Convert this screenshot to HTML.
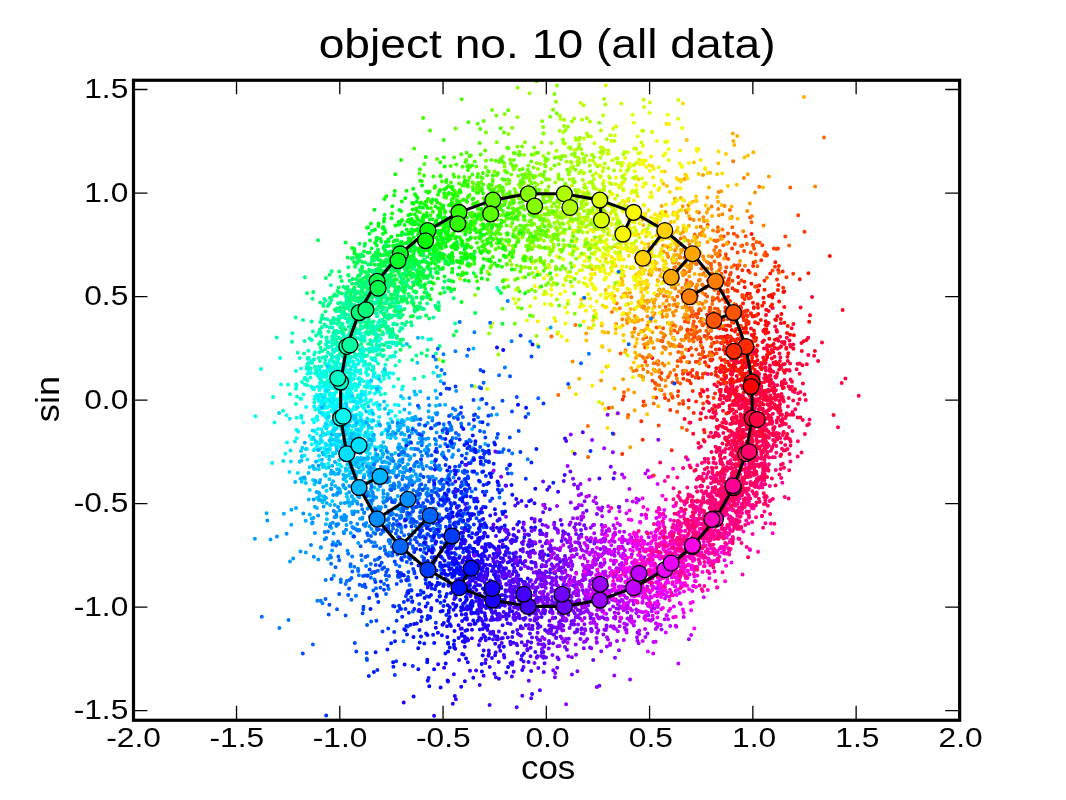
<!DOCTYPE html>
<html><head><meta charset="utf-8"><title>object no. 10 (all data)</title>
<style>html,body{margin:0;padding:0;background:#fff;width:1066px;height:800px;overflow:hidden}svg{display:block;will-change:transform}text{font-family:"Liberation Sans",sans-serif;fill:#000}</style></head>
<body>
<svg width="1066" height="800" viewBox="0 0 1066 800" style="position:absolute;left:0;top:0">
<rect width="1066" height="800" fill="#fff"/>
<defs><clipPath id="c"><rect x="133.25" y="80.00" width="826.15" height="640.00"/></clipPath></defs>
<g clip-path="url(#c)" fill="none" stroke-linecap="round" stroke-width="4.0">
<path stroke="#ff0037" d="M770.4 371.6h0M762.2 368h0M759 373.8h0M781.8 383.3h0M756.5 386.2h0M822 342.5h0M775.9 399.2h0M711 417.2h0M745.8 357.7h0M749.1 410.8h0M767.4 418.1h0M736 388.9h0M722.4 403.2h0M752.2 383.1h0M768.7 391.5h0M799.6 373.8h0M688 374.1h0M755.2 449h0M758 401.2h0M741 338.6h0M763 436.2h0M720.7 395.5h0M772.6 307.9h0M729 412.3h0M789.5 340.5h0M743 400.3h0M735.2 394.7h0M732.9 367.1h0M787.5 356.7h0M769.8 368.8h0M740.9 430.7h0M766.1 411.2h0M747.1 383.9h0M741.5 421.7h0M737.8 405.2h0M755 399.3h0M757.3 364.5h0M779.9 361h0M763.3 330.8h0M761 391.5h0M786.4 347.8h0M734.6 349.1h0M715.3 410.6h0M723 410.7h0M722.9 343h0M782.9 364.5h0M722.3 422.7h0"/>
<path stroke="#ff002b" d="M736.8 418.3h0M761.4 382.8h0M704 430h0M748.7 408.6h0M725.8 391.3h0M762.2 418.1h0M782.8 388.3h0M747.1 403.7h0M779.1 369.4h0M747 390.3h0M737 339.2h0M738.8 401.5h0M790.1 389h0M750.2 354.4h0M716.3 368.3h0M720.6 392h0M750.8 441.7h0M735.6 394.3h0M745.1 416.3h0M726.1 428.2h0M742.2 370.1h0M741.1 398.8h0M712.4 343.8h0M745.6 384.3h0M740.8 435.3h0M731.7 374.8h0M732.9 434.5h0M693.2 433.8h0M773.5 362.7h0M720.5 399.2h0M768.8 397.8h0M720.2 391.9h0M700.1 393.7h0M730.9 387.9h0M703.2 408.4h0M803.6 341.3h0M754.5 408h0M764.7 434.4h0M780 347.4h0M757.1 442.6h0M792 381.7h0M721.5 365.6h0M763.2 357.5h0M745.7 399.1h0M728.5 430.6h0M745.8 355.6h0M734 404.6h0M769.2 375.9h0M721.5 337.3h0M755.8 383.6h0M740.1 362.3h0M761.3 386.6h0M713 436.8h0M754.5 353.8h0M688.7 400.3h0M783.8 387.7h0M778.1 363.8h0M764 391.1h0M767.4 350.3h0M777.7 407h0M757.3 387.1h0M740.6 436.6h0M726.1 377.6h0M783.1 384.1h0M757.3 371.9h0M776.5 330.1h0M761.6 403.1h0M757.6 372.4h0M732.1 404.4h0M781.9 382h0M731 382.4h0M753.6 413.9h0M738.3 352.8h0M763.6 404.4h0"/>
<path stroke="#ff002b" d="M812.1 297h0M722 337.3h0M736.4 381.3h0M759.1 385.6h0M765.6 363h0M753.6 399.4h0M739.5 380.4h0M771.7 350.1h0M746.7 384.5h0M774.9 347.9h0M780.9 323.3h0M767.2 357.6h0M725.4 351.9h0M750.4 382.6h0M717 386.2h0M801.8 351.1h0M739.9 356.2h0M728.5 441.5h0M733 339.6h0M787.8 361h0M751 375.2h0M761.2 364.6h0M751 328.5h0M719.5 390h0M725.8 389.4h0M753.3 390.3h0M756.1 352.4h0M774.5 356.8h0M734.6 417.7h0M765 374.7h0M749.3 365.1h0M842.6 310h0M734.2 370.8h0M761 363h0M732.8 409.5h0M737.6 353.8h0M737.7 421.3h0M752.2 394h0M751.1 400.5h0M756.3 386.5h0M762.5 341.9h0M771.8 358.4h0M746.9 402.2h0M784.3 291.6h0M770.4 375.4h0M729.4 391.5h0M732.1 374.3h0M743.5 401.1h0M748.3 407.7h0M790.9 346.7h0M729.9 343.8h0M730.7 384.5h0M720.6 372h0M749.5 448.5h0M729.4 436.8h0M730.8 365.8h0M755 372.9h0M801.5 343h0M756.2 364.6h0M717 420.1h0M767.1 379h0M761.1 387.9h0M740 439.8h0M744.9 379.1h0M766.9 325.6h0M652.3 358.1h0M731.9 419.1h0M777.6 396.5h0M748.2 387.5h0M753.4 374h0M732 390.9h0"/>
<path stroke="#ff001e" d="M753.1 386.3h0M771 390.3h0M767.3 345.2h0M758.1 378.1h0M776 364.4h0M814.9 350.9h0M734.1 361.5h0M718.1 435.5h0M748.9 387.5h0M765.3 390.8h0M719 405h0M771 379.5h0M736 402.8h0M755 362.1h0M766 314.9h0M772.3 345.5h0M751 387h0M724.1 383.6h0M748.5 372h0M768.6 323h0M724.2 380.1h0M742.2 431h0M735.9 348.2h0M743.5 373.9h0M754.7 363.3h0M684.6 418.9h0M770.6 369.8h0M747.4 391.1h0M733.8 390.2h0M766 360.1h0M768.2 332.5h0M736.8 347.9h0M751.2 384.9h0M793.4 348.7h0M751.7 335h0M749.8 371.7h0M733.2 401.4h0M750.9 397.1h0M773.2 351.9h0M732 388.1h0M728.4 412.7h0M743.3 355.6h0M724.8 338.4h0M738.3 394.6h0"/>
<path stroke="#ff0600" d="M730.3 341.1h0M793.9 335.2h0M747.8 354.5h0M732.4 372.8h0M735.1 354h0M788.3 353.2h0M724.2 366.5h0M777.2 339h0M751.4 353.8h0M751.7 368h0M776 320.1h0M733 369.3h0M716 375h0M743.6 397.4h0M751.1 423.8h0M746.5 382h0M757.2 392.1h0M752 367.8h0M719.5 337.5h0M768.9 295.9h0M775 339.7h0M763.1 393.1h0M771.2 295.1h0M755.6 340.6h0M781.4 313.9h0M747.4 293.7h0M752.5 411.8h0M809.2 321.8h0M795 389.2h0M742.8 367.2h0M743.1 351.2h0M742 354h0M754.4 316.1h0M719.5 328.2h0"/>
<path stroke="#ff001e" d="M760.6 385.9h0M744.1 385.4h0M753.1 380.1h0M764 348.6h0M780.8 367.2h0M766 376.3h0M762.3 395.6h0M720.5 369.6h0M732.3 369h0M749 394.2h0M744 376.8h0M758.7 377.4h0M741.1 367.7h0M748.9 378h0M688.5 349.9h0M768.7 311h0M747.9 363.6h0M755.8 386.6h0M756.7 350.1h0M750.7 341.9h0M723.5 368.2h0M766.2 309.8h0M793.4 323.9h0M752.1 361h0M736.1 397.8h0M742.2 374.9h0M766.9 355.4h0M775.7 362.1h0M737.3 369.5h0M721.7 360h0M736.5 359.3h0M773.7 343.9h0M738.6 396.4h0M719.3 349.3h0M750.3 377.8h0M806.5 339.9h0M738.7 395.2h0M724.1 372.2h0M729.6 405.8h0M759 387h0M745.7 367.6h0M757 351h0M743.4 328.5h0M740.4 414.2h0M777 331.8h0M731.5 349.8h0M779.5 365.4h0M770.1 353.6h0M786.3 348.7h0M810 315.2h0M716.6 427.1h0M753.6 384h0M738.1 379.5h0M742.1 368.5h0M732.3 423.5h0M733.5 364.6h0M750.8 350.5h0M760.2 367.6h0M729.1 364h0M800.6 307.5h0M751.3 361.7h0M750.5 377.9h0M765.4 331.2h0M763.8 331.4h0M781.1 346.2h0M738.4 399.6h0M736.8 375.9h0M729.3 392.8h0M748.3 270.8h0M751.4 341.2h0M750.2 395.7h0M756.7 355.9h0M777.3 316.3h0M746.6 363.6h0M764 340.4h0M711.2 360.6h0"/>
<path stroke="#ff0600" d="M732.7 379.5h0M747.9 383.1h0M757.6 391.7h0M746.2 384.3h0M707.2 401.6h0M734.3 400.7h0M745.6 346.6h0M721 369.9h0M752.6 367.1h0M730.1 380.1h0M736.6 390.5h0M787 333.1h0M738 351.1h0M744.6 376.5h0M723.4 329h0M734.7 345.1h0M733.2 355.3h0M708.7 366.5h0M757.7 291.5h0M752.9 378.6h0M735 394.4h0M741.9 360.5h0M732.4 348.5h0M723.5 382.5h0M719.8 399.1h0M758.2 314h0M751.4 283.7h0M731.1 378.9h0M757.4 360.2h0M731.8 329.9h0M755.9 351h0M772.3 297.4h0M764.6 329.4h0M742.9 388.2h0M748.5 363.5h0M742.7 366.7h0M726.4 341.6h0M730.9 348.2h0M726.2 330.1h0M766.3 329.3h0M746.9 426.7h0M748.2 348.7h0M765.7 321.2h0M769.3 338.7h0M748.1 386.6h0M784.4 322.8h0M761.5 369.3h0M725.7 353.4h0M743.5 424.3h0M750.5 383.2h0M763.4 297.8h0M738.9 369.9h0M724.6 336.8h0M751.3 376.3h0M758 323.6h0M775.3 319.6h0M739.9 380.5h0M711.6 352.6h0M735.2 367.1h0M790.1 334.7h0M748.5 323.4h0M742.8 377.2h0M749.5 361.5h0"/>
<path stroke="#ff1300" d="M737.5 346.8h0M780.8 319.1h0M745.8 311.3h0M745.7 356.6h0M736.1 362.6h0M746.4 322.7h0M745.9 329h0M743.8 380.5h0M752.1 358h0M741.8 339.4h0M769.9 346.3h0M741.1 370.8h0M726.1 375.8h0M754.4 333.9h0M767.4 354.6h0M763.9 302.7h0M744.6 362.2h0M727.4 335.7h0M757.5 345.6h0M732.3 350.7h0M738.1 276.9h0M742.6 365.4h0M723.7 349.8h0M734.9 355.5h0M765.6 333.6h0M753.3 379.8h0M787.7 326h0M735 331.4h0M768.2 352.5h0"/>
<path stroke="#ff1300" d="M728.7 369.9h0M735.5 363.2h0M729.2 365.3h0M743.4 317.3h0M745.8 327.6h0M753 302.8h0M753.5 336.9h0M746.1 373.4h0M783.4 292h0M746.4 352h0M736.7 359h0M733.5 393.6h0M731.8 316.5h0M752.6 316.4h0M754.8 365.1h0M724 341.8h0M751.7 344.4h0M755.1 322.2h0M753.8 337.8h0M732.8 339.4h0M744.7 287.2h0M742.6 355.6h0M745 332.4h0M764 360.5h0M753.8 307.9h0M757.6 304.3h0M727.9 325.4h0M733.8 347.6h0M743.6 374h0M737.7 370.9h0M748.7 341.8h0M784.3 307.1h0M765.6 324.9h0M735.1 393.7h0M726.1 371h0M742.2 352.3h0M733.5 357.5h0M743.1 303.6h0M736.3 353.2h0M779.1 301.6h0M743.9 332.5h0M775.3 262.3h0M716.3 337.6h0M741.5 378.3h0M741 371.1h0M744.2 378.8h0M754.7 369.8h0M746.1 359.9h0M727.8 343.8h0M736.3 308.3h0M758 307.7h0M738.4 328.8h0M750.8 297.4h0M738.1 370.3h0M739.8 345.5h0M732.5 347.3h0M760.8 320.1h0M727.5 361.7h0M739 349.6h0M750.8 313.6h0M738.9 343.9h0M733.9 351.5h0M750.3 377h0M745.4 361.5h0M751.6 234.1h0M741.9 350.9h0M754 330.6h0M759.2 285.5h0M753.9 307.3h0M770.2 273.4h0M747.4 332.8h0M728.2 314h0M743.6 392.7h0M799.8 279.2h0M829.8 256.1h0M735.3 352.4h0"/>
<path stroke="#ff1f00" d="M773.8 294h0M744.4 358.9h0M727.1 348h0M740.2 330.5h0M728 296.9h0M733.6 322.8h0M736 342h0M727.4 337.9h0M783.5 370.6h0M740 373.7h0M736.2 329.1h0M741.2 315.4h0M733.2 339.8h0M730.3 336.4h0M734 359.1h0M756.2 337.9h0M740.1 345.9h0M737.8 369.7h0M752.2 351.1h0M758.2 290.2h0M741.6 371h0M764.5 289.7h0M749.8 293.7h0M778.3 284.9h0M738.2 339.2h0M740.8 326h0M730.5 369h0M731.7 314.8h0M739.5 348.6h0"/>
<path stroke="#ff1f00" d="M722.2 367.2h0M736.1 307h0M751 313.5h0M746.3 379h0M715.1 393.4h0M730.3 325.9h0M712.5 359.5h0M695.7 301.4h0M714.1 405.5h0M720.3 337h0M725.5 368.8h0M683.9 357.3h0M700.3 419.2h0M748.5 321.9h0M733.7 382.4h0M721 343h0M724.7 359.9h0M726.9 382.8h0M740.4 306.4h0M737.1 361.2h0M770.8 306.2h0M733.5 321.3h0M772.1 304.5h0M707 314.7h0M713.8 354.3h0M777.9 289.9h0M710.4 359.8h0M710.1 321.7h0M683.7 372.6h0M726.4 413.4h0M735.9 313.7h0M698.7 378h0M707.9 396.7h0M730.5 430.9h0M721.3 379.2h0M703.6 440.1h0M740.7 354.6h0M762.2 305.7h0M808.4 273.3h0M710.1 307.8h0M701.9 389.9h0M705.3 336.5h0M705.1 357h0M778.2 269.9h0M725.4 271.8h0M689.3 301.8h0M732.5 288.2h0M705 362.3h0M742.3 362.9h0M746.2 295.7h0M730.6 353.2h0M716.7 337.2h0M734.7 305.6h0"/>
<path stroke="#ff2c00" d="M689.2 380.7h0M696.1 401.4h0M656.6 363.1h0M701 413.5h0M715.7 371.7h0M750.8 382.7h0M777 279.5h0M767 255.1h0M751 353.1h0M741 337.6h0M622.2 454.1h0M730.1 395.8h0M697 373.1h0M737.9 343.8h0M690.8 383.3h0M713.9 342.8h0M710.6 337.4h0M727.6 354h0M737.5 265.5h0M764.5 280.7h0M689.1 362.2h0M745.5 340.9h0M748.9 298.5h0M700.8 396.2h0M692.7 391h0M671.7 450.2h0M700.8 341.9h0M744.4 281.7h0M745.6 311.3h0M703.6 356.9h0M704.6 432.2h0M732.6 352.9h0M741 307.8h0M729.1 344.6h0M693.7 413h0M743.3 312.2h0M622.7 399.6h0M656.2 397.7h0M725.2 382.9h0M737.4 291h0M738.7 283.2h0M753.5 262.4h0M683.2 403.7h0M744.3 311.6h0M707.9 323.1h0M642.7 439.7h0M741.2 346.3h0M752.3 355.5h0M718.2 382.3h0M742.9 315.3h0M702.4 347.8h0M746.5 324.4h0M683.3 378.8h0M747.6 316h0M721 371.2h0M743.8 320.3h0M747.6 310.4h0"/>
<path stroke="#ff2c00" d="M707.8 280.4h0M782.7 271.5h0M722.3 338.5h0M746.5 315.3h0M777.9 248.6h0M726.7 300.2h0M725.3 311.5h0M708.8 318.5h0M730.7 312.6h0M731.1 337.6h0M738.1 334.4h0M741.6 342.4h0M724.1 375.5h0M665 398h0M723.6 319.7h0M692.2 376.1h0M678.2 391.3h0M671.4 344.8h0M688.4 333.9h0M736.6 309.5h0M711.4 374h0M744.6 299.1h0M670.3 410h0M742.4 270.2h0M724.2 346.8h0M735.1 290.3h0M713.5 312.7h0M783.2 287.8h0M710.6 359.6h0M689.4 316.7h0M761.2 260.3h0M742.1 245.6h0M778.9 265.9h0M700.4 338.7h0M753.1 266h0M717.4 327.4h0M692.2 315h0M756.5 315.5h0M641.3 421.2h0"/>
<path stroke="#ff3800" d="M762.3 245.3h0M728.2 280.5h0M711.6 338.8h0M683 356.4h0M723.4 382.1h0M775 266.7h0M702.7 325.2h0M701.9 389.8h0M730 313h0M670.8 330.1h0M724.9 325.7h0M692.5 370.1h0M730.8 273.1h0M717.8 298h0M732.1 248.6h0M728.1 316.8h0M786.5 277.2h0M718.2 283.3h0M740.6 309.5h0M719.8 367.4h0M773.9 248.5h0M754.6 340.9h0M731.5 313.4h0M736.6 347.1h0M725.7 257.7h0M676.1 375.1h0M718.9 291.6h0M727.5 289.9h0M690.3 372.7h0M737.7 357.2h0M645.4 361.7h0M689.3 422.7h0M694.7 336.4h0M720.5 326.8h0M729 278.8h0M643.6 401.5h0M687.4 330.5h0M728.1 242.6h0M756.8 286.3h0M793.2 273.7h0M737.5 352h0M804.5 231.8h0M737.2 268.6h0M730 301.1h0M679 346.1h0M725.9 309.1h0M723.6 277.7h0M711.1 346.5h0M742.4 296.9h0M608.7 408.1h0M709.6 311.7h0M727.9 318.9h0M725.3 307.5h0M703.1 352.3h0M653.7 475.4h0M702.9 373.9h0M695.9 361.8h0"/>
<path stroke="#ff3800" d="M687.4 329.6h0M730.2 307.3h0M672.2 396.3h0M710 286.4h0M730.8 357.9h0M719.3 315h0M697.1 375.2h0M697 296.1h0M658 361.2h0M746.5 320.1h0M682.9 373.8h0M696.2 326.9h0M725.6 302.1h0M717.9 376.6h0M711.3 273.7h0M732.7 320.3h0M661.5 372.9h0M623.9 396.3h0M683.1 370.8h0M695.7 314.3h0M704.5 336.1h0M715.8 349.4h0"/>
<path stroke="#ff4500" d="M658.7 425.6h0M673 325.1h0M691.1 330h0M708.2 327h0M742.3 294.9h0M698.1 362h0M734.8 243.9h0M755.1 286.8h0M699.1 354.3h0M744.1 251h0M687.1 307.9h0M722.8 342.3h0M692.7 311.2h0M705.1 373.2h0M719.8 254.9h0M687.3 380.2h0M686.9 429.9h0M753.3 246h0M718.3 293.8h0M652.5 380.7h0M705.8 301.5h0M730 274.7h0M665.6 348h0M755.5 274.2h0M753.4 238.8h0M750.6 297h0M740.7 326.3h0M643.4 405.4h0M719.1 313.6h0M766 255.8h0M723.5 282.1h0M672.5 382.5h0M725.8 284.3h0M702.3 377.6h0M695.6 377.5h0M697 332.3h0M712.6 300.5h0M776.3 249.1h0M717.1 342h0M690 308.1h0M727.7 282h0M728.2 259h0M739.4 265.2h0M683 401.1h0M711.2 330.8h0M689.3 298h0M707.7 225h0M696.3 349.5h0M719.9 265h0M685.8 305.6h0M725.5 362.2h0M703.1 403.6h0M677.1 411.7h0M699.3 337.9h0M785.3 236.5h0M686.3 320.8h0M716.1 288.4h0M645.1 347.4h0M745.7 236.3h0M736.2 304.9h0M741.5 280.5h0M673.8 324.9h0M749.7 272.5h0M677.7 360.9h0M727.5 313.4h0M798.2 215.2h0M734.1 265.2h0M703.1 351.2h0M765.4 252.5h0M732.5 280.8h0M722.9 299.2h0M684.9 321.5h0M655.1 383h0M677.9 396.1h0M713.6 398h0M697.3 317.5h0M753 244.7h0M720.3 358.1h0M720.7 285.9h0M672.7 397.7h0M733.9 233.8h0M668.5 400.3h0M772.5 270.4h0M613.6 433.9h0M737.6 252.4h0"/>
<path stroke="#ff4500" d="M716.6 353.2h0M646.2 337.3h0M708.2 333.5h0M723.7 236.4h0M701.5 318.9h0M725.8 254.3h0M694.1 337.2h0M668 376.9h0M698.4 313.6h0"/>
<path stroke="#ff5200" d="M705.4 294.6h0M755.8 254.3h0M663.1 328.3h0M729.3 318.2h0M685.8 338h0M714.9 308.5h0M707.5 336.9h0M620.6 353.5h0M689.3 334.1h0M764.1 254.9h0M734.9 314h0M661.4 379.3h0M719.3 270.1h0M719.1 311.5h0M750.8 252.5h0M692.2 339.5h0M707.2 296.6h0M731.8 322.3h0M673.2 337.8h0M677.6 332.6h0M662.4 341.3h0M681.7 293.8h0M701.5 320.8h0M698.7 310.2h0M714.4 299h0M726.8 301.6h0M723.9 340h0M737 236.1h0M691 348h0M750.1 217.5h0M674.4 330.6h0M737.5 236.4h0M709.4 310.6h0M693.9 321.4h0M634.7 328.5h0M696.2 315.5h0M699.7 309h0M714.9 321h0M759.7 242.4h0M700.2 359.1h0M717.7 308.9h0M723.2 290.9h0M714.1 409.6h0M688.2 322.2h0M681 361.4h0M682 346.5h0M716.4 241h0M654.5 370h0M692 355.3h0M686.6 280.3h0M716.6 325.7h0M726.3 267.2h0M655.2 388.7h0M718.2 318.5h0M680.5 329h0M719.4 300.8h0M659.7 377.1h0M693.3 324.3h0M716.5 279.5h0M731.1 218.1h0M693.2 334.3h0M714.8 286h0M679.2 403.8h0M734.2 318.9h0M656.5 327.5h0M728 285.3h0"/>
<path stroke="#ff5e00" d="M708.4 263h0M738.6 265.8h0M680.8 358.2h0M702 354.5h0M674.4 267.7h0M730.9 315.6h0M688.7 319.3h0"/>
<path stroke="#ff5e00" d="M706.6 365.3h0M755.5 261.5h0M698.9 280.5h0M778.9 272.7h0M732.3 227.2h0M711.6 314h0M677.3 296.4h0M702.2 324.2h0M698.9 337h0M692.9 300.7h0M751.5 222.2h0M688.6 407.7h0M716 247h0M717.3 231.4h0M660.8 340.7h0M642.7 357.1h0M723.6 292.3h0M703.6 273.3h0M710.6 308.9h0M712.2 355h0M691.7 334.6h0M715.3 314.9h0M697.3 338.9h0M746.9 244.1h0M689.3 340.7h0M757.4 266.2h0M709.7 352.5h0M700 330.8h0M694.5 331.8h0M734.3 304.3h0M686.5 304.1h0M754.1 248.7h0M711.9 343.8h0M693 316.4h0M713.1 278.8h0M704.8 286.4h0M713.3 276.3h0M790.3 187.4h0M727.8 291.8h0M677.4 382h0M723.2 245.2h0M677 306.5h0M700.9 310.3h0M695.2 263.2h0M665.6 307.1h0M656.5 384.8h0M719.2 263.8h0M695.4 333.4h0M727.9 233.6h0M691.1 285.3h0M628.2 414.9h0M756.5 242h0M711 263.7h0M696.6 264.1h0M680.3 383.6h0M687.8 293.9h0M789.2 245.4h0M624 392.2h0M711.6 268.9h0M711 265.7h0M729.2 283.3h0M683.6 299.7h0M766.9 277.7h0M678.3 352h0M588.1 456.9h0M706.4 330.7h0M721.4 273.8h0M705.2 294.6h0"/>
<path stroke="#ff6b00" d="M707.2 268.5h0M679.8 344.3h0M720.8 236.6h0M708.2 355.7h0M690.1 218.7h0M680.7 238.4h0M705.6 288h0M693.5 341.5h0M664 295.9h0M661.3 313.4h0M684.4 257.8h0M677.4 366.2h0M711.9 256.8h0M712.2 273.2h0M661.5 390.2h0M712.8 297.5h0M686.2 370.9h0M587.9 425.9h0M714.4 290.1h0M558.3 395h0M683.9 270.7h0M701.4 268.5h0M647.2 357.6h0"/>
<path stroke="#ff6b00" d="M688 319.8h0M674.3 300h0M712.3 304h0M729.9 210.1h0M670.9 344.6h0M714.2 240.5h0M679.5 257.4h0M665 335.4h0M645.2 405.3h0M714.4 261.5h0M651.3 254.9h0M686.2 318.1h0M575.5 324.9h0M702.2 284.4h0M676.7 305.9h0M824 137.5h0M717.9 240.2h0M681.2 328.2h0M715.8 284h0M704.5 323.8h0M647.6 343.8h0M719.8 251.1h0M670.1 345.7h0M699.8 303.1h0M689.3 271.3h0M698.9 212.6h0M659.2 385.3h0M692.2 262.4h0M653.7 403.4h0M551.4 336.4h0M712.3 279.3h0M653.6 363.3h0M718 256.6h0M677.1 271.2h0M663.5 347h0M685.7 284.9h0M636.6 370.3h0M671.9 280.7h0M687.5 333.4h0M717.9 227.3h0M694.8 234.4h0M741.2 246h0M680.8 327.2h0M682 427.7h0"/>
<path stroke="#ff7700" d="M745 265.8h0M699.9 234h0M691.5 311.8h0M616.8 303.5h0M690.2 282.2h0M717.4 318h0M679.9 329.5h0M718.4 230.9h0M759.3 186.7h0M631.4 297.3h0M641.3 331.1h0M714.3 250.3h0M681.8 352.4h0M702.5 304.1h0M662.5 363.4h0M667.6 296.8h0M718.6 322.7h0M688.3 336.9h0M675.4 284.4h0M722.4 229.5h0M699.8 321.4h0M670.3 372.4h0M700.9 345.6h0M647.5 325.8h0M685.8 335.8h0M692.9 326.6h0M733.1 161.2h0M663.4 337.8h0M664.5 394.5h0M751.9 216.3h0M682.2 249.9h0M611.9 312h0M673.4 338h0M705.9 269.3h0M692.2 283.8h0M706.9 338.7h0M702.6 285.1h0M653.8 348h0M696.6 263.9h0"/>
<path stroke="#ff7700" d="M696.1 289.8h0M687.9 294.3h0M643.3 369.2h0M675.2 288.4h0M696.1 287.1h0M658.1 364.4h0M689.2 309.3h0M650.5 319.5h0M633.3 370.9h0M675.3 304.4h0M686.2 283.8h0M697.3 259.4h0M647.7 372h0M673.7 238.4h0M653.7 302.5h0M669.3 375.2h0M731.6 267.2h0M674.2 370.1h0M643.3 339.1h0M643.9 306.3h0M625.2 293.5h0M700.7 226.7h0M675.5 267h0"/>
<path stroke="#ff8400" d="M699.9 279.7h0M676.9 378.6h0M693.4 299.4h0M686.7 212.6h0M690.9 268.6h0M689.8 340.2h0M675 250.4h0M724.6 206.1h0M650.9 356.6h0M711.7 355.2h0M715.4 253.8h0M718.2 209.1h0M697.1 257.8h0M704.2 221.3h0M716.7 312.5h0M619.7 308.3h0M693.6 219.9h0M684.9 274.2h0M674.9 262.6h0M673.9 280.8h0M692.2 294.6h0M670.9 394h0M639.7 355.3h0M717.4 253.4h0M627.8 417.4h0M702.4 292.8h0M661.5 274.2h0M763.6 225.4h0M681.4 264.8h0M815.1 186.5h0M720.5 268h0M678.5 245.3h0M713 230.4h0M667.6 247h0M722.7 326h0M685.5 239.7h0M682.3 287.9h0M666.7 300.8h0M659.5 269.8h0M718.7 192.1h0M650.6 338.3h0M622.2 319.2h0M664.4 365.4h0M684.3 370.8h0M673.8 315.5h0M677.9 284.3h0M662.7 316.8h0M695.7 300.5h0M683.7 317.5h0M722.4 214.2h0M743.2 231.3h0M701.7 232.9h0"/>
<path stroke="#ff8400" d="M636.8 262.6h0M721.3 236.5h0M703.1 256.6h0M626.7 320.1h0M679 291.5h0M663.6 251.7h0M656.5 295h0M693.1 303.2h0M689.5 244.3h0M667.9 322.9h0M711.6 206.6h0M669.2 305.1h0M667.2 315.2h0M695 329.6h0M659.4 370.2h0M743.9 178.1h0M675.5 325.9h0M691.5 308.1h0M663 276.7h0"/>
<path stroke="#ff9000" d="M686 349.6h0M693.2 262.1h0M665.6 212.1h0M625.6 350.2h0M643.6 308.1h0M686.3 288.3h0M710.8 330h0M706.7 261.7h0M722.1 276.4h0M678.8 263.8h0M672.9 312.5h0M731.2 307.5h0M755 192.5h0M669.2 248.4h0M675.6 276.5h0M697.4 285h0M658.5 371.7h0M641.2 305.3h0M572.6 361.4h0M663.2 245.6h0M673.3 346h0M601.1 380.6h0M643.1 377.2h0M702.3 232.6h0M702.8 274.6h0M654.6 313.5h0M647.1 365.2h0M667.1 253.5h0M638.7 320.4h0M675.9 260.1h0M668.6 269.8h0M718.9 215.3h0M653.1 317h0M673.4 305h0M699 243h0M661.1 332.6h0M697.2 237h0M647.4 316.5h0M643.5 331.1h0M696.5 200.7h0M644.2 358.4h0M670.2 353.8h0M691.6 257.7h0M663.5 334.1h0M627.2 323.1h0M675.9 310.7h0M687 256h0M677.2 231.6h0M688.4 266.1h0M645.6 344.3h0M698.8 245.3h0M686.1 272.4h0M664.1 270.6h0M683.1 275.2h0M699.5 363.5h0M657.7 280.2h0M669.4 282.6h0M697.1 284.6h0M747.2 210.9h0M680.4 257.5h0M668.2 257.1h0M616.1 323.9h0M649.1 247.3h0M666.2 233.1h0M612.2 407.6h0M684.6 178.9h0M673.5 345h0M665.4 349.3h0M644 344.6h0M713.5 284.7h0M665.5 380.5h0M602.4 346.7h0M660.5 293h0M690.9 263.2h0M651.6 341.8h0M674.7 273.7h0"/>
<path stroke="#ff9000" d="M665.6 386.3h0M703.4 217.2h0M681.4 339.7h0M695.3 248.7h0M688.4 205.3h0"/>
<path stroke="#ff9d00" d="M689.3 286.6h0M686.9 361.9h0M666.5 277h0M647.6 300.4h0M688.1 298.2h0M685.8 263.5h0M687.7 315.2h0M703 175.1h0M668.4 342.5h0M663.6 281.7h0M662.5 233.3h0M630.2 447.3h0M724 258.6h0M649 355.1h0M677 230.7h0M667.3 269.6h0M731.9 216.7h0M682.3 353.9h0M632.8 336.6h0M705.4 301.6h0M643 273.5h0M673.5 270.1h0M704 259.6h0M642.1 365.7h0M648.8 301.4h0M658.2 231.9h0M708.7 256h0M657.1 361.6h0M689.3 276.6h0M688.1 300.5h0M707.4 197.6h0M659.6 306.8h0M686 307.4h0M666.2 310.5h0M629.9 292.8h0M749.8 203.6h0M654.4 306.7h0M721.3 191.2h0M623.1 379.3h0M692.9 300.6h0M654 303h0M688.3 319.2h0M697.2 256h0M649.3 354.9h0M647.5 286.6h0M670.9 333.8h0M651.6 373.9h0M726.8 244h0M685.1 314.3h0M705.7 275.9h0M683 232h0M707.5 241.9h0M657.4 339.9h0M634.2 392.5h0M740.1 260.9h0M662.7 311.1h0M704.2 307.7h0M641.5 376.1h0M586.2 333.5h0M684.4 237.2h0M690.9 292.4h0M768.9 176.5h0M667.7 255.5h0M615 245.9h0M654 261.4h0M649 274.2h0M696 246.5h0M659.5 289.5h0M650.8 320.9h0M679.5 255.5h0M691.3 266.4h0M685.9 210.5h0M642.2 319.7h0M699.3 219.7h0M688.1 240.7h0M701.8 235.3h0M635 346.4h0M632.5 321.1h0M628.2 389.8h0M672.6 297.9h0M666.6 316.4h0M677.8 278.7h0M669.5 345.1h0M674.3 239.5h0M699.5 274.6h0M635.9 357.7h0M669.5 309.5h0M682.7 206.3h0M651.9 262.4h0M634.7 316.1h0M644.2 301.1h0M635.9 319.6h0M691.2 300.7h0"/>
<path stroke="#ffa900" d="M689.7 284.4h0M675.5 346.5h0M675.3 285.3h0M608.2 332.4h0M623.8 294.2h0M651.1 275h0M704.8 236h0"/>
<path stroke="#ffa900" d="M687.5 267.4h0M634 332h0M672.5 277.9h0M706.8 212.5h0M634.7 410.2h0M747.7 174.2h0M680.9 233.8h0M569.3 387.5h0M681.2 252.3h0M671.8 287h0M680.8 249.7h0M652.6 332.3h0M627.9 318.2h0M733.4 140.9h0M676.8 254.9h0M732.7 133.5h0M655.5 371.2h0M631.2 368.1h0M637.9 320.9h0M655.3 299.4h0M681.8 290.9h0M671.1 328.2h0M638.6 334.3h0M703.7 220.2h0M639.8 302.5h0M660.3 275.9h0M721.6 239.1h0M700.5 253h0M708.4 208.9h0M682.1 272.8h0M663.4 289.6h0M716.7 272h0M703.2 229.4h0M672.1 322.7h0M659.7 389.8h0M641.5 306.8h0M683.7 340.2h0M617.3 413.6h0M674.1 271.5h0M634.7 322.3h0M683.5 301.6h0M610 294.9h0M661.6 206h0M648.4 342.1h0M718.1 201.8h0M685.1 262.4h0M620.9 284.4h0M645.8 309.3h0M629.3 319.6h0M627.1 314.3h0M703.7 229.8h0M648.4 256.1h0M672.9 262.7h0M626 293.6h0M658 295.8h0M640.3 267h0M686.9 310.7h0M662.2 352.9h0M682.4 307.6h0M634.5 309.1h0"/>
<path stroke="#ffb600" d="M630.5 308.9h0M703.1 234.4h0M696.4 227.2h0M712.1 216h0M656 243.8h0M708.9 187.4h0M614.6 388.6h0M698.9 303.8h0M639.2 375.5h0M659.7 327.1h0M688.9 225.7h0M671 249h0M614.6 295.9h0M658.2 406.3h0M627.7 304.2h0M668.7 296.3h0M640.3 304.1h0M664.4 269.5h0M638.3 302h0M673.2 233h0"/>
<path stroke="#ffb600" d="M672 259.7h0M670.9 329.3h0M676.3 247.9h0M678.1 303.4h0M689.1 216.3h0M646.7 280.7h0M605.7 290h0M592.1 269.2h0M643.4 296.1h0M601.7 325.6h0M726.7 243.1h0M694.6 273.9h0M674.5 339.5h0M615.8 329.1h0M695.9 243.1h0M647 287.8h0M643.4 225.2h0M669.8 324.2h0M632 332.7h0M674.8 198.5h0M648.4 244h0M666.2 292.3h0M686.9 286.3h0M624.4 313.5h0M753.3 152.2h0M635.1 352.4h0M648.4 307.7h0M737.2 135.9h0M579.2 378.8h0M697 211.7h0M628.7 317.8h0M642.5 219.8h0M680.8 197.8h0M606.6 366.8h0M666.9 314.8h0M703.3 319.3h0M731.6 206.5h0M656.9 223h0M621.4 278.2h0M644.7 289.2h0M674.2 255.1h0M653.4 369.4h0M645.6 329.3h0M647.1 303.1h0M652.3 342.7h0M734.3 144.9h0M692.1 241h0M684.5 265.2h0M803.8 96.9h0M678.5 244.8h0M656.3 269.5h0"/>
<path stroke="#ffc300" d="M622.6 325.5h0M586.4 340.6h0M627.3 296.4h0M718.4 163.3h0M693.9 162.4h0M670.5 245.1h0M623.4 334.9h0M648.1 264.7h0M630.8 268h0M683.8 228.4h0M663.3 183.8h0M653.3 397.2h0M658.1 281.3h0M717.4 197h0M763 187.5h0M698.7 250.7h0M736.7 184.8h0M661.3 291.7h0M614.4 308.4h0M649.7 270.9h0M664.8 215.1h0M625.1 352.2h0M602.6 331.8h0M683.8 200.5h0M730.1 218.2h0M623.9 276.1h0M655 267.7h0M647.1 414.2h0M656.5 263h0M652 299.4h0M695.8 239.6h0M663.3 303.8h0M668.6 363.3h0M707.4 220.7h0M659 290.6h0M644.8 270h0M666.9 185.9h0M605.8 259h0M641.7 268.3h0M670.8 222h0M643.1 379.7h0M710.1 172.8h0"/>
<path stroke="#ffc300" d="M744.5 157.4h0M656.3 241.5h0M675.9 244.3h0M692.7 201.7h0M748 155.4h0M622.4 281.3h0M637 339.1h0M660.4 213.2h0M646.9 311.1h0M670.4 293.1h0M686.8 140.1h0M604.8 332.6h0M641.2 292h0M721.6 204.9h0M652.5 312.8h0M737.7 218.8h0M645.3 335.7h0M633.5 244.1h0M636.9 355.3h0M686.5 303.4h0M621.5 297.3h0M651.7 248.2h0"/>
<path stroke="#ffcf00" d="M648.3 322.2h0M696.2 200.4h0M602.3 403.7h0M685.3 174.7h0M666.8 268.7h0M626.6 234.5h0M672.9 257.4h0M647.5 265.2h0M634.4 320.5h0M629.4 321.1h0M557.4 333.7h0M696 196.4h0M664.4 267.3h0M726 154.1h0M593.1 320.5h0M639.8 301.3h0M656.4 235.2h0M638.1 273.2h0M638.7 209.6h0M663.2 260.7h0M594.6 273.9h0M647.5 284.4h0M678.2 179.8h0M635.3 285.8h0M707.2 226.9h0M664.8 171.4h0M636.5 343h0M622.9 284.8h0M674.3 242.8h0M642.2 298.6h0M688.5 208.9h0M633.9 362.6h0M705.7 205.6h0M581.3 299.5h0M665.6 246h0M674.1 240.8h0M668.8 235h0M673.6 212.2h0M646 236.5h0M647.5 328h0M667.8 291.4h0M681.6 179.7h0M650.5 269.6h0M661.9 291.5h0M622.3 273.7h0M636 274.6h0M640.9 284.5h0M727.9 186h0M615.7 265.7h0M677.7 216.3h0M611.1 267.9h0M698.6 174h0M626.1 243.4h0M615.6 333.2h0M654.9 264.3h0M677.1 283.8h0M666.6 275h0M628.3 200.8h0M694.1 237.1h0M640.8 273h0M655.6 321.3h0"/>
<path stroke="#ffcf00" d="M717.1 174.3h0M609.3 350.4h0M660 238.3h0M627.4 250.3h0M588.6 327.9h0M638.5 179.3h0M669.5 237.9h0M673.2 338.2h0M644.3 289.3h0M650 250.6h0M628.5 219.4h0M660.5 252.3h0M710.4 238.9h0M681.2 266.8h0M639.3 282.5h0"/>
<path stroke="#ffdc00" d="M623.7 296.6h0M652.2 272.2h0M682.9 103.5h0M652.1 269.3h0M687.3 178.6h0M634.5 234.2h0M652.6 308.7h0M629.3 313.1h0M662.2 239.8h0M677 188.6h0M666 215.5h0M645.2 213.4h0M681.6 209.9h0M614.4 302h0M636.1 247.5h0M677.3 213h0M646.8 280.5h0M686 230.8h0M627.3 240.3h0M641.4 331.9h0M643 281.9h0M681 181.4h0M642.9 296.1h0M647.5 347.3h0M641.9 242.5h0M669.7 191.9h0M656.3 219h0M688.6 209.8h0M660.7 253.5h0M677.4 218.4h0M676.6 178h0M686.6 176h0M605.1 409h0M638.2 234.5h0M582.8 222.5h0M623.8 340.7h0M602.7 305.5h0M722.2 173.4h0M641.3 262.8h0M673.8 214.8h0M619.3 284.8h0M607.6 428.1h0M674.2 221.8h0M633.9 234.8h0M637.4 317.7h0M605.3 307.3h0M673.5 213.6h0M575.9 394.2h0M707.5 173.2h0M591.2 278.2h0M649.4 221.5h0M665.3 261.2h0M601.9 346.1h0M652.5 166.3h0M675 260h0M634.6 277.9h0M657.7 232h0M666.1 238.3h0M718.6 151.5h0M638.2 366.4h0M671.9 284.3h0M681.3 243.5h0M627.9 247.4h0M628.9 225.6h0M636.4 257.2h0M616.6 309.8h0M674.9 201.7h0M644.5 248.4h0M666 263.4h0M639.4 272h0M619.7 255.6h0M628.8 255.7h0M614.4 265.6h0M623.4 259.5h0M673.1 214.6h0"/>
<path stroke="#ffdc00" d="M646.5 231.9h0M679.1 210.8h0M660.2 254.4h0M654.4 219.5h0M593.8 316h0M677.8 227.8h0"/>
<path stroke="#ffe800" d="M606.7 298.1h0M690.2 203h0M637.6 196.2h0M617.5 289.7h0M591.5 328h0M634.5 214h0M668.4 323.2h0M594.5 310.8h0M666.1 230.1h0M618.1 247.8h0M673 271.3h0M656.8 225.9h0M700.6 159.9h0M643.2 273h0M606.6 307h0M624.7 202.1h0M662.2 274.8h0M600 268.6h0M643.5 270.1h0M698.6 244.2h0M661.4 248.9h0M644 271h0M673.6 260h0M641 288.2h0M649.5 165.2h0M648.2 284.8h0M631.6 211h0M660.3 225.4h0M665.9 204.6h0M649.2 258h0M651 192.7h0M655 214.3h0M610.6 213.4h0M683.4 225.5h0M686.7 227.9h0M604.7 255.1h0M633.8 267.9h0M641.1 274.6h0M670.9 245.3h0M612.6 264.9h0M633.8 277.3h0M641.9 302.9h0M643.9 205.5h0M637.3 285h0M606.1 212.9h0M705.3 169.2h0M634.6 227.6h0M678 231.9h0M614.3 286.3h0M601.8 323.2h0M634.5 222.2h0M617.6 290.2h0M628.4 208.2h0M634.5 249.6h0M698.3 149.2h0M611.8 270.9h0M635.3 235.3h0M611.8 257.1h0M666.4 123.7h0M656.3 241.8h0M653 177.6h0M555.5 320.9h0M594.6 239.8h0M648.6 210.2h0M649.7 329.9h0M592.3 385.8h0M637.7 306.2h0M644.1 214h0M651.1 217.2h0M567 340.6h0"/>
<path stroke="#fdf300" d="M641.8 301.8h0M590.5 298.6h0M603.4 226.2h0M635.4 257.5h0M608.1 366h0M585.7 310.7h0M639.4 164h0M673 203.8h0M627.3 288.7h0M610.1 295.2h0M661.7 171.5h0M645.2 229.7h0M620.2 327.2h0M638.4 275.9h0M682 166.6h0M669.7 249.5h0M608.1 221.3h0M537.7 321.5h0M658 238.8h0M632.1 251.1h0M646.5 230h0M591.5 283.8h0M608.8 286.7h0M588.3 294.3h0M622.3 314.6h0M629.5 290h0M632.9 377.3h0M547.5 328.9h0M627.3 199.7h0M643.4 257.8h0M644.5 283.4h0M653.7 169h0M621 244.4h0M644.6 215h0M616.9 230h0M623.4 182.3h0M596.9 301.5h0M636.6 277.7h0M663.5 155.7h0M631.4 193.1h0M643.3 163.9h0M638.1 219.1h0M663.9 265.3h0M665.2 215.2h0M669.1 124.1h0M663.7 214.3h0M580 307h0M602.2 371.8h0M646.3 166.9h0M645 216.3h0M630.1 251.2h0M615.5 326.1h0M605.4 298.1h0M697 151h0M595.4 289.5h0M618.6 205.5h0M642.9 161.9h0M654.3 293.6h0M658.4 190.1h0M653 264.4h0M657.9 215.9h0M659.6 188h0M651.1 156.6h0M667.8 216.1h0M612.1 266.6h0M591.9 266.1h0M672.5 240.8h0M596.5 317.9h0M590.8 244.9h0M590 279.9h0M665 269.6h0M657.1 285.3h0M679.7 163.4h0M680.2 150.4h0M614.4 300.3h0M590.9 274.3h0M652.7 261.8h0M661.5 180.4h0M639.3 213.6h0M644.7 244.3h0M623.4 271.4h0M658.6 240.7h0M652.5 241.9h0M622 266.5h0M650.6 223h0M705.1 167.9h0M605.5 273.6h0M655.3 220.6h0M645.7 160.5h0M583.7 321.5h0"/>
<path stroke="#f9fb00" d="M621.6 248h0M633.9 200.6h0M617 273.1h0M618.2 282.1h0M612.4 194.2h0M612.5 293.1h0M560.4 293.9h0M662.1 257.7h0M661.3 216.9h0M623.3 235.9h0M656.8 141.1h0M605.8 277.8h0M602.9 236h0M586.2 284.2h0M611.1 261.6h0M600 261.3h0M635.5 288h0M628.2 249.4h0M617.8 220.1h0M662 283.2h0M618.9 185.4h0M688.8 163.1h0M659.8 313h0M590.9 306.6h0M585 277.9h0M647.3 259.1h0M627.3 243h0M551.2 279.1h0M631.2 303h0M557.1 256.6h0M534.7 285.9h0M621.9 259.6h0M561.4 336.6h0M551.3 289.6h0M639.6 223.6h0M606.6 244.2h0M624.3 248.7h0M642 233.1h0M654.6 256h0M637.3 257.3h0M604.1 210.4h0M649.8 170.7h0M633.4 277.1h0M633.4 252.3h0M680.5 188.3h0M605 279.3h0M583.5 305.7h0M595.5 288.3h0M677.3 200.2h0M612 298.2h0M571.6 277.3h0M667.4 141.4h0M640.5 278.8h0M587.4 243.1h0M681.8 166.9h0M623.1 313.2h0M592.5 247.1h0M615.8 210.1h0M608.8 294h0M643.2 186.7h0M659.8 237.3h0M636.4 231.4h0M642.8 164h0M614.8 263.4h0M537.4 272.2h0M614.5 259.4h0M618.7 226.2h0M674.8 214.1h0M629.3 220.7h0M682.9 199.9h0M636.2 185.3h0M696.7 148.8h0M595.4 269.4h0M593.3 274.5h0M647.3 292.3h0M682.2 128.1h0M616.5 253.6h0M551.3 295h0M640.5 152.7h0M618.5 256.7h0M668.6 149.3h0M628.6 208.2h0M604.1 268.1h0M605.7 293.8h0M624 295.7h0M608.3 255.1h0M650.2 196.9h0"/>
<path stroke="#f0ff00" d="M636.9 281.5h0M643.6 204.7h0M629.6 163.7h0M556.6 274.9h0M649.7 232.9h0M611 193.7h0M570.4 277.1h0M644.1 183.6h0M621.1 269.6h0M587.2 286.2h0M579.5 256.8h0M655.1 218.7h0M652.1 256.2h0M590.7 229.7h0M567.3 312.8h0M544.8 303.9h0M642.1 130.8h0M608.7 205.4h0M584.9 260.9h0M609.3 274.1h0M600.8 294.9h0M652.6 267.1h0M573.2 241.5h0M574.4 265.8h0M620.4 272.1h0M647.7 234.7h0M620.7 256.1h0M568.3 300.7h0M654.3 185.6h0M622.9 163h0M563.2 259.6h0M614.4 288.2h0M608.5 251.3h0M645.3 254h0M546.5 293.7h0M593.5 231.8h0M605.2 242.6h0M625.1 174.2h0M634.3 279.5h0M636.5 189.5h0M642.3 160.4h0M651.8 251.8h0M583.9 254.5h0M639.2 264.4h0M652 196.8h0M632 266.7h0M565.2 307.4h0M609 231.2h0M622.6 200.8h0M595.8 247.1h0M604.1 150h0M543.9 278.3h0M620.6 239.2h0M569.8 253.8h0M592.9 285.4h0M565.1 291.4h0M576.5 273.4h0M593.5 288.3h0M620.5 242h0M539.6 287.4h0M619.4 252.5h0M634.2 227.6h0M629 234.7h0M599 240.9h0M603.8 181.1h0M609.5 235.1h0M602.8 253.4h0M596.8 258.9h0M667.7 114.8h0M622.9 211.7h0M634.8 171.3h0M615.9 177.7h0M661.8 211.4h0M618.8 259.7h0M540.5 262.3h0M601.7 213.5h0M631.4 235.5h0M631.2 247.9h0M607.3 262.8h0M604.3 279.4h0M623.4 190.4h0M607.7 203h0M609.4 182.7h0M618.8 285.1h0M600.3 271.2h0M653.4 255.9h0M633.9 122.7h0M665.3 153.6h0M576.3 230.9h0"/>
<path stroke="#e4ff00" d="M615.8 213.9h0M611.6 224.8h0M636.5 262.4h0M608.7 216.9h0M604.3 271.1h0M582.3 269.9h0M637.5 211h0M575.1 249.7h0M629.8 166.9h0M651.3 196.9h0M658.4 256.2h0M638.4 250.9h0M597.5 267.4h0M622.1 182.4h0M617.5 233.2h0M625.2 158h0M582.7 192.2h0M604.7 217.8h0M602.3 241.6h0M627.7 229.6h0M625.9 305h0M547.4 274.9h0M572.7 221.7h0M630.6 229.5h0M564.4 245.9h0M636.6 162.7h0M554.4 318h0M678.1 118.7h0M652.3 237h0M652.9 225.5h0M527 320.4h0M551.8 305.2h0M659.9 219.9h0M601.1 191.1h0M599.8 250.3h0M628.8 226.4h0M643.2 230.4h0M602.4 193.5h0M592.2 213.4h0M589.7 244.7h0M572.4 235.6h0M642.9 146.1h0M645.7 183.5h0M649.4 113.1h0M637.5 136.5h0M633.4 165.2h0M622.1 275.3h0M572.1 286.2h0M593.4 185.5h0M632.5 249.3h0M613.7 236h0M632.6 234.1h0M586.1 243.5h0M582.2 217.7h0M576.2 241.4h0M621.2 185.4h0M602.5 257h0M604.6 220.1h0M619.2 187.4h0M587.7 194.6h0M596.2 313.9h0M583.9 254h0M553.9 282.7h0M594.2 254.6h0M567.6 272h0M605.6 218.9h0M600.1 165.2h0M637.2 215.5h0M573.5 230.5h0M668.5 160.2h0M632.9 216.6h0M587.2 256.9h0M615.1 252.1h0M632 244.7h0M599.5 175.6h0M610.9 248h0M565.5 323.5h0M541.4 247.7h0M603.2 208.4h0M635.5 308.5h0M599.2 237.2h0M632.7 114.8h0M658.7 167.3h0"/>
<path stroke="#d7ff00" d="M618.2 223.9h0M588 210.2h0M595.2 252.1h0M624.3 205.2h0M621.6 208.7h0M631.3 244.1h0M583.2 265.8h0M565.5 278.8h0M616.9 217.1h0M627.7 214.4h0M632.5 221.7h0M546.1 247.5h0M605.7 85.6h0M606.6 239.8h0M572.1 199.3h0M590.7 265.2h0M587.7 246.2h0M642.1 178.5h0M621.6 165.8h0M438.7 359.2h0M626.6 206.3h0M615.6 184.1h0M595.2 247.4h0M678.4 99.9h0M597.1 209.4h0M611.7 268.3h0M665.2 142h0M567.3 276.6h0M549.4 267.8h0M597.4 242.2h0M627.6 240h0M582.7 194.9h0M605.2 254.3h0M618.9 220.5h0M627.8 152.3h0M579.2 191.6h0M603.9 247.5h0M597.1 229.4h0M591.8 240.5h0M638.5 153.4h0M609.1 176.5h0M513.7 298.7h0M619.1 232.4h0M604 187.5h0M571.8 247.1h0M628.9 198.4h0M631.7 232.1h0M515.7 302.9h0M578.8 282h0M661.5 253.8h0M626.7 266.7h0M589.2 260.7h0M611.4 223.6h0M533.1 262.9h0M635.3 178.6h0M535.2 298.1h0M600.8 176.2h0M550.4 304.3h0M620.7 170.6h0M584.9 193.3h0M633.8 243.3h0M474.9 386.6h0M652.1 132h0M630.1 210.8h0M598.2 212h0M608.4 247h0M581.3 304h0M583.7 283.3h0M635.9 230.7h0M538 260.1h0M616.2 126.6h0M579.5 270.4h0M616.5 252.9h0M574.5 150h0M586.4 238.9h0M615.6 244.9h0M585.1 298.2h0M605.4 261.2h0M607.6 228.2h0M581.7 226.8h0M622.7 226h0M543.6 294.3h0M583.2 201.5h0M599.5 223.9h0M606.3 249.5h0M522.9 277.5h0M606.1 201.8h0M586.7 266.9h0M619.9 203.7h0M530.2 306.2h0M628.5 166h0M623.4 237.1h0M595.3 224.4h0M614.8 135.4h0"/>
<path stroke="#cbff00" d="M606.1 249.7h0M548.9 264.7h0M593.8 325.1h0M595.2 163.8h0M589.3 160.2h0M597.6 201h0M487.3 389.1h0M592.3 182.8h0M537.7 345h0M622.5 177.8h0M579.5 172.9h0M641.5 142.4h0M595.6 266.9h0M613.2 128.7h0M602.7 147.9h0M644.1 107.1h0M594.6 229.5h0M634.2 148.6h0M639.4 237.5h0M611.4 141.1h0M605.3 196.1h0M636.5 193.1h0M564.7 233.2h0M600.8 242h0M616.2 158.6h0M551.6 285.5h0M632.5 191.1h0M649.8 102.6h0M602.5 154h0M604.7 195.7h0M643.8 99.8h0M623.2 189.2h0M563.4 285.1h0M570.6 217.7h0M569.2 225.6h0M598.8 228.5h0M590.9 136.5h0M545 291.5h0M565.7 280.6h0M577.3 248.6h0M548.6 231.1h0M583.8 138.5h0M598 266.6h0M628.3 169.3h0M596.1 245.5h0M595.6 213.5h0M560 189.3h0M634.7 213.6h0M633.8 191.4h0M594.4 143.3h0M572.7 451.9h0M602.7 171.2h0M613.2 206.2h0M516 289.7h0M621.3 103.5h0M577.2 161.6h0M588.8 182.6h0M607.7 153.8h0M607.2 223.8h0M595.8 173.2h0M523.6 256.1h0M627.5 355.3h0M506.9 279.8h0M612.1 262.6h0M613.2 219.1h0M587.7 192.1h0M636.2 176.8h0M579 213.7h0M586.6 199.3h0M600 195.1h0M608.6 153.8h0M598.9 402h0M626.7 246.3h0M558.1 332.2h0M611.8 206.8h0M639 159.7h0M507.7 256.2h0M588.5 249.2h0M636.3 149h0M622.1 177h0M615.1 198.8h0M603.5 167.8h0M492.3 323.5h0M626.9 208.1h0"/>
<path stroke="#beff00" d="M620.1 162.9h0M612.1 211.2h0M593.4 185h0M636 240.9h0M599.1 190.6h0M600.9 130.5h0M624.6 152h0M616.3 224.2h0M595.7 188.5h0M603.1 115.6h0M603.3 152h0M615.8 214.3h0M576.6 198.7h0M643 130.7h0M612.2 160.6h0M607 228.3h0M625.8 231.4h0M649.1 225.1h0M599.4 198.6h0M583.6 206.5h0M572.5 219.8h0M598.2 217h0M608.2 150.5h0M593.1 160.7h0M587.8 220.5h0M600.4 177.1h0M613.5 210.1h0M616.5 231.3h0M613.1 210.9h0M626.4 239.8h0M616.6 223.4h0M634.6 164.5h0M580.4 222.6h0M684.6 240.6h0M632.9 213.4h0M591.9 219.7h0M583.3 221.8h0M595.1 219.8h0M589.5 224.4h0M585.9 219.6h0M578.8 223.8h0M592.4 154.7h0M602.6 227.3h0M584.7 194h0M558.2 217.8h0M572.1 185.6h0M622.2 238.7h0M578.2 161.9h0M617.4 195.5h0M557.9 217.7h0M600.1 236.6h0M578 209.4h0M575.6 210.2h0M647.5 228.8h0M599.8 226.8h0M578.6 222.4h0M614.3 140.9h0M649.6 222.3h0M562.5 215.4h0M610.3 135.3h0M580.7 103h0M595.8 224.8h0M602.9 183.8h0M583.5 173.5h0M625.1 179h0M604.2 186.7h0M609.9 191.6h0M558.6 207h0M603 183.7h0M582.7 232.6h0M555.5 215.2h0M605.6 219.2h0M586.2 188h0M592.2 245.5h0M600.8 147.6h0M594 223.8h0M546.5 208.5h0M550.2 201.6h0M570.6 162.1h0M593.9 179.2h0M568 222.6h0M579.2 159.2h0M617.6 158.6h0M570.5 216.7h0M616 231.7h0M633.3 177.7h0M602.5 210.3h0"/>
<path stroke="#b1ff00" d="M587.7 217h0M609.8 178h0M605.4 104.5h0M578.2 197.6h0M583.8 172.8h0M589.9 121.6h0M592.9 207.7h0M606.8 139.2h0M620.1 252h0M595.2 216.1h0M587.6 225.7h0M556 214.2h0M576 140.1h0M603.9 190h0M551.1 249.5h0M603.8 231.4h0M567.3 186.5h0M611.4 184h0M579.2 214.6h0M564.9 143.6h0M587.3 232.3h0M562.1 222.9h0M607.6 197h0M587 203.4h0M617.9 221.6h0M563.5 132.2h0M616.8 237.7h0M541.1 210.5h0M602.9 265.2h0M598.1 248.7h0M577.7 213.7h0M558.5 207h0M570.5 220.3h0M604.9 163.4h0M560.2 213.1h0M562.1 200.5h0M623.4 154.2h0M600 223.3h0M583.6 105.2h0M579.6 217.5h0M572.1 168.2h0M576.3 191.1h0M590.4 245.4h0M579.3 144.2h0M607.8 234h0M593.4 224.7h0M616.1 228.4h0M578.9 216h0M599.2 226.3h0M578.5 189.9h0M600.4 157.7h0M561.7 212h0M579.1 172.7h0M570.9 167.4h0M586.9 133.5h0M591.6 222.5h0M627 170.5h0M556.2 228.6h0M560.6 119h0M576.6 149.5h0M585.9 227.1h0M548.3 225.6h0M566.9 197.4h0M591.6 253.2h0M584.6 184.6h0M622.7 176.1h0M581 171h0M564.9 185.5h0M574.1 213.5h0M618.8 243.2h0M608.4 168.3h0M613.8 239.2h0M584.2 161h0M588.8 213.5h0M549.1 222.6h0M551.3 210.8h0M569.4 179.6h0M607.4 203.6h0M578 231.3h0M617.4 162.9h0M600.5 239.4h0M593.3 187.9h0M570.2 220.7h0M547.8 190.4h0M576.5 193.1h0M602.8 229.5h0M580.1 221.4h0M548.7 247.2h0M565.8 217h0M582.1 119.7h0M592.9 175.5h0M552.8 234.9h0M459.9 278.8h0M600.3 152.2h0"/>
<path stroke="#a5ff00" d="M591.4 181.9h0M597.4 166.2h0M552 196.6h0M581.2 201.9h0M540.3 163.7h0M592.6 210.2h0M545.3 195.5h0M563.3 187h0M589.5 197.8h0M579.2 162.9h0M540.7 226.2h0M580 137.8h0M563.7 247.6h0M587.9 136.3h0M546.6 160.7h0M540.6 238.8h0M584.7 246.4h0M559.7 249.9h0M566.4 161.6h0M592 155h0M555.3 182.4h0M585.3 240.5h0M583.1 223.8h0M588.5 211.9h0M614.1 170.5h0M586.9 118.2h0M578.3 157.7h0M565.2 210.7h0M533.2 215.6h0M586 204.4h0M584.6 217.6h0M596.3 225.2h0M592.2 211.1h0M579 139.7h0M571.7 240.2h0M602 151.3h0M523.3 215.5h0M573.2 166.5h0M559.8 115.8h0M582.9 180h0M586.3 243h0M586.2 155.5h0M562.3 232.3h0M526.4 257.5h0M549 236.5h0M543.5 197.4h0M568.5 173.6h0M559.5 201.2h0M535 238.8h0M552.1 212h0M555.6 216.9h0M540.1 234.8h0M538 169.1h0M599.1 221.9h0M578.6 227.6h0M581 208.2h0M598.1 224.8h0M591.8 223.6h0M573.2 179.1h0M534 246.1h0M557.8 157.3h0M540.8 215.5h0M585.2 195.5h0M571.7 198.4h0M597.3 202.3h0M594.9 244.2h0M589.7 165.5h0M543.2 156h0M537.7 184.7h0M584 211h0M564.2 119.7h0M567.7 303.9h0M578.4 161.3h0M575.6 138.2h0M582.3 153.7h0M556.9 299.5h0M556.5 150.7h0M558.6 156.9h0M487.5 271.7h0M518 307.5h0M560.4 227.5h0M538.1 228h0M574.2 118.4h0M573 233h0M518.8 299.4h0M529.2 248.6h0M556.5 284.4h0M553.5 283.2h0M570.6 148.5h0M584.3 194.6h0M559.6 130.7h0M604.2 99h0M559.6 203.6h0M584.2 187.6h0M549.5 254.8h0"/>
<path stroke="#98ff00" d="M565.3 156h0M545.3 160.9h0M595 227.4h0M584.7 162.1h0M587.7 214.3h0M571.6 162.5h0M575.1 156.3h0M565.5 214.5h0M550.7 279.2h0M571.9 121.5h0M518.1 234.5h0M584 158.5h0M553.4 244.6h0M569.8 190.4h0M559.4 234.1h0M579.2 196.9h0M577.8 165.1h0M548.8 248.2h0M553.8 247.5h0M537.4 214.3h0M589.4 210.6h0M581 222.7h0M551.1 241h0M529.5 93.3h0M532.3 272.9h0M576.9 239.1h0M563.4 142.7h0M562.3 218.3h0M585.1 198.1h0M574.3 204.4h0M543.9 240.7h0M573.2 181.9h0M581.2 149.3h0M581.5 204.5h0M570.2 271.7h0M517.8 238h0M540 274.5h0M572.4 205.1h0M601.9 208.5h0M604.7 211.3h0M527.6 250.6h0M556.6 238.7h0M567.1 209.9h0M531.5 190.3h0M536.6 163.2h0M526.8 246h0M578.9 147.2h0M498.4 354.5h0M562.1 196.5h0M583.2 200.1h0M534.2 213.4h0M545.9 192.4h0M539.7 246.2h0M564 126h0M546.5 207.8h0M569.8 171.6h0M550.9 168.9h0M546.6 248.2h0M588.8 193.5h0M612 247.4h0M593.9 157.1h0M521.5 268.4h0M570.2 147.4h0M528.1 190.7h0M489.1 333.4h0M551.6 206.3h0M491 327.1h0M529.7 214.7h0M534.4 223.9h0M510.7 213.7h0M522.3 237.5h0M529.1 267.7h0M565.7 129.9h0M580.7 230.4h0M511.6 264.8h0M589.4 267.3h0M544.5 261.3h0M570.7 213.3h0M556.4 213.7h0M569 147.4h0M557.4 221.5h0M568.1 126.8h0M558.9 164.1h0M577.3 193.1h0M555.2 237.7h0M591.5 197.4h0M552.3 240.1h0M569.6 203.3h0M558.9 200.8h0M508.7 244.5h0M524.2 155h0M541.6 142.5h0M536.8 232.9h0M528.7 244.9h0M619.8 222.5h0M528.2 230h0M556.5 229.1h0M533.5 154.8h0M542.2 207.5h0M533.5 177.7h0M551.9 210.6h0M568.9 174.6h0M554.5 223h0"/>
<path stroke="#8cff00" d="M505.7 239.7h0M536.6 335.9h0M513.4 169.6h0M531.8 289.4h0M514 212.7h0M540.1 175h0M555.6 269.5h0M509.9 260.8h0M591.1 223.8h0M558.2 217.1h0M537.3 215.7h0M568.4 245.2h0M574.9 181.9h0M539.3 191.6h0M530.2 268.2h0M534.3 277.3h0M517.4 117.3h0M510.9 226.2h0M556.9 211.1h0M525.2 267.2h0M559.2 189h0M543.6 176.4h0M556.9 85.4h0M549.9 200.6h0M588.9 249.5h0M576.3 202.1h0M475.1 295h0M559.6 257.4h0M517.9 288.1h0M517.6 87.8h0M563 139.4h0M529.7 244.6h0M562.3 179.4h0M561.3 251.7h0M599.2 122.8h0M570.5 219h0M566.3 187.8h0M551.2 142.9h0M544.8 266.1h0M558.7 179.1h0M565.6 229.7h0M576.1 258.8h0M551.7 211.4h0M553.8 213.9h0M531.9 198.1h0M521.8 198.7h0M506.5 183.9h0M557.4 201.7h0M572.5 254.7h0M532.2 205.6h0M502.2 243.9h0M548.3 283.1h0M546.2 220.8h0M535.7 268.1h0M543.6 133.6h0M548.6 153.2h0M558.4 177.2h0M556.1 227.2h0M557.6 230.2h0M562.6 250.2h0M525.9 173.5h0M549.2 224.4h0M504.6 166.4h0M575.3 189.9h0M559.4 224h0M535.8 152.9h0M558.4 174.6h0M549.5 179.5h0M530.1 258.4h0M545.7 268h0M508.5 134h0M615.2 283h0M530.8 224.8h0M541.7 182.6h0M537.1 194.2h0M525.7 193.1h0M546.3 234.4h0M545.5 190.4h0M564.3 245h0M556.5 206.7h0M590.3 171.2h0M512.6 246h0M574.7 153.6h0M547.7 220.3h0M530.3 175.1h0M552.5 250.7h0M535.8 176.3h0M504.7 170.8h0M555.9 101.8h0M542.9 207.9h0M530 239.4h0M546.4 179.7h0M524.3 183.1h0M572 154.5h0M548.6 195.8h0"/>
<path stroke="#7fff00" d="M517.3 146.7h0M546 179.3h0M504.8 114h0M547.8 159.6h0M520.9 180.5h0M496.8 142.3h0M587.8 243h0M538.1 231.1h0M601.3 203.2h0M559.7 217h0M548.6 186.7h0M554.5 94h0M503.7 196.1h0M544 218.4h0M556.6 268.4h0M527.5 175.7h0M530.4 235h0M576.5 197.9h0M572.6 220.4h0M539.1 217h0M553 109.8h0M499.6 186.7h0M563.4 223.9h0M532.9 316.2h0M546.5 214.7h0M551.2 197.9h0M565.2 183.5h0M515 153.2h0M575.4 169.7h0M581.4 253.4h0M533.5 176.8h0M526.7 177.7h0M532 205.9h0M544.8 164.5h0M573.2 251.4h0M567.5 211.1h0M554 203.2h0M575.5 219h0M559.2 196.2h0M548.6 211.1h0M543.1 195.5h0M522.3 184.3h0M512.1 127.8h0M540.5 174.5h0M562.3 156.1h0M535.1 182.8h0M557.5 200.1h0M577 219.2h0M549.7 214.5h0M530 247.2h0M534.2 147.6h0M578.3 231.8h0M567.3 169.7h0M518.2 175.9h0M514.6 168.1h0M540.3 218.3h0M528.3 247.1h0M546.6 236.5h0M557.1 234.3h0M574.8 313.7h0M535 210.1h0M550.2 116.7h0M546.3 201.6h0M539.6 247.2h0M542.6 223.4h0M543.4 199.7h0M543.2 126.9h0M595 237.2h0M489.3 230.6h0M532.4 223.3h0M524.9 142.3h0M520.4 187.3h0M549.3 196.9h0M525.9 176.8h0M555.9 266.7h0M551 226.4h0M544.4 214.2h0M529.2 221.3h0M494.3 202h0M497.8 173h0M538.2 246.3h0M529.8 191.7h0M545.6 166.4h0M529.8 180.7h0M514.5 189h0M519 184.8h0M550.1 252h0M551.6 277.9h0M513.9 230.3h0M544.4 234.8h0M543.4 133.6h0M549 236.8h0M542.1 121.2h0M529.2 177.9h0M539.6 189.7h0M530.7 198.9h0M532.9 212.8h0"/>
<path stroke="#73ff00" d="M489.5 251.4h0M538.1 240.2h0M494.4 171.6h0M574.6 246.1h0M543.5 220.2h0M585.4 244h0M522 232.9h0M594 317.2h0M556.7 113.3h0M535.5 231.7h0M549.6 225.8h0M522.1 146.4h0M537 216.7h0M541.3 235.7h0M533.4 167.5h0M570.8 263.3h0M528.7 185.4h0M574.7 278.9h0M527.5 240.6h0M557.2 283.8h0M528.4 165.8h0M532.2 249h0M554.5 165.4h0M571.6 267.2h0M512 199.7h0M486 132.4h0M554.8 157.7h0M546 232.7h0M544.7 171.7h0M590 248.5h0M531.2 208.4h0M507.6 179.5h0M563.4 240.3h0M506.7 216.2h0M567.3 202.3h0M519.5 169.9h0M535.1 291.2h0M589.7 257.6h0M535.5 235.5h0M505.6 171.4h0M516.3 194.2h0M553.3 238h0M543.4 174.7h0M492.1 109.9h0M513.8 160.1h0M546.1 285h0M485.7 167.3h0M515.1 279.7h0M509.2 183.3h0M533.3 175.8h0M520 154.7h0M502.9 156.4h0M536.6 81.3h0M547.7 229.9h0M511.2 174.5h0M519.1 212.9h0M558.2 240.1h0M545.5 158.5h0M486 160.7h0M544.6 202.4h0M573.5 236.6h0M560.3 269.6h0M510.1 159.7h0M513 249.6h0M515.7 192.3h0M542 233.6h0M564.1 229.5h0M496.7 186.7h0M516.9 193.8h0M519.4 151.8h0M486.5 205.9h0M535.5 260.9h0M543.1 230.9h0M503.5 190.6h0M531.7 183.2h0M543.1 196h0M531.5 154.4h0M525.2 197h0M516 165.8h0M512.3 208.5h0M516.9 265.4h0M565.1 268.7h0M538 211.2h0M560.8 159.1h0M557.3 237.1h0M547.6 213.7h0"/>
<path stroke="#66ff00" d="M531.4 257.5h0M523.9 219.8h0M569.7 228.2h0M504.1 163h0M506.5 233.8h0M537 238.6h0M537.3 200.5h0M539.1 228.6h0M493.7 207.2h0M540.2 219.8h0M508.5 197.1h0M533.9 177.5h0M528.5 189.9h0M528 195.8h0M526.3 245.9h0M479.3 190.4h0M500.6 190.5h0M493.8 214h0M496.4 115.5h0M507.3 234.6h0M455.4 128.4h0M539.8 203.4h0M514.7 269.6h0M512.8 214h0M513.8 199.9h0M488.2 186.5h0M525.9 195.2h0M512.6 196.1h0M531.1 220.2h0M522.8 201.6h0M528.4 198h0M477.7 123.8h0M513.2 253.4h0M528.1 231.9h0M499.7 203.5h0M505.6 201.2h0M515.3 246.5h0M531.1 242.1h0M537.8 227.5h0M526.1 198.9h0M546.3 235.9h0M507.8 218.8h0M514.8 229.8h0M487.8 224.5h0M496.3 238.3h0M534.4 216.7h0M541.8 219.4h0M527.6 249.8h0M502.6 308.8h0M531.2 161.5h0M509.3 180.2h0M503.3 214.8h0M512.8 166.1h0M529.4 198.6h0M511 163.4h0M528.6 238.9h0M481.3 181.9h0M518.6 208.7h0M539.2 234.3h0M534.7 187.4h0M520.6 181.9h0M538 152.8h0M529.9 173h0M527.9 169.9h0M531.2 261.2h0M499.1 190.2h0M499.2 161.9h0M570.7 281.8h0M512 203.7h0M498.5 200.2h0M528.3 291.3h0M521.1 207.3h0M513.6 203h0M518.6 240.1h0M522.7 226.7h0M506.9 264.4h0M520.9 266.6h0M508.4 110.3h0M561.9 249.8h0M500.2 209.2h0M483.4 198.2h0M523 181.3h0M483.6 121.1h0M523.4 260.6h0M522.1 174.4h0M514.8 323.8h0M497.8 206.2h0M532.9 242.3h0M472.5 182.3h0M504.7 287.5h0M527.3 191h0M518.8 198h0M503 194.8h0M488.9 171.7h0M503.4 245.4h0M532 225h0M516.4 227.7h0M503.9 132.5h0M500.5 234.2h0M524.5 209.4h0M540 219.3h0M558.7 244.7h0M524.9 228.8h0M524.7 220.1h0M491.4 265.6h0M562.9 194.9h0M507.1 213.8h0M497.8 230.2h0"/>
<path stroke="#5aff00" d="M506.5 225.6h0M510.7 218.5h0M517 242.3h0M571.6 241.5h0M507.1 147.7h0M497.6 225h0M495.7 160.7h0M519.2 213.9h0M498.6 209.2h0M553.7 211.5h0M501 187.3h0M534 213.3h0M518.8 154.8h0M509.6 192.1h0M492.7 181.6h0M523.2 178h0M527.2 225.3h0M533.8 240.1h0M478.5 182.7h0M513.8 153.1h0M490.4 206.9h0M492.6 191.3h0M559.1 305.4h0M513.3 234.1h0M496.4 175.3h0M503.8 200.8h0M508.5 148.2h0M524.5 256.7h0M529.9 237.1h0M517.7 278.6h0M517.8 211.4h0M491.8 185.2h0M510.4 202.5h0M496.3 232h0M499.6 185.8h0M519.6 202.7h0M530.9 233.5h0M500.9 158.7h0M562.6 266.2h0M488.7 188h0M551.7 261h0M523.1 206h0M473.4 183.4h0M499.4 160.9h0M546.1 231.8h0M523.1 207.4h0M470 167.1h0M491.3 160h0M523 234.9h0M494.6 218.5h0M504.4 221.5h0M513.7 209h0M540.5 260.7h0M476.3 166.4h0M524 175.1h0M517.3 217.3h0M520.2 271.5h0M487.4 197.1h0M507.3 194.2h0M543.6 263.4h0M528.9 248.4h0M482.5 178.3h0M462.2 262.2h0M485.1 150.6h0M489.7 216.3h0M509.5 204.5h0M496.4 200.5h0M471 155.5h0M506.2 197.6h0M496.7 243h0M502.2 178.9h0M522.7 168.9h0M452.9 207.6h0M497.1 219.4h0M488.1 171.1h0M529.3 214.1h0M524.3 226.1h0M570.2 246h0M504.6 221.6h0M477 185h0M554.2 234.4h0M482.8 224.2h0M523.4 231h0M521 182h0M500.1 242.8h0M492.7 179.6h0M481.1 225h0M478.9 213.5h0M504.7 204.4h0M476.3 188.6h0M479.9 209.2h0M529.7 208h0"/>
<path stroke="#4dff00" d="M475.1 220.5h0M479.4 188.4h0M468.1 196.9h0M477.7 201.9h0M507.4 213.1h0M540.3 258h0M468.3 122.2h0M461.6 99.3h0M502.7 192.2h0M495.1 192.6h0M528.8 274.3h0M506.5 217.9h0M501.7 160.8h0M508.4 286.3h0M472.5 174.5h0M493.9 189h0M502 205h0M465.5 185.6h0M535.4 236.5h0M532.4 211.8h0M480.6 154.4h0M498.5 197.3h0M525.1 277.2h0M479.7 142.9h0M499.1 228.3h0M468.2 180.8h0M419.4 173.4h0M483.2 184.4h0M536.6 190.1h0M504.2 180h0M509.3 241h0M523.7 232.8h0M475 223.2h0M469.4 177.5h0M462.5 243h0M506.7 263.9h0M488.2 217.9h0M499.2 228.9h0M507 172.4h0M500.6 128.3h0M479 236.9h0M498.5 233.4h0M516.9 209.5h0M496.9 205.5h0M491.2 230.2h0M491.1 193h0M543.7 270.7h0M503.3 204.9h0M464.3 177.1h0M500 215.3h0M437.1 159h0M532.1 215.8h0M503.7 287.6h0M517.6 219.5h0M509 240h0M469.6 213.7h0M512.3 222.9h0M544.6 226.5h0M459 192.5h0M520.1 225.4h0M467.5 254.3h0M512.2 256.8h0M510.2 194.9h0M519.3 214.1h0M544.3 247.7h0M502.8 187.5h0M485.5 249.5h0M530.1 315.5h0M465.5 162h0M521.6 308.4h0M486.1 244.1h0M498.5 247.5h0M469.4 156.2h0M497.6 173.7h0M518 215.8h0M479 217.2h0M459.9 189.9h0M519.5 212.7h0M503 211h0M490.3 267.9h0M487.1 175.3h0M472.7 187.3h0M530.4 259.2h0M520.4 229.9h0M515.4 237.3h0M513.7 212h0M511.1 213.1h0M519 231.9h0M454.9 192.1h0M473 204.1h0M488.5 202h0M464 183.4h0M424.5 164.1h0M480.3 129.1h0M481.4 177.2h0M478 173.9h0M489.6 214.6h0M466.6 152.8h0M441.1 237.5h0M485.2 208.3h0M474.8 161.4h0M489.9 203.9h0M466.3 160.2h0M461.2 154.3h0M463.5 199.8h0M497.3 192.4h0M525.5 260.5h0M462.6 166.8h0M495.6 249.2h0"/>
<path stroke="#40ff00" d="M498.4 205.7h0M495 234.3h0M488.8 252.5h0M489.3 274.3h0M501.4 220.3h0M450.7 165.9h0M574.2 293.6h0M469.5 195h0M472 212.8h0M474.8 251.5h0M500.6 207.7h0M525.2 256.7h0M448.3 235.8h0M489.5 184.8h0M456.4 164.4h0M454.1 157.4h0M467.8 186.6h0M469 166.8h0M482.9 172.9h0M476.5 192.2h0M487.1 229h0M459.1 183.4h0M472.4 217.3h0M414.1 148.5h0M434.6 188h0M519.5 291.6h0M496.9 199h0M453.4 174.6h0M468.5 165.3h0M503.7 279.9h0M495.2 204.9h0M491.6 245.7h0M468.5 225.1h0M507.5 234.7h0M460.1 229.8h0M461.8 230.8h0M465.9 221.9h0M485.4 203.7h0M467.8 196.9h0M501 226.2h0M450.9 182.6h0M474 226.2h0M451.7 193.7h0M513.9 219.1h0M506.5 241.1h0M541.2 230.3h0M501.6 239.4h0M484.3 245.9h0M493.6 192.2h0M513.6 202.1h0M486.6 202.6h0M490.8 213.4h0M463.7 223.1h0M454.8 204.9h0M492.5 196.4h0M481.9 188.3h0M472.3 221.8h0M483.5 218.5h0M483.1 211.7h0M460.8 192.3h0M450 205.2h0M518.3 241.5h0M456.3 200.6h0M492.6 198.6h0M472.1 165.6h0M478.9 185.2h0M487.4 233.2h0M443.6 227.6h0M423.1 117.9h0M481.4 236.7h0M462.7 219.8h0M454.2 176.7h0M493.3 239.3h0M482.4 241.3h0M492.8 256.9h0M441.9 181.6h0M513.5 251.1h0M430 130.5h0"/>
<path stroke="#34ff00" d="M494.2 207.2h0M510.5 252.3h0M501.8 222.5h0M467.1 201.9h0M490.4 189.8h0M461.7 226.5h0M500.6 224.5h0M511.5 217.7h0M477.4 177h0M467.3 166.4h0M491.8 233.6h0M453 233.4h0M462.4 185.4h0M471.2 215.8h0M477.1 281.2h0M478.1 193h0M468 170.3h0M419.7 212.3h0M473.4 255.6h0M447.8 241h0M508.2 207.8h0M488.2 224.2h0M464 214.5h0M458.8 177.1h0M505.4 249.9h0M453.1 207.7h0M490.3 236.6h0M467.9 244.8h0M465.9 223.5h0M532.8 236.4h0M472.2 221.6h0M457.3 200.4h0M469.1 256.9h0M492.8 175.6h0M481.3 214.8h0M505.8 215.6h0M459.8 201.4h0M473.1 190h0M424.1 175.4h0M477 242.7h0M468.2 257.3h0M455.2 194.5h0M509.4 254.3h0M446.5 226.8h0M485.3 199h0M474.4 263.7h0M475 214.3h0M453.5 217.6h0M462 258h0M454.3 196.8h0M419.9 169.2h0M465.5 181.6h0M446.4 197.1h0M463.3 210.5h0M456.7 204.8h0M446 197.8h0M482.9 213h0M494.3 208.8h0M481.6 216.5h0M464.9 227h0M481.7 190.7h0M439.8 210.3h0M457.8 228.1h0M465.5 229.6h0M515.4 245.5h0M465.3 233.1h0M513.1 236.2h0M477.9 209h0M460 206h0M443.7 140h0M483.1 193.3h0M481.2 219.7h0M479.5 230.7h0M459.5 190.5h0M481.1 229.9h0M454.7 191h0M433.4 176.4h0M431.7 203h0M439.6 211h0M473.3 222.3h0M456.9 215.2h0M447.6 194.5h0M458.8 202.9h0M451.7 199.5h0M471.5 225.3h0M455.8 208.9h0M484.3 226.5h0M428 198.7h0M503.9 256.1h0M502.8 281.3h0M487.5 219.3h0M492.4 238.9h0M486.6 239.9h0M463.4 207.9h0M475.4 222.3h0M471.1 237.4h0M476.1 215.7h0M472.6 258.1h0M484.4 203.7h0M470.6 264.4h0M468.2 225.1h0"/>
<path stroke="#27ff00" d="M429.5 191.6h0M442.9 205.7h0M440.7 175.6h0M457.9 216.8h0M488 239.2h0M452.6 189.6h0M484.7 202.1h0M448.1 234.1h0M482.3 246.6h0M475.4 203.2h0M505 247.6h0M580 325.4h0M460.7 204.8h0M524.3 216.5h0M498.1 265.7h0M459.8 192.3h0M461.6 244.8h0M452.9 198.3h0M487.5 279.6h0M466 231.7h0M446.4 180h0M515.8 217.1h0M453.4 211.6h0M459.2 220.7h0M496.8 226.1h0M492 225.8h0M483.4 244.9h0M448.3 186.1h0M470.6 229.5h0M432.9 211.8h0M465.8 222h0M439.1 214.4h0M482.3 212.5h0M467.5 240.1h0M470.1 232.4h0M458.6 229.3h0M475.6 228.9h0M471.3 247.2h0M441.9 248.5h0M476 276.4h0M440.4 176.5h0M458.3 262.3h0M483.3 250.5h0M420.2 180.7h0M541.2 286.5h0M466.4 200.4h0M485.9 217.9h0M448.9 205.3h0M430.4 215.2h0M488 225.8h0M430.6 201.6h0M493.8 224.2h0M440.4 203.9h0M488.8 260.6h0M494.8 263.3h0M473.6 204.5h0M444.8 212.8h0M462.8 272.5h0M462.2 263h0M441.6 230.5h0M469.2 266h0M523.2 258.6h0M457.2 195.7h0M438 194.7h0M462.1 241.1h0M475.3 238.1h0M459.8 237.2h0M478.6 248h0M490.9 242.7h0M463.5 219.2h0M421.7 181.1h0M450.5 187.1h0M512.5 256.9h0M444.5 197.1h0M503.9 246.6h0M461.6 225.6h0M440.3 162.3h0M483.5 258.8h0M472.6 199.2h0M416.9 217.1h0M501.9 266.8h0M444.9 227.5h0M483.8 228.2h0M455.2 230.6h0M463.1 199.7h0M452.4 259.4h0M492.1 219.8h0M430.9 207.9h0M457.6 196.1h0M458.7 206.8h0M490 223.9h0M450.4 219.3h0M463.9 211.2h0M481.1 253.1h0M459.1 223h0M459 228.4h0M503.8 255.6h0M476.5 232.2h0M487.2 259.7h0M452.9 235h0M466.4 244.6h0"/>
<path stroke="#1bff00" d="M484.4 234.8h0M450.8 211.5h0M452.1 219.6h0M451.2 246.4h0M469.6 228h0M465.7 253h0M550.2 273.3h0M438.1 208.5h0M458 202.4h0M459.5 221.1h0M507.6 233.3h0M463.5 273.9h0M468.9 239.8h0M421.2 202.4h0M464.6 181.1h0M426.2 191.6h0M467.7 228.8h0M473.2 198.4h0M435.1 186.2h0M424.1 203.8h0M467.7 184.8h0M443.9 157.3h0M437.4 224.2h0M445.7 246.5h0M448.9 220.5h0M461.4 275.2h0M467.2 265.2h0M442.3 206.7h0M508.3 214.4h0M410.8 214.3h0M432.5 228.5h0M444.2 189.5h0M443.8 223.9h0M424.4 217h0M464.1 253.4h0M488.1 243.1h0M464.2 227.7h0M463.3 228h0M460.9 239.8h0M440.5 214.1h0M471 247.6h0M452.5 186.7h0M438.2 234.3h0M451.2 203.6h0M461.6 243.8h0M474.1 260.3h0M413.6 203.7h0M444.4 229.6h0M460.7 253.1h0M477.5 216.6h0M451.9 202.6h0M450 259.6h0M466 247.3h0M456.1 211h0M448 224.2h0M459.7 191.1h0M463.3 229.3h0M448.1 235.8h0M457.7 213.1h0M439.9 208.5h0M440.6 232.2h0M457.6 202h0M426.8 212.9h0M452.2 252.7h0M442.2 255.5h0M498.4 239.9h0M520.2 233.6h0M459.3 216.8h0M427.7 208.2h0M446.2 182h0M440.4 223.3h0M451.3 204.2h0M440.9 234.9h0M441.2 233.3h0M413 221.2h0M445.3 211.6h0M467.9 246h0M477.1 219.2h0M459 225.6h0M432.4 262.1h0M401.1 160.1h0M480.1 215.5h0M440.2 190.1h0M452.7 194.6h0M425.7 157.1h0M474.7 251.7h0M490.8 261.5h0M454.4 231h0M424.5 225.2h0M444.2 193.4h0M455 212.9h0M443.4 208.7h0M445.5 220.4h0M479.9 238.4h0M461.2 257.6h0M446.6 219.2h0M470.8 221.5h0M496.9 265.7h0"/>
<path stroke="#0eff00" d="M455.2 213.2h0M456.4 204.5h0M402.2 220.1h0M445.8 234h0M435.3 253.4h0M437.2 202.3h0M445.2 243.2h0M445.8 238.1h0M436.6 220.3h0M445.5 223h0M448.3 230.6h0M428.4 234.7h0M442.6 241.9h0M448.5 264.5h0M452 236h0M483.3 228.1h0M450.8 238.7h0M440.4 293.4h0M466.1 247.9h0M438 240.2h0M426.1 201.4h0M457.5 247.2h0M425.7 232.2h0M480.1 233h0M487.4 251.7h0M483.4 224.7h0M401 242.4h0M470.6 254.8h0M463.1 216.1h0M426.3 205.5h0M437.8 245.3h0M406.5 190.7h0M470.5 224.2h0M419.9 203h0M537.2 275h0M438.8 253.9h0M412.7 203.1h0M464.3 223.6h0M416.2 208.5h0M445.1 217.3h0M438 215.7h0M475.3 215.8h0M502.6 248.4h0M481.2 272.4h0M423.1 220.3h0M448.8 193.1h0M451.3 256.2h0M455.4 238.6h0M462.4 242.3h0M489.6 260.5h0M415 194.3h0M492 227.5h0M439.2 191.6h0M467 217.5h0M428.3 234.2h0M418.1 230.5h0M437.9 225h0M446.9 220.8h0M418.8 224.7h0M481.3 269.4h0M452.3 269.1h0M412.4 264.3h0M481.8 252.6h0M436.2 223.5h0M436.7 231.6h0M433.6 283.4h0M423.8 246.5h0M439.8 247.5h0M399.3 222h0M459.3 217.4h0M448.1 257h0M395.3 174.3h0M447.4 236.9h0M454.6 243.6h0M428.4 192.6h0M480.2 251.4h0M409.6 232.6h0M474.2 229.8h0M447.9 219.4h0M440.1 211.7h0M453.2 281.6h0M386.3 196.2h0M444.7 166.4h0M409.6 266.2h0M417.6 198.1h0"/>
<path stroke="#06ff04" d="M511.8 269.5h0M431.2 282.3h0M452.9 245.2h0M435.5 206.4h0M449.9 236.1h0M474.6 257.5h0M401.8 201.6h0M458.8 230.7h0M481.5 209h0M435.5 247.1h0M407.2 221.2h0M452.5 225.4h0M430.5 228h0M460.3 262.8h0M483.4 266.3h0M482.7 267.7h0M453.8 226.2h0M459.9 261.3h0M434.8 246.1h0M428.8 228.3h0M425.2 235.1h0M418.9 232.1h0M439.3 243.7h0M499.7 260.4h0M431.2 226.9h0M416.9 211h0M470.4 237.9h0M423.6 215.1h0M442.3 269.1h0M489.7 259.7h0M450.9 257.1h0M410.2 243.5h0M443.9 239.1h0M505.7 257.1h0M455.8 246.7h0M439.2 244.7h0M440.4 224.6h0M456.6 245.2h0M432.1 239h0M446 188.3h0M453.6 217.3h0M438 254.6h0M401 211h0M422.8 228h0M412.7 209.5h0M431.4 258.7h0M422.7 222.2h0M448.8 227.3h0M429.4 244.4h0M437.5 231.2h0M456.8 245.1h0M441.6 244.8h0M394.3 195.3h0M440.3 254.6h0M445.7 246.5h0M420.9 227.8h0M417.3 219h0M420.6 234.9h0M434.1 231.8h0M464.4 256.5h0M408.2 219.9h0M454 244.8h0M452.2 247.5h0M421.4 233.1h0M428.1 250.6h0M412.1 202.9h0M435.1 252h0M426.9 225.8h0M422.9 261.6h0M436.1 199.9h0M424 224.7h0M451.2 204.7h0M434.7 224.2h0M422.9 273h0M424 236h0M433.5 250.5h0M415.1 224.3h0M416.4 196.4h0M456.8 261h0M421.9 254.3h0M384.4 199h0M419.9 221.1h0M456.3 237h0M435.2 225.7h0M412.4 233h0M437.2 243.6h0M435.7 222.2h0"/>
<path stroke="#02ff0d" d="M397.2 261.2h0M391.3 263.7h0M452.9 256.7h0M395.3 225.6h0M426.9 216.2h0M445.4 232h0M465.6 256.7h0M425.4 276.3h0M424.7 224.8h0M408.8 238.3h0M415.8 229.9h0M443.9 258.3h0M411.4 229.6h0M410.3 223h0M448.6 240.3h0M439.9 235.6h0M384.4 218.4h0M394.2 248.4h0M397.2 240.3h0M423.4 242.4h0M414.9 214.5h0M422 185.5h0M425.6 224h0M457.1 244.1h0M412.8 260.2h0M410.1 219.8h0M433.2 249.1h0M449 255.2h0M420.9 243.2h0M411.6 218.9h0M394.8 191h0M410.9 242h0M443.1 229.9h0M410.9 240.1h0M441.9 258.5h0M392.3 206.2h0M435.4 246.8h0M415.3 259.5h0M438.1 266.7h0M455.4 249.2h0M404.6 225.1h0M433.4 236.3h0M427.3 293.7h0M406.8 229.5h0M429.8 253.7h0M413.4 263.6h0M397 251.9h0M410.6 239.2h0M429.5 242.2h0M421.1 235h0M466.7 273.3h0M472 258.3h0M444.4 227.5h0M425.3 223.2h0M439.9 215.8h0M442.6 218.2h0M400.8 222h0M401.7 243.6h0M405.3 198.2h0M443.3 205.7h0M422.5 217.7h0M420.8 272.5h0M438.3 231.6h0M499.2 242.8h0M422.7 247h0M414.6 230.5h0M413.2 188.8h0M419.2 241.1h0M447.5 233.7h0M451.8 254.6h0M409.7 245.1h0M418.2 235.2h0M424.3 286.2h0M412.5 224.6h0M408.5 233.7h0M414.9 222.1h0M420 238.9h0M392.9 245.7h0M418.8 252h0M435.5 258.6h0M419.9 232.4h0M392.1 213.5h0M443.1 361.3h0M481.7 278.4h0M413.8 237.4h0M420.4 254.7h0M388.4 241.4h0M425.6 250.2h0M464.8 280.2h0M467.6 257.7h0M466.2 259h0M422.8 260.7h0M450.1 288.5h0M427.4 233h0M408.8 240.2h0M408.7 248.2h0M431 228.9h0"/>
<path stroke="#00ff17" d="M439.4 252.6h0M410.6 244.1h0M413.6 256.2h0M408.3 215.3h0M418.4 234.4h0M374.4 209.8h0M432.7 199.6h0M391.5 236.8h0M399.3 224.5h0M413.9 243.6h0M403.3 278.2h0M416.7 201.7h0M432.5 219.3h0M438.7 217.3h0M427.3 242.5h0M402.2 244.6h0M398.4 244.4h0M426.7 216.4h0M378.5 225.9h0M438.8 231h0M352.1 247.9h0M464.6 249.6h0M441 247.7h0M429.9 219.4h0M370.9 223.4h0M401.8 253.2h0M456.8 248.9h0M393.2 260h0M398.8 222.6h0M444.2 254.9h0M424 227.9h0M438.1 225.4h0M421.3 249.9h0M432.9 254.3h0M378.6 223.4h0M409.5 245h0M430.8 299.2h0M427.2 267.2h0M354.1 248.7h0M400.4 281.9h0M413.3 254.3h0M374.9 229.7h0M401 261h0M383.4 227h0M408.7 232.4h0M397.6 235.5h0M391.3 218.3h0M419 242.4h0M423.2 207.8h0M404.9 287.2h0M456.1 227.9h0M408.9 255.9h0M421.1 233.6h0M418.9 248.6h0M442.9 254.1h0M443.3 238.4h0M442.9 219.8h0M415.9 261.7h0M413.6 285h0M437.9 278.6h0M419.5 207h0M452.1 272.3h0M391.9 285h0M436.5 237.8h0M432.5 240.7h0M432.7 238.1h0M402.9 259.9h0M481.4 234.6h0M385.4 232.3h0M448.1 287.7h0M397.4 251h0M410 249.1h0M421.2 225.6h0M422.7 274.8h0M402 289.9h0M402.3 232.3h0M419.6 271.2h0M435.6 264.1h0M430.8 263.4h0M383.9 221.5h0M443 268.1h0M408.3 279.8h0M354.5 253.5h0M465.8 246.5h0M525.1 293.2h0M436.2 221.7h0M440.5 231.8h0M439.1 244.9h0M423.3 251.3h0M400.4 245.9h0M439 261.2h0M391.1 237.1h0M419.2 249.8h0M438.9 257.4h0M451.6 262.4h0M421.6 207.6h0M422 242h0M437.9 273.1h0M410.8 261.1h0M478.1 288.5h0M401.3 235.1h0M449.5 258.3h0M425.1 284.2h0M465.2 234.5h0"/>
<path stroke="#00ff24" d="M411.8 233.9h0M409.3 259.2h0M426.6 236.6h0M443.4 241.2h0M407.7 272.1h0M447.4 263.1h0M413.2 303.9h0M376.5 238.1h0M426.1 261.9h0M461.5 302.1h0M426 233.1h0M398.6 222.1h0M462.9 246h0M412.6 229.9h0M432.4 236h0M416.5 278.9h0M414.1 267.8h0M395.4 245.7h0M418.9 267.1h0M413.2 243.6h0M398.1 253.3h0M408 259.3h0M395.3 256.3h0M433.3 261.4h0M420.6 238.6h0M410.9 256.7h0M398.3 265h0M437 250.1h0M392.3 264.9h0M416.8 270.5h0M416 223h0M397.4 256.8h0M423.5 247.3h0M429.3 295.4h0M383 233.8h0M408.8 273.4h0M369.6 252.5h0M394.8 249.6h0M456.9 242h0M436.4 257.6h0M392.6 252.1h0M374.1 283.6h0M406.1 275.3h0M411.5 247.1h0M415.2 249.7h0M413 276.7h0M385.8 241.9h0M431.3 244.6h0M385.3 251.2h0M425.9 228.7h0M404.4 265.2h0M440.5 239.4h0M406.8 249.2h0M457.9 274.5h0M431.8 288.9h0M399.3 210h0M405.7 243.2h0M394.9 258.2h0M380.6 238.9h0M401.4 252.1h0M416.3 264.3h0M359.1 260.6h0M418.7 277.1h0M390.3 259.2h0M410.8 251h0M430.6 268.9h0M396.9 270.2h0M393.6 241.4h0M412.3 221.9h0M418.7 262.7h0M424 246.3h0M414.5 247.1h0M398.6 224.6h0M397 257.3h0M402.8 249h0M411.9 229.7h0M419.1 280.2h0M415.5 222.7h0M454.2 289.3h0M416.4 292h0M459.3 267.4h0M404.2 292.3h0M430.4 274.8h0M375.8 252.6h0M390.4 280.8h0M427 297.4h0M367 227.8h0M410.3 262.5h0M405 262.9h0M386.2 255.1h0M377.7 256.7h0M417.6 228.9h0M444.6 276.5h0M410.4 275h0M422.1 252.8h0M383.1 254.9h0M375 243h0M393.8 270.9h0M419.8 278.4h0M468.8 280.9h0M396.3 250.5h0M424.5 292.4h0M382.7 228.2h0"/>
<path stroke="#00ff31" d="M435 268.6h0M385.9 262.6h0M382.6 273h0M388.4 253.5h0M400.1 246.4h0M354.6 251h0M468 263.2h0M406.7 276.1h0M396.2 256.4h0M398.7 311.6h0M395.3 260.2h0M501 293.1h0M421.3 242.6h0M388.7 246.1h0M424.2 236.7h0M407.5 267.5h0M502.5 323.8h0M425.3 240h0M381.4 263h0M405.9 283.1h0M413.3 273.7h0M407.7 259.8h0M398.3 272.5h0M414.4 265h0M368.2 227.2h0M390.3 251.8h0M414.2 251.3h0M403.5 264h0M406.1 271.1h0M401.8 241.8h0M428.1 268h0M412.4 243.2h0M384 272.9h0M438.8 309.9h0M388.4 239.5h0M418.8 271.6h0M394.9 249.8h0M401 258.2h0M376.8 245.4h0M372.9 260.7h0M385.9 246.4h0M368.2 275.7h0M428.3 265.8h0M384.7 229.7h0M400.5 243.3h0M450.8 281.1h0M434.6 255.1h0M406.9 242.9h0M384.5 260.9h0M412.3 260.7h0M430.9 247h0M421.3 252.1h0M415.5 248h0M412.8 268.6h0M390.6 257.1h0M385.2 250.8h0M365.4 271.9h0M420.5 281.4h0M396.7 279.6h0M378 252.6h0M388.1 267h0M391 265.3h0M373.6 255.8h0M370.1 240.6h0M389.4 255.7h0M379 254.9h0M384.6 214.7h0M368.3 276h0M398.8 261.1h0M425.2 288.7h0M437.9 261.3h0M405.4 234.2h0M377.6 237.9h0M404.5 256.8h0M427.6 262.7h0M376.5 240.4h0M411 250.7h0M463 259.4h0M419.7 274.6h0M381.2 241.8h0M402.8 257.8h0M446 260.9h0M355.3 265.9h0M392.4 251.3h0M378.4 264.7h0M405.3 269.8h0M417.8 273h0M417.8 284.2h0M371.5 248.5h0M356.9 257.1h0M420.9 267.2h0M345.6 242.4h0M427.4 278.1h0M369.5 233.8h0M403.2 263.7h0"/>
<path stroke="#00ff3d" d="M394 266.8h0M378 249.8h0M444.8 260.1h0M429.5 250.1h0M439.2 254h0M418.4 281.6h0M422.8 297.2h0M422.7 275.5h0M394.6 279.7h0M395 240.6h0M379.5 329.9h0M385.9 261.8h0M391.7 295h0M404.3 263.1h0M427.2 256.9h0M380.9 266.4h0M400.4 311.8h0M400.2 275.3h0M390.1 274.5h0M411.9 277.6h0M378.6 290.4h0M379.2 253.6h0M408.6 260.4h0M408.1 266.9h0M370.8 264.3h0M410.9 316.5h0M391.1 275.1h0M396.7 255.3h0M369.6 270.7h0M453.1 262.7h0M423.8 278.1h0M370.5 281.1h0M435.3 256.4h0M382 255.4h0M445.3 263.4h0M358.6 281.1h0M380.4 260.6h0M413.4 255.3h0M422.8 270.8h0M381.1 273.9h0M389.9 252.3h0M402.2 278.2h0M385.9 251.8h0M411.4 288h0M411.7 262.8h0M389.2 285.2h0M417.8 309.4h0M419.8 262h0M433.8 256.6h0M354.3 287.8h0M423.2 255.6h0M363.3 255.9h0M376.3 257.1h0M365 243.8h0M432 254.8h0M374.1 259.9h0M428.1 275.9h0M423.5 269.7h0M401.8 281.6h0M473.6 254.2h0M473.8 273.2h0M393.2 258.5h0M374.4 255.1h0M396.3 308.8h0M423 254.7h0M416.8 261h0M383.4 248h0M400.6 252.6h0M406.5 274.5h0M391.6 271.4h0M422.5 285.6h0M413.6 303.1h0M436.4 258.9h0M390.4 306.9h0M436.2 272.4h0M377.1 291.8h0M412.9 316.1h0M405.6 263.8h0M368 284.7h0M425.8 261.7h0M394.7 250.3h0M364 251.4h0M394.3 268h0M415.7 275.6h0M374.3 285.7h0M375.5 283.5h0M383.3 264.7h0M402 233.6h0M387.1 281.7h0M372.3 257.1h0M387.5 269.8h0M408.7 268.1h0M395.7 288.4h0M418.7 281.4h0"/>
<path stroke="#00ff4a" d="M372 230.7h0M384.1 246.1h0M384.7 287.4h0M386.5 259.8h0M421.8 298.8h0M451.1 291.3h0M404.6 282.2h0M423.9 270.4h0M368 289.1h0M448.7 280.3h0M389.1 275.6h0M391.5 281.4h0M414.5 307h0M376.4 272.4h0M404.1 267.7h0M376.1 270.3h0M372.4 258.6h0M353 289.6h0M347.6 257.5h0M423.1 271.9h0M379.2 287.5h0M397.3 294.5h0M368.5 275.8h0M360.5 256.4h0M362.5 288.8h0M390.4 266.9h0M400 257.8h0M377.1 269.9h0M382.3 265.9h0M377.8 259.5h0M394.9 275.7h0M350.7 296.4h0M410.3 271.4h0M372.9 272.6h0M423 254.7h0M353 258.1h0M390.7 264.6h0M364.8 277.4h0M385.7 282.3h0M384.6 286.7h0M406.4 298.8h0M402 298.3h0M396.3 264.6h0M414.1 261.1h0M374.9 287.4h0M382.5 264.2h0M397.2 244.7h0M401.5 299.9h0M367.7 252.7h0M353.6 297.5h0M365.2 262.4h0M389.4 262.2h0M362.4 267.5h0M375.8 269.8h0M374.8 264.7h0M357.4 255.1h0M380.1 265.1h0M388.1 278.6h0M383.4 291.1h0M395.1 260.2h0M388.7 259.5h0M356.9 255.3h0M380.3 260.5h0M403.1 273.7h0M388.4 275.9h0M403.4 263.9h0M392.6 257.7h0M383.8 247.9h0M354.1 261.9h0M407 284.7h0M447.8 288.2h0M453.8 335.2h0M358.1 276h0M398.6 287h0M384.9 265h0M396.6 263.5h0M439.7 269h0M392.8 258.6h0M382.6 290.5h0M390.7 280.1h0M400.9 262.9h0M357.4 263.1h0M420.2 285.2h0M422.6 298.6h0M426.1 315.4h0M394.4 248.9h0M399.2 260.9h0M391.6 275.2h0M377.6 286.7h0M386.5 260.6h0M378.8 303.3h0M391.3 298.6h0M399 271h0M355.7 297.6h0M373.5 289.7h0M403 265.7h0M395 291h0M417.5 271.4h0M382.2 294.6h0M382.6 287h0M401.7 310.1h0M359.4 255.3h0M394.6 283h0M396.9 287.8h0"/>
<path stroke="#00ff56" d="M363.9 282.4h0M369 280.2h0M393.7 285.7h0M403.6 297.9h0M407.5 279.9h0M432.7 277.2h0M358.4 259.8h0M361.5 296.2h0M361.5 283.8h0M389.1 281.1h0M375.1 294.7h0M418.8 264.8h0M364.7 245.8h0M395.3 286.4h0M380.9 270h0M360.8 271.3h0M382.8 270.9h0M421.5 297.5h0M391.1 277.1h0M436.7 271.9h0M338.8 287.5h0M363.8 285.4h0M410.4 262.9h0M379.9 284.8h0M334.8 309.8h0M376.3 277.3h0M376.1 284.2h0M407.6 263.6h0M393.9 315.4h0M361.1 254.4h0M382.7 287.5h0M344.2 307.7h0M394.2 286h0M379.7 302h0M368.3 280h0M389.9 264.5h0M382.9 273.6h0M369.5 289h0M375.3 271.1h0M413.9 291.3h0M401.9 274.4h0M475.2 313.1h0M390.2 268.8h0M430.5 272.2h0M401.7 280.5h0M405.9 300.4h0M382.3 289.4h0M354.7 292.5h0M402.1 301.6h0M376.2 253.7h0M378 289.8h0M407.3 302.7h0M379 271.6h0M396.5 298.1h0M359.5 243.8h0M386.1 278.5h0M377.3 289h0M369.2 280.3h0M400.6 349.7h0M389.1 282.3h0M363.5 282.2h0M318 240.2h0M365.8 281.9h0M397.6 292.1h0M429.3 269.5h0M380 302.3h0M450.5 262.8h0M420 303.1h0M415.7 292.6h0M371.6 294h0M394.5 310.9h0M359.3 275.7h0M383.8 307.4h0M371.9 271h0M377.9 268.8h0M348.3 274.9h0M363.4 305.9h0M368.3 298.3h0M384.5 271h0M372.3 297.2h0M359.2 298.4h0M391.8 268.1h0M386.3 266.5h0M393.9 269.7h0M339.2 271.4h0M397 336.2h0M403.4 260h0M346.7 299.9h0M386.1 278.5h0M382.5 325.6h0M352.8 278.9h0M387.7 283.2h0"/>
<path stroke="#00ff63" d="M374.1 311.2h0M376.3 281.6h0M381.4 303.6h0M386.1 244.7h0M443.3 288.1h0M381.3 291.8h0M394.5 310.8h0M379.5 296.2h0M361.2 256h0M362.1 266.4h0M420.4 287h0M429.1 318.5h0M329.7 274.7h0M397.7 290.3h0M380.9 294.3h0M374 295.3h0M374 282.2h0M367.2 322.7h0M367 275.5h0M411.6 302h0M385.9 303.5h0M341.7 280.9h0M415.4 281.9h0M352.8 278.9h0M348.8 302.5h0M362.2 279.1h0M394.3 306.6h0M353 299.4h0M384.8 276.9h0M406.6 273h0M373.2 283.8h0M381.4 299.6h0M424.1 259.8h0M369.7 291.3h0M362.3 262.1h0M358.2 259.3h0M358.7 285.7h0M356.6 332.6h0M428.9 282.3h0M374.1 296.1h0M359.9 310.1h0M412.7 299.8h0M414.6 310.3h0M444.6 292.3h0M355.2 266.7h0M382.2 277.3h0M389.7 329.5h0M397 308.5h0M398.8 302.8h0M360.1 270.1h0M422.1 308.8h0M388.6 298.4h0M356.7 279h0M364.5 297.9h0M386.2 288.4h0M375.5 285.8h0M400.2 339.9h0M358.2 308.3h0M347.9 318.7h0M386.9 283.4h0M408.6 294.1h0M374.1 271.2h0M352.1 283.8h0M390.9 294.7h0M456.3 331.2h0M366.9 287.7h0M355.6 291h0M359.1 292.3h0M384.7 313.8h0M397.8 302.6h0M366 294.7h0M378.6 288.5h0M381.9 282h0M351.7 291.8h0M400.4 289.3h0M379.7 279.9h0M363.2 299.4h0M360.7 273.8h0M337.4 291.1h0M369.1 334.1h0M387.6 316.6h0M360.6 280.5h0M365.8 322.5h0M416.4 297.6h0M378.9 285h0M367.5 273.2h0M380.8 300.8h0M359.8 298.6h0M350.2 293.5h0M369 307.7h0M400 275.7h0M364.7 294.1h0M397.1 307.5h0M386.2 275.6h0M385.1 295.4h0M394 298.7h0M409.3 296.2h0M390.5 283.3h0M391.8 305.9h0M417.1 306.4h0M382.1 292.8h0M384.6 316.7h0M401.2 297.1h0M363 292h0M382.7 297.2h0M351.5 258.6h0M383.9 286.1h0M444.5 281.6h0M361.4 314.7h0M384.1 290h0"/>
<path stroke="#00ff6f" d="M399 269.3h0M412.9 282.2h0M345.5 288.2h0M380.3 296.9h0M367 279.3h0M412.1 359.9h0M405.3 290.2h0M351.3 303.9h0M342 293.5h0M385.3 273.4h0M365.4 303.6h0M353 297.2h0M377.2 309.4h0M367.2 299h0M357.2 307.3h0M362 307.2h0M378.8 306.7h0M376.5 284.8h0M388.2 284.4h0M402.4 284.6h0M373.4 294.4h0M366.1 307.5h0M381.3 286.2h0M338.6 320.5h0M359.5 307.6h0M320.2 302.6h0M439 306.2h0M333.3 322.1h0M329.9 298.1h0M343.9 311.8h0M419.5 306.9h0M323.4 305.9h0M375.3 309.9h0M400.4 310.5h0M362.3 270.9h0M383 292.7h0M378.1 292.2h0M346.6 292.3h0M350.9 292.4h0M388 318.4h0M378.7 304.5h0M325.9 278.1h0M382.8 320.2h0M360.9 284.3h0M339.3 292.8h0M381.4 282.1h0M368.4 318.4h0M400.4 317.5h0M368.5 280.7h0M381.1 307.7h0M365.5 286.7h0M365.7 285.5h0M362.4 303.3h0M356.1 310.2h0M386.9 328.9h0M394.2 285h0M387.3 269.8h0M370.2 328.2h0M358.7 298.4h0M387.2 276.2h0M313.3 292h0M361.7 284.4h0M384.4 321.7h0M380.4 285.5h0M357.1 307.6h0M345.5 329.6h0M374.5 291.7h0M370.2 308.3h0M360 297.3h0M369.1 269.6h0M375.1 287.5h0M348.6 275.7h0M368.6 306.9h0M383.8 278.1h0M397.6 296.3h0M380.7 285h0M356 283.8h0M365.8 304.8h0M385.5 295.3h0M334.8 294.4h0M373.9 278.4h0M392.6 331.8h0M374.3 303.8h0M370.4 277.8h0M376 295.1h0M409.7 346.8h0M412.7 266.3h0M349.9 318.1h0M381.9 304h0M384.3 344.9h0M388.2 318.7h0M378.5 283.4h0M369.2 302.5h0M392.7 262.1h0M361 291.3h0M354.6 297.8h0M333.2 296.3h0M437.6 309.1h0M378 302.3h0"/>
<path stroke="#00ff7c" d="M328.7 304.8h0M360.2 285.6h0M401.7 280.1h0M387.6 300.5h0M369.2 332.3h0M382.8 332.3h0M427.5 350h0M379.3 294.4h0M348.2 305.2h0M377.7 327.9h0M349.7 332.8h0M421.6 353.3h0M304.8 277.3h0M349 290.2h0M453.7 298.3h0M340.4 276.7h0M375.6 259.2h0M383 293.7h0M359.7 293h0M414.8 311.5h0M413.3 276.3h0M366.1 306.1h0M389.9 330.9h0M390.8 280.8h0M368.5 283.9h0M411 322.2h0M391.2 317.6h0M401.1 277.7h0M406.4 283.5h0M402.2 323.4h0M335.2 339.5h0M370.5 322.2h0M411.8 301.5h0M379.6 286.6h0M360.6 338.2h0M347.5 286.7h0M380.5 320.6h0M336.7 331.1h0M361.8 288.1h0M343.7 304.7h0M362.9 306.8h0M398.9 317.5h0M366 281.6h0M391.8 270.9h0M401.8 288.1h0M351.8 327.2h0M349.2 305h0M371.6 260.9h0M411.7 297.1h0M348.4 267.2h0M388.4 291.6h0M382.7 356.3h0M341.4 328.2h0M390 281.9h0M359.3 286.1h0M364.2 306.1h0M499.1 290.8h0M342.1 314.3h0M355 300.5h0M382.7 281.2h0M346.6 293.4h0M397.6 292.6h0M349.5 280.7h0M360.4 322.4h0M420 317.3h0M395.6 296h0M361.1 317.3h0M340.1 307.2h0M405.7 272.1h0M426.7 355.8h0M405.7 282.2h0M373.6 277.1h0M356.8 301h0M360.9 306.8h0M372.4 288h0M406.8 321.9h0M336.8 308.5h0M356.2 330.6h0M402.9 339.6h0M374.9 284.2h0M357.5 300.8h0M334.6 330.9h0M438.5 302.5h0M385.9 297.9h0M396.8 311.8h0M347.6 288.3h0M331.3 323.2h0M368.2 264.4h0M312.6 298.8h0M343.4 286.8h0M394.8 293.5h0M307 293.2h0M339 316.8h0M379.1 273.2h0M325.4 311.5h0M354.4 289.8h0M402.6 314.9h0M375.9 327.3h0M362.9 308.4h0M346.7 296.6h0M357.4 283.1h0M371.3 294.4h0M337 295.7h0M367.9 301.5h0M381.6 326.4h0M383.3 350.1h0M404.2 296.2h0"/>
<path stroke="#00ff88" d="M370.9 327.4h0M377.6 282h0M376.5 314h0M333.5 317.9h0M369.2 295.6h0M343.7 314.1h0M355.4 323.4h0M356.6 293.4h0M346.4 308.2h0M344.1 303.8h0M346.9 303.9h0M409.1 287.3h0M360 314.7h0M383.8 325.1h0M388.9 314.7h0M426.7 292.3h0M354.6 299.4h0M371.5 279.9h0M387.2 283.9h0M372.2 295.7h0M354.5 329.1h0M396.9 324.6h0M439.7 346h0M353.7 316.2h0M376.4 288.8h0M349.6 337.3h0M435.4 305.7h0M359.2 300.5h0M318.9 344.1h0M367.5 312.1h0M350.6 304.7h0M327.8 305.9h0M345.6 295.8h0M353.4 311.4h0M373.4 333.4h0M349.8 297.3h0M354.7 306h0M396.2 306.4h0M388.4 287.5h0M346.2 314.7h0M364.3 326.6h0M380.4 312.1h0M378 335.9h0M390.1 334h0M397 299.4h0M383.4 314.3h0M361.2 326.5h0M364.1 297.3h0M366.2 283.7h0M420.7 307.6h0M349.8 300h0M436 307.4h0M336.1 311.3h0M338.1 303.3h0M380.9 324.9h0M350.9 330.1h0M371.9 327.7h0M370.8 279.2h0M380.3 306.9h0M380.3 286.6h0M373.3 292.7h0M377.3 300.1h0M426.3 296.9h0M404.5 308.9h0M370.9 329.3h0M377.2 328h0M392.2 328.9h0M362.6 309.5h0M375.6 288.9h0M396.7 308h0M369.4 304.7h0M427.2 303.5h0M361.5 344.1h0M349.6 309.9h0M373.6 321.4h0M377.5 316h0M344.9 313.7h0M382.2 284.4h0M362.9 300.4h0M331.6 271.3h0M371.6 300.8h0M350.9 300.4h0M342.8 313.5h0M356.5 333.1h0M354.3 296.4h0M341.1 307.4h0M358.7 321.2h0M360.5 312.3h0M398.3 314.8h0M354.6 293.9h0M376.6 297.1h0M340.4 310.4h0M342.2 331.4h0M358.8 316h0"/>
<path stroke="#00ff95" d="M424 309h0M374.4 302.7h0M352.8 341.3h0M360.8 334.1h0M318.9 332.4h0M376.9 290.9h0M396.9 306.3h0M357.9 315.2h0M328.6 331.4h0M359.5 349.4h0M337.6 324h0M391.5 301.7h0M324.5 324.5h0M376.9 302.4h0M321.3 318.4h0M330.9 285.2h0M352.3 325.3h0M386.6 311h0M382.8 309.5h0M439.9 375.8h0M340.5 317.7h0M372.3 306h0M384.1 295.7h0M381.2 312h0M365.8 325.6h0M346.5 298h0M411.7 325.5h0M385.4 323.4h0M365.2 306.1h0M455.1 323.5h0M352.6 310.5h0M376.4 338.8h0M347.8 340.5h0M391.8 302.5h0M372.9 303.1h0M376.8 344.3h0M366.1 332.9h0M371.1 310h0M331.2 299.9h0M354.3 313.4h0M339.1 322.3h0M320.4 322h0M320.5 342.1h0M347.9 307.4h0M388 308h0M340.9 302.7h0M365.3 312.3h0M341.7 311.6h0M367.5 299.3h0M387.1 359.4h0M368.1 343.9h0M366.6 332h0M361.6 316.9h0M359.7 320h0M360.6 325.9h0M330.2 302.6h0M396.6 337.9h0M390.6 315.7h0M368.7 320.3h0M365.9 308.1h0M355.2 291.1h0M366.8 313.1h0M389.7 304.6h0M382.5 320.3h0M416.4 355.4h0M385.6 325.4h0M324.4 299.1h0M326.4 338.1h0M402.3 328.4h0M358.8 301.7h0M383 334.4h0M435.9 353.4h0M322.3 315.3h0M361.2 307.5h0M370.8 287.1h0M337.2 332.8h0M325.5 300.8h0M356.5 316.9h0M373.4 331.6h0M431 339.3h0M396.8 343.2h0M333.6 332.9h0M355.6 327.9h0M345.2 318h0M389.4 315.5h0M379 335.3h0M367 327.9h0M385.6 322.3h0M373.1 271.4h0M295.6 317.5h0M347.5 322.2h0M339.9 353.8h0M389.9 337h0M349.9 341.8h0M359.3 314.6h0M367.2 325.9h0M398.8 315.3h0"/>
<path stroke="#00ffa1" d="M370.4 340.2h0M387.9 326.4h0M375.6 292.1h0M352.8 341h0M360.7 310.5h0M325.9 344.3h0M340 311.2h0M376.2 339.2h0M376.6 340.6h0M364.7 340.6h0M354.5 339.7h0M334.1 320.1h0M309.5 338.6h0M414.3 268.9h0M352.2 310.1h0M368.6 313.1h0M370.7 342.2h0M339.6 332h0M385.8 327h0M324.1 318.8h0M361.7 316.8h0M331.5 354.4h0M354.7 304.9h0M370 332.2h0M348.6 306h0M369.4 352.1h0M381.7 344.5h0M364.5 318.6h0M405.1 324.9h0M323.2 303.8h0M375.6 329.4h0M372.2 326.8h0M316 335.6h0M337.1 319.5h0M355.7 318.6h0M370.3 324.4h0M394.7 302.8h0M371.9 329.3h0M373.7 303.3h0M330.8 321.3h0M322.1 351h0M389 342.4h0M335.9 342h0M336.3 340h0M343.6 333.4h0M361.6 336.8h0M393.8 334.2h0M417.8 317.8h0M386.4 317.4h0M377 308h0M350.7 326.1h0M352.5 340.7h0M383.3 322.2h0M351.9 342h0M333.5 343.9h0M319.2 333.4h0M360 303.8h0M354.3 323.4h0M414.5 378.8h0M341.2 325.9h0M358.5 345.4h0M371.7 345.2h0M335.5 334.2h0M351.7 324.3h0M385 302.2h0M292 341.8h0M348.6 340.5h0M319.7 329.6h0M337.1 342.6h0M344.5 345.2h0M338.6 337.6h0M303.1 320h0M348.4 343.9h0M329.6 327.3h0M399.5 331h0M391.7 335.7h0M387.8 330.5h0M371.9 351.2h0M338.6 344.3h0M358 315.6h0M377.4 346h0M341.6 348.5h0M377 316h0M357.9 316.8h0M400.2 343.1h0M371 309.4h0M336.1 348.6h0M338.2 344.1h0M306.4 379.3h0M396.5 344.5h0M367.2 292h0M311.6 321.5h0M375.5 339.1h0M346.5 302.2h0M304 353.6h0M343.5 327.2h0M394.1 323.4h0M351.9 324h0M352.1 306.6h0M351.3 325.2h0M373.7 333.2h0M398.6 343.2h0M340.1 326.9h0M321.9 327.3h0M320.6 347.8h0M392.7 336.8h0M387.6 316h0M348.7 326.5h0M364.9 356.3h0M348.2 304.4h0M351.1 326.1h0M354.6 356.2h0M353.6 338.6h0M346.5 353.8h0M433.4 317.5h0M377.1 354.9h0M331.5 320.9h0M365.1 332.9h0"/>
<path stroke="#00ffae" d="M345 340h0M342.9 334.4h0M356.4 338.3h0M365.7 349.7h0M379.1 345.7h0M396.3 343.1h0M349.7 381.3h0M351.8 343.6h0M376.7 345.1h0M351.4 346.8h0M344.1 340.8h0M337.6 356h0M327.1 340.9h0M348.9 314.6h0M319.4 352.2h0M304.6 340.9h0M327.4 319.3h0M395.5 365.4h0M350.9 373.8h0M333.6 333.2h0M351.3 327.9h0M312.9 331.6h0M345.4 338.3h0M368.5 321h0M384.4 370.5h0M333.5 337.8h0M338.5 349.2h0M361 340.4h0M372.9 328.9h0M367.3 315.9h0M351.3 356.9h0M338.5 356.1h0M327.8 352.4h0M391.1 342.2h0M342.5 323.7h0M343.6 314.7h0M375.7 312.9h0M369.9 363.9h0M359.4 329.9h0M353.4 340.4h0M378.2 326.8h0M351.2 328.6h0M361.4 338.1h0M360.5 319.2h0M310.8 368.8h0M352.7 324.5h0M353.1 361.5h0M375.3 360.3h0M307.5 357.9h0M497.1 287.9h0M364.4 340.6h0M359.1 354.3h0M346.9 351.3h0M395.2 315.5h0M380.1 353.9h0M358.9 305.9h0M389.9 347.2h0M351 345.4h0M361.3 356.3h0M390 356.6h0M368.8 364.6h0M327.9 346.8h0M361.2 352.7h0M326.3 372.4h0M355.9 308.4h0M344.5 346.4h0M342.8 356.7h0M332 371.1h0M372.8 325h0M347.4 319.1h0M362 328.3h0M362.8 321.8h0M326.7 337.4h0M393.3 342.4h0M337.4 346.1h0M343.2 304.2h0M320.6 332.5h0M325.1 349.2h0M398.3 379h0M348.2 356.1h0M345.6 346.5h0M342.6 346.9h0M340.5 372.1h0M312 363.1h0M340.3 338.5h0M355.8 345.1h0M393.2 324.3h0M367.9 333.9h0M354.4 336.1h0M372.3 370.3h0M336.1 344.6h0M353.6 321.5h0M372 370.6h0M343.9 336.3h0M344 336.7h0M381 350h0M423.5 376.8h0M336.3 342.2h0M366.6 333.5h0M342.2 370.9h0M314.3 354.6h0M325.2 362.9h0M352.7 320.3h0M332.1 336.6h0M352.2 334.9h0M332.7 343.2h0M321.4 336.4h0M350.2 340.2h0M399.5 360.9h0M340.6 342.5h0M360.8 379.2h0"/>
<path stroke="#00ffbb" d="M306.7 368.7h0M336.7 332.7h0M321.4 366.4h0M389.5 346.7h0M400.9 328.1h0M355.2 346.4h0M377.3 299.8h0M354.8 340.6h0M354.6 353.7h0M333.8 351.7h0M349.3 347.7h0M371.2 358.1h0M339 316.6h0M351.9 338h0M307.6 363.6h0M318.7 358h0M375.9 335.6h0M339.3 346.4h0M314.9 366.7h0M311.7 340h0M376.8 327.2h0M351.2 332.6h0M334 323.2h0M370.7 327.8h0M362.4 347.9h0M357.5 371.2h0M276.7 337.5h0M395.5 352.2h0M336.9 356.8h0M375 334.2h0M330.7 354.8h0M348.5 361.7h0M327.9 369.6h0M352.9 349.1h0M361.1 340.1h0M355.4 355.2h0M324.8 357.3h0M345.2 365.4h0M331.2 359.6h0M349.3 373h0M325.4 363.9h0M307.4 380.4h0M345.2 355.7h0M349.7 343.5h0M353.1 339.6h0M308.4 350.8h0M337.6 349.9h0M378.2 322.4h0M297.7 352.8h0M348.1 364.8h0M319.9 361h0M385.6 373.2h0M374.7 373.3h0M321.1 396.7h0M326.2 364.7h0M314 359.2h0M378.9 391.5h0M345.3 362.7h0M367.2 355.4h0M378.2 363.6h0M402.4 345.2h0M355.4 332.3h0M317.4 373.7h0M343.4 373.4h0M326.4 356.4h0M338.6 358.9h0M296.5 385.8h0M368.5 364.8h0M355.1 341.7h0M333.4 361.5h0M330 365.8h0M385.3 371h0M316.1 370h0M342.7 356.4h0M344.1 361.4h0M337.1 367h0M307.9 359h0M341.4 372.7h0M357.7 397.5h0"/>
<path stroke="#00ffc7" d="M345 369.8h0M335.6 335.2h0M377.1 326.1h0M333.1 387.7h0M356.4 371.5h0M333.1 356.7h0M307.2 385.3h0M348.9 357.5h0M343 355.8h0M383.9 355.5h0M334.5 366.5h0M340.9 350h0M370.5 350.8h0M290 394.2h0M336.4 362.7h0M337.7 362.5h0M338.7 412.2h0M373.6 350.9h0M368.2 368.7h0M349 321.3h0M365.1 363.8h0M358.7 338.6h0M359.9 333.9h0M351.3 374.1h0M347.9 397.7h0M350 347.6h0M385.3 364.7h0M326.4 344.8h0M336.6 331h0M328.7 347.2h0M374.9 357.9h0M313.9 389.3h0M386.5 342.8h0M351.1 367.2h0M347.4 338.7h0M343.3 399.1h0M308.8 358.1h0M306.8 366.8h0M329.2 383.6h0M334 366.9h0M345.9 362.1h0M356.3 355.3h0M347 370.3h0M357.6 385.7h0M387.9 347h0M332.9 349.8h0M375.3 350.2h0M376.7 387.4h0M326.4 326.5h0M292.4 333.3h0M343.4 356.9h0M350.9 349.2h0M385.1 393.7h0M342.5 373.9h0M364.5 336.9h0M333.4 371.5h0M422.6 337.7h0M355.5 348.4h0M322.5 357.5h0M338.5 377.4h0M349.7 357.7h0M362.6 351.9h0M340.9 364.5h0M348.1 343.7h0M364.7 404.4h0M330.9 367.9h0M325.4 360.1h0M333.3 375.8h0M325.3 373.6h0M348.8 378.4h0M375.7 333.1h0M374.3 359.7h0M313.8 359.7h0M380.1 320.2h0M331.5 346.2h0M351 374h0M380.8 394.4h0M332.3 340.1h0M305 384.5h0M318.1 398.3h0M331.7 356.2h0M295.8 403.9h0M350 376.4h0M341.7 365.9h0M402.9 386.6h0M348 388.2h0M355.5 356.2h0M371.6 348.9h0M346.6 361.3h0M363.8 354.3h0M336.1 343.9h0M342.9 317.2h0M403 345.4h0M349.2 377h0M353.8 342.1h0M321.9 372.3h0M334.1 395.8h0M373.5 369.2h0M361.7 360.3h0M368.7 349h0M396.4 345.3h0M340.1 375.4h0M302 381.9h0M345.1 362.9h0M340.9 425.4h0M375.9 347.9h0M354.7 366.3h0M397.9 307.8h0M348.8 361.7h0M371.3 349.7h0M362.6 348.7h0M309.2 367.3h0M366.1 372.2h0"/>
<path stroke="#00ffd4" d="M332.7 403.5h0M362.9 350.1h0M349.3 378.4h0M335.7 369.8h0M318.9 369.9h0M299.7 357.9h0M335 379h0M348.1 335.3h0M351.6 393.2h0M318.6 366.7h0M315 373.3h0M391.5 356.7h0M360 311.4h0M358.9 395.5h0M362.9 349.9h0M331.3 375.2h0M346.3 372.7h0M347.3 358.8h0M336.1 365.3h0M288 384.7h0M338.1 368.8h0M351.7 380h0M361.8 357.4h0M347.7 416.4h0M333.2 401h0M324 373.8h0M327.3 413.6h0M387.5 332.8h0M316.5 370.9h0M329.4 366h0M362.1 336.4h0M393.4 355.7h0M364.9 361.7h0M315.9 372.8h0M314.9 352.4h0M394.6 356.4h0M333.4 351.9h0M372 359.3h0M367.5 374.5h0M331.5 358.9h0M350.1 379h0M328.9 341.9h0M332.4 327.6h0M345 366.3h0M354.9 357.1h0M329.3 383.7h0M330.6 372.8h0M360.4 356.5h0M337.2 359.3h0M311.2 360.9h0M336 380.2h0M329.8 382.8h0M350.4 401.4h0M371 386.3h0M324 382.7h0M355.5 369.9h0M361.7 391.6h0M363.1 361.4h0M379.4 348.6h0M327.3 365h0M315.3 409.7h0M334.4 364.7h0M325.5 405.9h0M357.8 395.2h0M334.5 378.9h0M310.5 377.6h0M314.3 402.6h0M347.1 393h0M349.9 361h0M295.9 371h0M325.1 377.1h0M336 377.1h0M383.9 375.4h0M321.6 381.6h0M380.7 338.7h0M273.1 397.1h0M335.4 349.5h0M344.5 397.5h0M358.3 363.7h0M304.6 378.8h0M335.3 367.3h0M351.4 430.6h0M377 347.1h0M335 350.5h0M376.8 350.7h0M326.5 375.4h0M372.6 366.7h0M369.7 349.2h0M344.5 387.9h0M326.2 401.8h0M336.6 381.5h0M364.5 338.7h0M348.9 376.5h0M283.1 410.8h0M367.1 387.6h0M354.2 386.5h0M324.3 394.5h0M384.2 372.7h0M329.1 367h0M320.6 387h0M320.5 374.1h0M332.4 387.2h0M324.4 399.1h0M326.9 381.4h0M333.8 379.5h0M310.7 373.1h0M331.5 374.1h0"/>
<path stroke="#00ffe0" d="M316.9 394.8h0M308.9 363.3h0M337.7 362h0M296 388.8h0M344.4 351.1h0M329.9 361h0M355.1 367.1h0M333.3 374.3h0M337.9 369.9h0M335.5 392.7h0M331 375.7h0M341.7 382.9h0M261.1 368.9h0M350.7 398.3h0M296.2 384.3h0M354.2 385.6h0M322 372.5h0M339.6 368.8h0M354.9 371.6h0M367.3 431.6h0M353.6 378.9h0M347.2 377.5h0M348.7 391.8h0M392.7 343.5h0M344.1 359.9h0M372.2 347.4h0M327 386.9h0M378.5 389.7h0M339.2 372.8h0M332.3 387.4h0M323 382.7h0M311.3 386.6h0M326.8 376.2h0M368 402.8h0M317.5 375.3h0M355.2 383.9h0M280.2 358.1h0M354.3 384.3h0M353 362.4h0M328 379.9h0M369.7 393.1h0M325.2 398.6h0M378.1 376.1h0M336.1 389.2h0M300.4 398.5h0M366.1 364.4h0M364.7 386.8h0M350.6 387.1h0M350.1 375.3h0M339.5 403h0M370.7 400.7h0M347.6 379.2h0M341.5 350.8h0M320.2 379.1h0M327.9 380.4h0M326.7 384.6h0M321 380.7h0M357.7 387.1h0M322.3 376.1h0M328 398.9h0M341 386.5h0M354.8 370.6h0M373.4 366.5h0M324.9 395.4h0M311.2 387h0M346.1 401.9h0M345.8 381.7h0M354.3 398.9h0M336.6 357.3h0M373 341.5h0M342.9 343.3h0M320 382.9h0M363.5 350.3h0M361.2 351.4h0M321 378.1h0M333 403.9h0M360.5 373.6h0M329.6 386.3h0M360.4 370.3h0M351.9 361.7h0M308.9 370.2h0M352.7 378.6h0M323.8 385.9h0M339.7 415.4h0M343.7 407.6h0M301.4 418.1h0M369.8 420.2h0M314.5 399.1h0M297 396.6h0M324.3 406.6h0M336.8 399.4h0M319.2 377.2h0M350.8 385.7h0M364.6 435.7h0M353.3 365.6h0M361 413.6h0M301.2 398.9h0M346.8 370.9h0M369.9 392.5h0M350.6 411.4h0M348.2 393.1h0M319.3 369.8h0M326.3 392.1h0M324.3 371h0M307.4 373.8h0M336.3 383.7h0M340.5 371.4h0M312.8 388.8h0M305 377.7h0M335.4 367.7h0M342.2 394h0M329.6 395h0M358.2 378.7h0M380.8 381.6h0M353.1 384.9h0M344.9 396.6h0M296.6 417.7h0M340.5 376.7h0"/>
<path stroke="#00ffed" d="M336.3 391.9h0M321.2 407.5h0M321.2 394.7h0M344.9 366.7h0M322.5 402.8h0M357.2 359.5h0M366.6 368.7h0M320 374.7h0M393.6 386.5h0M366.7 384.9h0M341.4 367.1h0M333.2 387.9h0M328.4 369.8h0M325.1 389.9h0M330.1 393.3h0M351.9 388.4h0M350.7 384.9h0M318.9 370.2h0M348 396.8h0M353.6 365.3h0M342.9 372.7h0M333.5 409h0M339.3 375.5h0M343.3 368.1h0M337.1 403.5h0M346.1 362h0M308.4 372.9h0M357.1 401.7h0M319.4 390h0M331 422.6h0M359.1 361.6h0M393.3 373.5h0M315 396.6h0M303.4 394.4h0M329.8 399.6h0M255.4 416.3h0M363.7 365.4h0M319.2 409.8h0M281 384.5h0M367.6 375h0M363.7 425.1h0M400.3 306.7h0M361.2 419.2h0M367.5 381.6h0M330.2 404.1h0M384 378.7h0M354.6 372.5h0M340.2 399.2h0M336.3 407.9h0M337.3 387.2h0M387.6 374.8h0M341.7 379.2h0M348.4 394.8h0M350.5 381.3h0M356 408.9h0M357.9 371h0M389.6 373.1h0M382.9 372h0M338 406.6h0M355.9 390.3h0M328.8 363.7h0M337.1 399.4h0M359.2 332.7h0M330 401.5h0M330.5 384.9h0M370.9 400.1h0M379 340.9h0M334.8 411.2h0M337 428.1h0M352.6 385.7h0M339 417.3h0M373.2 414.6h0M317.9 428.9h0M333.5 420.9h0M345.4 408.2h0M359.8 381.9h0M274.5 422.5h0M354 407h0M362.2 359.3h0M342.4 385.4h0M364.6 408.8h0M335.1 400.3h0M360.7 396.5h0M352.4 387.1h0M339.3 401.4h0M324.9 400.2h0M331.4 410.8h0M332 387.6h0M371 381.4h0M350.8 399.2h0M310.3 372.2h0M317.7 386.4h0M347.3 427h0M311.5 439.3h0M341.2 400.1h0M350.9 390h0M396 432.9h0M323.1 413.1h0M359.9 420.8h0"/>
<path stroke="#00fff9" d="M361.6 414.8h0M355.1 366.6h0M345.4 386.8h0M350.7 399.3h0M357.8 434.2h0M300.9 368.5h0M350.4 361.1h0M316.5 417.8h0M314.1 387.7h0M323.6 413h0M369.5 413.4h0M376.7 377.7h0M367.4 385.4h0M356.8 433.6h0M328.2 412.9h0M336.9 405.1h0M341.6 397h0M343.5 370.6h0M331.2 432h0M354.9 375.5h0M363.6 426.5h0M331.9 421.2h0M333.9 394.6h0M314.1 422.2h0M322.3 406h0M334.1 370.7h0M363.5 381.3h0M325.3 387.7h0M363.3 407.2h0M369.2 411.5h0M333 393.7h0M343.2 427.2h0M327.3 407.8h0M361.5 393.3h0M322 399.9h0M346.4 379.8h0M428.4 339.6h0M335.9 409.7h0M321.7 412.7h0M346.4 397.9h0M391.6 411.2h0M335.5 377.1h0M322.9 408.2h0M368 385.5h0M360.9 398.7h0M346.3 393.6h0M342.9 431.5h0M353.6 417.1h0M316.8 433.6h0M341.8 410.2h0M365.8 398.8h0M355.1 421.4h0M328.8 417.3h0M376.7 402.8h0M373.7 404.3h0M359.6 412.9h0M324.1 407.9h0M348.8 409.7h0M347.8 408.4h0M345.7 407.5h0M360 396.1h0M325.5 390.2h0M359.2 378h0M342.1 418.7h0M315 449h0M346.2 390h0M332.1 411h0M345.8 421.3h0M324.1 447.9h0M389.1 377.7h0M379.3 375.7h0M345.7 399.1h0M349.2 410.3h0M352.9 425.6h0M352.9 409.8h0M378.8 409.1h0M324.5 414.4h0M321.2 386.9h0M390.8 419h0M352.5 437.6h0M387.1 405.4h0M361.9 405.8h0M395.5 416h0M341.1 409.3h0M325.5 390.9h0M337.1 421.1h0M286.6 415.3h0M312.7 419.6h0M320.7 442.6h0M379.7 409.1h0M352.2 396.1h0M382.3 432.8h0"/>
<path stroke="#00f8ff" d="M353.9 432.8h0M341.8 407.4h0M296.4 429.7h0M373.9 373.5h0M328.3 416.7h0M317.2 416.5h0M365.1 391.7h0M332.6 387.5h0M330.9 424.5h0M347.2 397.1h0M327.9 425.9h0M296.7 438.2h0M306.1 406.9h0M322.9 408.3h0M433.4 372.8h0M358.8 432.1h0M355 445.2h0M359.6 414.8h0M318.5 400.7h0M325.1 399.4h0M330 432.9h0M363.3 394.8h0M362.9 425.2h0M333.5 405.4h0M389.6 411.1h0M318.3 408.5h0M327.2 420.5h0M375.9 360.7h0M360.6 434h0M373.9 387h0M332.4 406.8h0M333 421.6h0M326.3 456.2h0M341.4 466.5h0M371.3 388.4h0M317.4 419.9h0M340.5 411.7h0M323 414.9h0M358.5 429.2h0M343.2 389.6h0M328.9 433.3h0M380.5 388.2h0M328.4 412.7h0M356.9 405.4h0M340 412.5h0M356.2 414.8h0M347.1 428.2h0M322.6 435.5h0M285.4 453.8h0M367.2 436.1h0M372.4 420.1h0M374.3 470.5h0M369.3 382.6h0M376.4 425.7h0M360.6 424.8h0M397.8 420.2h0M303.2 422.5h0M319.4 409.4h0M328.6 451.4h0M335.8 406.9h0M330.9 442.4h0M311.7 444.3h0M325.6 417.6h0M378.4 421.7h0M377.6 406.1h0M335.9 414.5h0M329.4 406h0M359.9 465.9h0M354.3 400.3h0M287 442.5h0M328.2 433.4h0M317 446.1h0M333.6 414.1h0M385.3 430.5h0M340.1 414.1h0M328.2 389.7h0M353.5 438.3h0M334 427.4h0M328.7 445.4h0M316.8 442h0M406 442.8h0M358.4 422.4h0M374.9 393.4h0M346.4 431.3h0M373.1 462.1h0M365.7 395.1h0M342.1 387.3h0M335.9 416.6h0M369.5 439.1h0M328.4 463.7h0M356.1 365.1h0M333.4 398h0M333.9 424h0M319.8 406.3h0M399.1 448.5h0M320.9 402.4h0M365.1 400.6h0M359.2 402.7h0M330.6 378.1h0M367.3 424.1h0M335 416h0M372 432.5h0M358.9 396.5h0M346.2 415.6h0M395 404.7h0M378.4 456h0M331.9 396.9h0M399.9 412h0M324.9 449h0M350.7 413h0M350.7 436.5h0M327.8 432.6h0M402 389.2h0M349.4 394.4h0"/>
<path stroke="#00ecff" d="M335 442.8h0M338.9 473.1h0M333.6 431.3h0M374 387.1h0M360 420.2h0M321.4 429.2h0M378.6 424.3h0M361.5 440.7h0M332.6 402.6h0M338.6 436.7h0M337.9 405.5h0M356.2 424.8h0M359.2 431.1h0M322.4 401.6h0M343.7 412.9h0M350.7 369.6h0M349 382h0M272.2 462.9h0M329.7 448.1h0M354.3 435.7h0M351.8 444.2h0M357.2 444h0M317.5 396.3h0M301.2 415.8h0M324.7 426.5h0M320.8 439.6h0M321.9 464h0M335.2 413.2h0M340.6 397.8h0M309.7 436.1h0M389.4 425.2h0M378.3 447.4h0M377.1 391.2h0M340.5 384.3h0M398.6 405.2h0M397.6 430h0M344.6 418.5h0M359.8 397.5h0M314.2 406.5h0M347.8 420.9h0M361.4 401.4h0M369.6 447.9h0M382.4 451.4h0M345.3 419.6h0M304.5 455.5h0M360.6 417.7h0M336.2 416.5h0M355.5 402.1h0M349 410.3h0M341.9 404.6h0M359.5 384.6h0M403.2 398.4h0M315.8 442.7h0M337.3 388.2h0M341.4 403h0M337.5 464.3h0M314.7 431h0M320.3 394.7h0M338.6 441.4h0M356 419.8h0M379.2 417.1h0M353.7 433.3h0M334.5 399.3h0M338.9 447.1h0M348.3 424.8h0M368.9 434.6h0M360.8 449.2h0M334.3 430.7h0M337.9 424h0M343.6 440.3h0M329.6 400.3h0M337 423.4h0M339.6 453.5h0M298.2 431.6h0M348.5 449.5h0M312.8 438.8h0M353.2 436.3h0M361.3 429.6h0M359.2 436.8h0M346.5 428.2h0M374.3 478.1h0M318.6 460.4h0M372.6 458.5h0M349.2 395.7h0M347.9 433.5h0M325.4 443.5h0M364.9 447.9h0M352.7 444.9h0M344.8 479.1h0M349.6 445.6h0M328.5 415.5h0M371.7 421.5h0M373.4 376.6h0M324.6 452.7h0M350.4 421h0M361.5 428h0M341.2 442.6h0M294.9 441.5h0M330.9 437.7h0M342.4 455.6h0M327.7 452.5h0M345.4 428.9h0M341.4 415.3h0M366 442.5h0M307 448.9h0M338 445.1h0M352.6 456h0M368.4 437.3h0M374.3 440h0M354.8 445.7h0M319.2 443.6h0M367.3 456.3h0M379.2 424.6h0M322.2 414.1h0M369.1 463.7h0M289.8 418.7h0M345.7 419.3h0M363.2 421.9h0M350.4 450.9h0M387.8 437.3h0M341 423.1h0M348.3 428.9h0"/>
<path stroke="#00dfff" d="M322 441.2h0M326.2 445.1h0M338.4 441h0M347.4 431.3h0M375 447.2h0M313 480h0M367.2 437.1h0M378 386.8h0M322.8 432.6h0M349.3 421.6h0M345.1 433.2h0M324.3 404.5h0M348.3 441.4h0M332.8 453.1h0M283.3 461.1h0M353.7 401.5h0M345.7 470.9h0M319 455.8h0M356.7 447.5h0M337 438.2h0M363.2 449.1h0M320.5 448.3h0M315.2 440.7h0M359.5 446.6h0M345.5 403.6h0M367.2 418.5h0M297.7 472.9h0M307.4 459.6h0M360.8 461h0M347.6 422.6h0M347.3 423.1h0M369.9 453.8h0M324.5 464.9h0M341 427.1h0M360.6 430.1h0M325.5 434.6h0M326.1 467.9h0M363.6 424.3h0M350.3 439.5h0M351.4 457.2h0M355.8 423.8h0M326.7 424.2h0M302 455.9h0M364.5 435.7h0M352.8 426.5h0M289.4 471.9h0M361.7 394.6h0M347.5 422.3h0M344 450.5h0M363.3 425.1h0M357.7 407.5h0M372.4 435.2h0M347.1 442.7h0M320.6 436h0M332.3 379.9h0M335.6 411.6h0M368.5 428.3h0M313.9 450.2h0M365.3 451h0M329.9 449.6h0M346 421.8h0M360.3 399.6h0M290.5 450.6h0M352.2 417.4h0M347.3 426.9h0M342.1 451.8h0M370.8 496.7h0M347.8 412.1h0M343.1 418.3h0M338.7 469.3h0M325.6 423.7h0M366.4 442.5h0M355.8 461.3h0M312.6 430.4h0M326.6 390.7h0M356 429.6h0M342.8 443.7h0M334.4 444.8h0M319.7 412.3h0M356 464.9h0M349.7 448.8h0M373.7 437.6h0M353.3 447.5h0M352.1 447.1h0M290.9 461.5h0M372.5 458.1h0M332.4 423h0M357.9 450.9h0M323.8 397.4h0M342.8 370.3h0M351.9 463h0M371.7 410.5h0M369.4 479.7h0M350.7 433.5h0M366.6 452h0M346.8 439.7h0M332.9 430.3h0M368.4 444.5h0M326.4 428.5h0M339.8 464.8h0"/>
<path stroke="#00d2ff" d="M325.8 475.9h0M372.9 437.7h0M326.5 490.7h0M365.4 432.7h0M335.7 428.7h0M359.2 460h0M352.4 395.9h0M355.8 418.1h0M348.3 412.7h0M346.4 406.9h0M344.4 366.6h0M327 449.4h0M344.4 419.3h0M352.1 460.8h0M346.6 404.2h0M365.5 421.7h0M364.4 461.7h0M334.3 439.4h0M355.8 461h0M348 446h0M358.5 460.2h0M364 462.2h0M345.9 444.8h0M336.5 447.5h0M340 441.4h0M352.8 415.4h0M358.3 430.1h0M355.3 416.3h0M355.5 425.5h0M372.2 463.4h0M334.9 434.7h0M371.5 444.8h0M361 471.1h0M368.2 445.7h0M356 444.2h0M328.5 417h0M363.2 443.9h0M309.7 467.3h0M363.7 476.4h0M353.9 419.1h0M349.3 425.4h0M346.9 470.3h0M361.1 457.7h0M331.3 444.8h0M337.5 434.7h0M352 434.2h0M358.5 463.6h0M366.1 491.1h0M360.2 441.2h0M351.5 460.7h0M363.4 469h0M358.2 435.2h0M343.5 439.7h0M348.1 442.6h0M351.8 437.8h0M309.7 490h0M349.4 436.9h0M304.9 479.1h0M335 474.2h0M349 447.6h0M344.2 425.1h0M350.8 478.3h0M313.5 437.6h0M356.7 463.5h0M322.9 467h0M365.5 443.4h0M361.2 420.9h0M362.9 449.3h0M327.6 366.7h0M354.2 433.8h0M342.8 444.6h0M368.2 449.7h0M349.9 471.7h0M335.3 453.3h0M301.9 456.4h0M301.8 481.8h0M356 466.1h0M354.4 449.3h0M352.3 436.1h0M352.7 453.4h0M321.7 464h0M367.3 459.6h0M358.9 452.2h0M313.9 468.8h0M331.5 439.8h0M329.2 459.7h0M301 450.9h0M342.6 429.2h0M302.4 447.7h0M344 423.2h0M332.3 501h0M352 439.4h0M348 450.9h0M354.7 459.4h0M362.3 466.2h0M346.3 481.4h0M339.2 460.1h0M332.8 456h0M318.9 469.3h0M305.8 449.3h0M361.2 446.5h0M352.2 473.3h0M336.6 436.3h0M354.1 464.4h0M344.9 430.7h0M348.1 499.2h0M360.3 472.6h0M319 449.8h0M357.3 472.2h0M356.8 438h0M355.6 417.8h0M302.2 477.9h0M343.7 486.9h0M279.1 412.9h0M349.4 425.6h0M350 441.2h0M337.7 440.7h0M341.6 429.4h0"/>
<path stroke="#00c6ff" d="M379 379.1h0M355.9 490.4h0M345.5 426h0M347.3 464.4h0M480.6 399.8h0M323.3 496.6h0M411.3 420.1h0M409.4 413.1h0M386.3 429.5h0M405.6 448.8h0M364.1 441.4h0M305.8 483.1h0M420.2 391.5h0M354.8 444.4h0M328.7 467.3h0M347.8 447.9h0M409.7 404.3h0M411.1 418.6h0M368.4 406.5h0M381.5 434.2h0M415.2 394.6h0M416.5 432.7h0M337 469.2h0M353.1 454.7h0M367.2 464.2h0M338 488.6h0M319.3 495.9h0M329.5 440.6h0M352.7 456.9h0M360 450.8h0M334.2 473.8h0M371.1 380.3h0M367.4 458.4h0M346.8 496.6h0M411.4 522.3h0M371.7 473.7h0M388 467.1h0M393.8 435.7h0M375.6 453.8h0M349.3 421h0M419.7 479.9h0M395.7 438.1h0M299.7 461.7h0M359 437.4h0M374.6 487.6h0M359.6 452h0M384.6 369.1h0M322.5 452.6h0M377.1 457.6h0M407.4 419.1h0M340.8 408.6h0M368.5 448.1h0M330.7 473.7h0M346.2 452h0M416.2 394.6h0M356.4 475.9h0M383.4 442.3h0M340.3 491.9h0M345.6 434.9h0M346.7 475.9h0M412.1 476h0M384.1 401.4h0M373.9 464.4h0M329.5 456.3h0M346.6 493.9h0M373.4 420.6h0M357.9 491.2h0M366.2 411.6h0M404.3 454.9h0M301.3 460.5h0M351.6 472.2h0M417.4 362.8h0M449 445h0M350.9 447.4h0M329.4 479.2h0M345.8 468.4h0M431.6 462.2h0M315.2 469h0M324.8 474.8h0M382.4 456.8h0M323.6 454.6h0M344.1 443.9h0M395.2 453.1h0M397.9 423.2h0M373.5 514.3h0M378 489.8h0M314.5 484.2h0M357.5 437.7h0M345.3 475.7h0M382.5 447.3h0M384.9 408.7h0M350.3 443h0M371.7 440h0M326.9 519.2h0M339.8 489.4h0M371.9 427.9h0M368 467.2h0M358 449h0M395.4 499.8h0M364.3 474.8h0M349 475.1h0M354.3 471.1h0M316 482.2h0M340.3 434.5h0M372.9 413.6h0M351.6 459.8h0M353.5 491.3h0M359.7 441.8h0M379.8 405.1h0M372.3 468.4h0M440.7 381.3h0M383.2 462.2h0M308.5 473h0M317 497.9h0M349.8 445.9h0M344.2 448.1h0M368 457.5h0M388 423.4h0M369.1 439.9h0M384.7 447h0M394 470.6h0M352.7 478.1h0M374.1 457.2h0"/>
<path stroke="#00b9ff" d="M359.7 438.1h0M345.1 477.2h0M387 462.6h0M295.2 481.9h0M318.1 450.1h0M400.9 426.1h0M373.8 458.7h0M392.7 471.7h0M343.3 474.8h0M398.3 446.9h0M333.1 481.3h0M371.8 441.2h0M326.2 485.4h0M352.1 496.7h0M388.4 413.8h0M324.2 499.8h0M335.2 485.9h0M437.9 376h0M357.4 457.9h0M343 459.1h0M308.8 499.6h0M318.7 499.8h0M381.2 446h0M379.2 470.6h0M352 434.1h0M320 495h0M372.4 458.3h0M359 458.8h0M345.1 460.3h0M435.5 390.8h0M472.1 429.1h0M408.4 477.9h0M376 482.7h0M321.2 500.6h0M337.7 492.2h0M342.4 381.8h0M401.9 421.2h0M442.8 432.2h0M356.1 462.3h0M367.9 458.4h0M401 396.2h0M376.9 388.9h0M331.4 489.2h0M387.8 494h0M387.6 434.2h0M321.9 459.7h0M375.8 471.7h0M400.1 428h0M386.9 482.3h0M322.5 502.3h0M357 422.4h0M444.2 428h0M406.9 344.1h0M390.6 438.1h0M331.6 434.6h0M351.5 468.6h0M406.3 439.8h0M350.1 502.6h0M316 461.7h0M368.8 425.8h0M330.1 505h0M419.1 407.9h0M320.2 480h0M402 420.1h0M316.9 508h0M354.3 470.7h0M372.3 479.7h0M349.5 505.8h0M400 509.5h0M324.3 496.6h0M436 405.8h0M414.4 391.5h0M397.5 426h0M386.1 448h0M367.7 472.1h0M404.6 434.8h0M473.5 348.6h0M353.9 499.2h0M350 467.6h0M361.9 459.9h0M341.8 447h0M412.8 428.2h0M401.9 433h0M360.4 453.3h0M417.4 462.5h0M374 468.3h0M352.2 465.1h0M383.2 473.4h0M339.7 470.8h0M309.8 514.5h0M407.6 427.4h0M422.7 442.4h0M359 471.7h0M426.5 448.7h0M382.8 453.8h0M300.5 478.8h0M332.2 465.7h0M403.9 421.3h0M336.8 450.3h0M401 434h0M357.8 496.2h0M408.8 430.4h0M387.7 457.4h0M389.8 427.9h0M370.9 483.6h0M397.7 466.5h0M445.1 404.8h0M410.6 457.1h0"/>
<path stroke="#00adff" d="M417.1 477h0M336.1 512.5h0M384.5 466.9h0M322 407.3h0M429.4 444.7h0M436.8 397.9h0M331.7 484.3h0M371.6 490.9h0M384.5 473.3h0M403.4 439.7h0M304.8 442.8h0M383.2 490.6h0M326.9 513.4h0M384.6 461.4h0M357.5 481.9h0M373.9 434.7h0M369.4 500.8h0M429 417.2h0M395.6 464.5h0M428.4 411.3h0M343.6 531.9h0M348.8 452.9h0M373.7 509h0M340.9 503.2h0M393.6 473h0M369.9 476.4h0M403.9 425.1h0M373.4 513.5h0M356.3 463.3h0M266.6 513.2h0M314.9 506.8h0M403.3 509.2h0M351 438.4h0M283.8 513.8h0M381.2 480.2h0M353.8 453.9h0M359.8 487.6h0M485.2 444h0M384.8 471.1h0M376.8 469.8h0M352.1 511.4h0M370 466.5h0M316.5 492.1h0M418 337.7h0M312.9 465.9h0M479 408.2h0M358.8 467.7h0M331.3 470.8h0M313.4 517.9h0M356.4 492.1h0M315.2 480.7h0M405.5 467.1h0M358.8 446h0M387.9 452.4h0M435.5 413.2h0M383.2 501.3h0M353.3 500.8h0M336.4 526.1h0M391.3 454.7h0M326 497.9h0M383.2 497.2h0M356 481.1h0M368.9 475.5h0M359.9 488.1h0M385.5 467.3h0M326.7 503h0M424.6 450.3h0M360 518.7h0M385.2 479.5h0M333.4 472.5h0M496.9 414.6h0M296 508.1h0M364.1 458.5h0M369.8 439.6h0M305.7 520.7h0M325.9 524.2h0M291.4 509.8h0M419.6 438.3h0M376.9 473.3h0M393 432h0M334.8 505h0M357.9 530.6h0M291.3 524.8h0M336.1 516.9h0M399.1 444.2h0M381 450.6h0M332 473h0M389.4 481.4h0M412.7 417.9h0M407.6 488h0M380.5 458.7h0M415.3 416.8h0M394.6 467.8h0M374.6 463.5h0M311.7 518.5h0M377.2 460.8h0M397.7 495.9h0M407.8 428.5h0M343.5 479h0M424.6 425.6h0M397.1 468.2h0M436.2 440.8h0M318.9 492.4h0M335 462.1h0M346.2 516.7h0M369.3 469.7h0M331.2 528.1h0M323.2 487.1h0M404.4 409.6h0M366.6 422.5h0M353.1 536.3h0M419.4 497.8h0M383.3 454.1h0M320.2 500h0M374.3 508.1h0M378.5 506.7h0M398.9 462.1h0M351.7 496h0M383.1 476.3h0M401.1 454.6h0M414.1 448.8h0M336.9 494.9h0"/>
<path stroke="#00a0ff" d="M409.3 459.8h0M390.1 459.3h0M358.2 542.9h0M349.2 492.2h0M371.4 484.5h0M338.1 473.7h0M389.2 426.7h0M359.3 497.2h0M352.3 503.6h0M344.8 503.1h0M407.9 464.3h0M323.7 506.4h0M422.9 490h0M356.7 501.4h0M313.7 499.4h0M401.5 433.6h0M304.3 477.5h0M377.3 454.7h0M387.1 525.3h0M398.6 487.1h0M407.2 442.1h0M432.5 418.1h0M340 492.7h0M398.7 508.9h0M409.3 437.5h0M384.3 477.9h0M346.5 524.9h0M410.2 458.7h0M254.9 538.8h0M319.5 482.6h0M335.8 544.2h0M347.2 502.4h0M451.3 414.7h0M391 434.8h0M312 523.5h0M401.5 422.5h0M318.5 465.7h0M365.8 494.4h0M418.1 443.1h0M398.4 430.5h0M422.3 466.7h0M399.9 471.7h0M405.6 492.2h0M355.3 474.9h0M375.8 461.4h0M440 470.1h0M367.6 492.3h0M366.7 466.3h0M448.5 475.7h0M401 447.3h0M380 425.5h0M380.4 485.8h0M379.5 424.2h0M413.6 470.9h0M378.6 508.1h0M402.5 472.4h0M371.4 472.1h0M411.9 433.1h0M389.6 463.6h0M338.6 488.4h0M333.2 542.3h0M425.6 439.1h0M391.3 472.1h0M345.5 488.6h0M407.1 488.6h0M290 561.5h0M393.3 486.4h0M409.4 398.1h0M362.4 464.6h0M414.4 465.5h0M410.9 480.1h0M370.5 516h0M401 526.9h0M392.3 422h0M352.6 477.7h0M320.9 547.3h0M353.1 527.7h0M417.2 419.3h0M382.1 462h0M305.8 552.6h0M421.3 463h0M388 430.9h0M367.9 493.3h0M398.7 449.2h0M404.1 449.2h0M411.2 448.7h0M390 477.6h0M352.5 514.1h0M392.1 471.3h0M417.1 480.4h0M389.1 472.4h0M362.4 517.5h0M436.8 367.1h0M437.4 489h0M379.7 485.9h0M339.5 510.4h0M369.9 495.4h0M437.4 412.9h0M371.4 529.1h0M403.4 468.1h0M270.5 539.6h0M381.9 472.9h0M453.1 454.7h0M350.7 533h0M550.7 327.4h0"/>
<path stroke="#0094ff" d="M361.3 480.7h0M350.9 522.8h0M427.7 423h0M401 452.5h0M367.5 508.7h0M410.2 441.9h0M387.3 468.9h0M369.3 526.2h0M387.4 494.6h0M331.1 488.6h0M442.9 452.6h0M390.5 486.1h0M383.4 493.5h0M300.5 551.5h0M286.6 533.8h0M366.6 495.4h0M357.4 503.8h0M379.8 486h0M426.2 493.9h0M465.9 494.6h0M354.7 511.5h0M318.1 515.5h0M267.3 520.4h0M370.7 505.3h0M363.9 477.7h0M333.3 495.1h0M303.3 513.5h0M429.3 517.3h0M330.1 555.6h0M357.8 511.7h0M407.2 455.3h0M430.2 477.3h0M418.5 466.5h0M442.7 455.4h0M337 525h0M362.3 490.7h0M403.2 476.2h0M406.9 494.1h0M415.7 474.2h0M371.5 503.4h0M343.5 520.3h0M364.1 488.4h0M276.9 536.5h0M370.8 468.4h0M312.6 522.4h0M345.7 516.6h0M384 468.9h0M334.5 517.3h0M428.3 398.3h0M320.8 547.8h0M408.5 494.2h0M333.8 575.8h0M381 507.3h0M314.9 533.1h0M333.6 533.6h0M402.1 499.6h0M338.4 523.9h0M405 484.9h0M439.8 405.1h0M414.3 482.6h0M406.3 494.4h0M402.5 462.3h0M338.1 507h0M408.2 493.5h0M332.8 522.7h0M399.7 516.2h0M341.2 517.2h0M408.3 443.9h0M368.3 493h0M344.4 516.6h0M399.7 460.2h0M436.6 432.5h0M410.7 476.7h0M383.8 521.9h0M332.1 550.6h0M364.1 513.1h0M330.4 523.9h0M413.9 420.1h0M385 550.8h0M384.7 482.3h0M440.6 468.9h0M407.5 515.8h0M344.4 515.1h0M399 526.3h0M343.2 485h0M362.2 518.7h0M293.2 558.4h0M373.4 496.1h0M414.3 466.6h0M440.4 517.7h0M452.1 457.1h0M391.7 514h0M412.9 531.3h0M404.4 472.3h0M369.9 507.1h0M376.2 497.5h0M400.1 503.5h0M435.8 460h0M439.9 505.7h0M428.3 438.5h0M345.9 520.1h0M427.7 452.1h0M413.3 509.2h0M380.1 482h0M373.9 497.9h0M337.2 493.3h0M389.2 552.6h0M391.8 454.8h0M352.3 527.1h0M327.9 558.9h0M392 460.5h0M341.8 519.2h0M390.2 541.9h0M398.1 448.1h0M370.9 489.1h0M406.8 477.9h0M435.8 478.8h0M427 446.8h0M399.1 485.6h0M318.3 559.4h0M439.7 437h0M349.3 486h0M392.1 458.5h0M369 507.1h0M456.7 417h0M423.4 432.5h0M456.2 390.9h0"/>
<path stroke="#0087ff" d="M441.9 454.3h0M449.6 429.3h0M344 533.2h0M430.9 495.3h0M357.3 523.9h0M366.2 523h0M387.5 457.6h0M426.6 466h0M400.4 516.1h0M313.8 556.7h0M395.7 540.7h0M392 512.4h0M406 504.9h0M371.5 516.8h0M435.9 444.2h0M399.8 484.8h0M353.9 528h0M428.1 493.2h0M333.8 511.1h0M449.4 430.2h0M388.5 510.7h0M436.8 414.5h0M421.5 464.3h0M382.2 518h0M422.6 506.5h0M398.4 475.2h0M381 466.8h0M395.2 500.3h0M393.1 514h0M366.3 495.7h0M409.9 471h0M473 471.7h0M409.5 481.1h0M442.3 438.6h0M370.4 473.1h0M420.4 474.5h0M359.3 530.1h0M407.8 431.1h0M428.8 515.7h0M419.7 424.6h0M445.6 479.8h0M471.7 385.7h0M326.2 538h0M419 479.7h0M397.8 467.5h0M357.3 493.9h0M372.7 500.3h0M402.9 488.5h0M378.8 471h0M388.8 470.6h0M491.4 414.9h0M408.7 495.7h0M453.6 477.5h0M356.1 529.3h0M374.8 542.4h0M346.1 529.7h0M415.2 463.2h0M407.9 455.4h0M353.5 514h0M324.7 531.9h0M398.9 482.4h0M390.1 489.4h0M411.7 480.7h0M435.8 359.5h0M386.6 520.1h0M311 545.1h0M395.1 508.3h0M373.1 495.6h0M388.5 518.1h0M414.4 455h0M401.2 490.1h0M336.4 515.2h0M426.9 492.8h0M480 422.1h0M473.2 448.2h0M372.7 492.5h0M432.7 476.7h0M389.9 543.6h0M421 463.4h0M405.7 519h0M373.5 532.4h0M408.3 516.4h0M454.3 444.1h0M373.3 476.2h0M392.2 500.3h0M395.5 433.8h0M389.3 523.6h0M402.8 476.4h0M380.1 509.3h0M478.6 451.1h0M406.7 518.6h0M437.4 525.4h0M387.3 499.7h0M435.8 451.2h0M419.8 494.3h0M365.2 526h0M324.7 539.3h0M452.3 534.7h0M465.5 514h0M331 557.6h0M450.3 425.1h0M440.1 446.3h0M408.9 484.3h0M406.7 470.3h0M347.5 550.8h0M409.8 482.9h0M530.3 341.4h0M423.6 509.7h0M455.4 409.9h0M393.9 483.6h0M387.1 497.5h0M429.3 405.2h0M350.4 566.6h0M538.5 346.7h0"/>
<path stroke="#007bff" d="M376.7 510.4h0M415.7 431h0M375.6 449.7h0M388.4 479.1h0M499.5 497.6h0M384.3 546.8h0M408.8 499.2h0M402.6 459.2h0M386.6 450.9h0M428 476.8h0M438.2 502.8h0M443.5 455.5h0M371.3 573.4h0M448.7 450.7h0M448.1 490.8h0M433.2 528.4h0M467.1 355.7h0M444.1 503h0M443.5 354.3h0M461.2 423.5h0M447.8 430.2h0M415.7 449.1h0M378.9 483.7h0M413.3 490.2h0M422.5 439h0M467.8 477.9h0M401.3 503.4h0M421.1 441.7h0M441.3 518.6h0M385.5 526.7h0M364.3 512.5h0M432.3 420.5h0M279.4 628h0M511.6 473.6h0M354.3 566.8h0M336.4 524.5h0M397.8 423.1h0M410.6 514.9h0M352.2 556.4h0M400 549.9h0M338.1 541.5h0M427.9 455.7h0M504.9 367.5h0M405.8 491h0M376.8 519.1h0M353.9 536.6h0M443.2 486.2h0M412.1 504.7h0M448.6 489.5h0M398.1 526.1h0M357.3 530.2h0M455.6 497h0M419.6 485.2h0M375.6 482.4h0M427.8 489.1h0M385.6 506.4h0M407 508.3h0M317.4 600.7h0M474.4 332.2h0M391 489.8h0M327.9 531.6h0M363.7 524.6h0M362.2 509.3h0M325.7 580.1h0M369.9 516.7h0M330.5 557h0M359.4 530.6h0M386 500.9h0M390.6 540.4h0M421.1 510.3h0M340.8 579.6h0M361.7 560.3h0M464.6 473.1h0M365.6 541.4h0M441.3 480.2h0M388.6 540.9h0M459.8 465.3h0M329.9 526.4h0M394.8 485.6h0M358 568.7h0M472.1 460.5h0M458.6 414.8h0M414.2 465.5h0M320.7 600.8h0M426.9 524.7h0M433.5 492.1h0M456.1 438.2h0M388.9 513.7h0M444.6 373.8h0M458.1 470.7h0M455.4 351.3h0M511.6 341.3h0M367.9 535.3h0M462.7 485h0M387.4 481.9h0M358.9 575.3h0M420.6 451.8h0M444.2 496h0M425.4 485.6h0M383.8 502.8h0M411.3 504.2h0M512.2 453.6h0M430.1 468h0M437.6 515.7h0M428.5 449.9h0M366.1 566.1h0M383.4 531.7h0M451.8 429.8h0M438.6 468.9h0M393.2 486.7h0M408.2 504.8h0M410.2 522.3h0M396 476.1h0M322.5 603.2h0M389.6 513.7h0M416.1 495.6h0M288.5 619.9h0M527.7 459.2h0M421.9 455.7h0M424.8 488.2h0M401.3 511.6h0M345.6 584h0M588.9 353.7h0M507.7 300.9h0"/>
<path stroke="#006eff" d="M409 495.4h0M401.6 496.5h0M400.6 525h0M399.9 518.4h0M380.2 548.3h0M421 505.8h0M419.5 516.5h0M373.5 546.3h0M371.6 486.5h0M399.6 546.2h0M404 508.1h0M451.1 446.3h0M418.7 495h0M387.9 527.4h0M346.8 580.9h0M390.9 514.9h0M392.5 555.6h0M435 425.6h0M370.8 564.1h0M458.7 434.9h0M402.3 479.3h0M393.5 461.1h0M413.1 523.3h0M367.5 556h0M394.4 488.6h0M459.7 321.9h0M340.8 582.1h0M443.7 484.5h0M400.1 539.4h0M471.8 491.4h0M412.6 500.5h0M387.4 530.7h0M336.1 545.5h0M389 540h0M434 485.3h0M465.8 479h0M420.7 475.5h0M402.1 560.2h0M445.2 444h0M470.7 450.2h0M374.6 579.5h0M409.3 495.1h0M435.7 509h0M437.7 514.2h0M348.2 553.7h0M391.9 546.7h0M387.8 530.3h0M428.1 534.2h0M401.6 557.5h0M453.1 447.5h0M331.1 563.7h0M426.5 521.1h0M392.8 485.7h0M415.7 526.3h0M399.8 465.6h0M367.7 575.5h0M406.5 507.5h0M441.5 370.1h0M479.5 387.2h0M492.6 472.6h0M386.6 579.8h0M452.6 437.9h0M440.1 528.5h0M422 556.6h0M393.1 528.4h0M399.5 566.2h0M466.2 441.8h0M401.4 517.2h0M340.1 543.9h0M448 478.4h0M416.5 491.8h0M439.1 465.5h0M408.3 557h0M371.7 500.5h0M418.9 489.7h0M261.8 616.8h0M405.5 526.7h0M420.1 524.3h0M372.4 572.3h0M458.5 450.3h0M439.1 490.1h0M388.6 588.9h0M499.1 375.2h0M371.2 541.9h0M443.8 424.2h0M423.2 469h0M410.8 522.4h0M358.2 571.1h0M496.9 452.1h0M429.8 512.6h0M502.2 452.1h0M429.2 524.9h0M380.5 518.1h0M396.5 514.9h0M450.5 471.6h0M405.9 499.8h0M384.3 529.3h0M421.8 445.3h0M410.8 555.9h0M431.4 468.4h0M376.4 546h0M356 595.8h0M418.1 434.1h0M459.8 519.5h0M528.3 413.7h0M424.9 539h0M463 494.6h0M410.9 497.7h0M451.4 426.9h0M434.3 540.5h0M455.1 473.8h0M426.4 453.3h0M374 464.7h0M411.7 535.6h0M406.3 504.5h0M375.6 508.9h0M411 518.9h0M422.5 545h0M453 408.4h0M473.4 459.2h0M404.4 452.8h0M401.3 528.3h0M418 449.2h0M407.2 512.5h0M457.3 506.2h0M408 487.1h0M401.2 515.8h0M414.5 532.2h0M366.2 483.3h0M651 318.5h0M490.1 322.7h0M618.6 271.7h0"/>
<path stroke="#0062ff" d="M404.1 535.3h0M383.1 515.8h0M446.3 459.2h0M374.9 560.1h0M361.4 505.1h0M430.7 503h0M387.2 499.8h0M484.2 431.9h0M443.2 486.9h0M370.9 577.8h0M478.5 512.2h0M437.9 516h0M419.1 494.1h0M473.8 415.3h0M440.4 483.6h0M325.5 598.9h0M413.4 499.2h0M462.7 471.7h0M420.1 518.6h0M351.4 599.7h0M366.9 496.2h0M419.4 494.3h0M432.4 545.9h0M416.8 462h0M376 588.2h0M434.9 439h0M380.9 534.1h0M477 473.8h0M406 486.7h0M468.9 424h0M349.7 580h0M382.6 521.6h0M466.1 484.2h0M422.3 568.6h0M391.9 555.6h0M437.8 348.7h0M431.6 428.3h0M387.9 519.7h0M449.1 474.7h0M375.3 533.7h0M392.6 525.6h0M350.6 564.3h0M376.6 527.4h0M403 544h0M368.8 539.9h0M503.6 449.3h0M398.1 576.9h0M335.6 567.3h0M469.4 440.1h0M483.6 382.8h0M410.6 540.1h0M455.6 526.6h0M449.9 480.8h0M423.3 519.2h0M382.2 518h0M386 594h0M441.1 556.5h0M396 564.4h0M466.7 453.5h0M420.4 419.3h0M361.3 555.2h0M402.3 489.3h0M437 423.9h0M448.4 491.8h0M405.3 520.6h0M481.6 520h0M538.2 398.2h0M462.9 416.9h0M402.6 510.2h0M351.4 577.9h0M396.3 477.1h0M402.3 451.7h0M445.9 501.2h0M397 530.2h0M373.3 590.5h0M419.5 488.4h0M453.5 491.7h0M461.2 515.7h0M460.6 498.6h0M401.4 532.1h0M466.7 489.8h0M446.9 498h0M439.2 514.5h0M403.5 641.2h0M439.3 481.8h0M439.9 566h0M474.2 426.6h0M374.3 572.3h0M496.9 437.8h0M423.6 536.5h0M332.4 544.8h0M454.1 565h0M474.4 450.4h0M338.4 556.6h0M312.9 644.6h0M371 536.1h0M352.3 571.6h0M409.6 584.9h0M405.8 491.1h0M397.4 554.5h0M432.5 500.9h0M478 417.2h0M384.1 584.1h0M390.4 498.3h0M398 536.7h0M423.9 552h0M448.2 476.8h0M339.2 560.3h0M453.9 417.8h0M384.9 550h0M442.2 500.1h0M419 424.5h0M402 574.8h0M483.5 464.8h0M427.6 496.1h0M366.7 658.5h0M377.9 559h0M412.9 611.6h0M365.4 575.4h0M402.2 507.8h0M584.1 297.8h0M628.7 344.2h0M581 363.2h0"/>
<path stroke="#0055ff" d="M377.1 530.1h0M394.4 502.2h0M345.6 615.5h0M388.3 528.7h0M429.7 479.5h0M434.8 464.9h0M413.7 520.1h0M421.6 527h0M359.7 584.7h0M431.6 491h0M388.5 531h0M391.4 489.9h0M427.7 546.7h0M431.5 455.3h0M389 575.9h0M395.9 533.5h0M391.1 531.6h0M348.2 595h0M419 535.1h0M408.6 579.9h0M437.5 577.9h0M425.4 509.3h0M415.9 537.7h0M412.3 507.7h0M429 481.6h0M465.7 492.5h0M417.1 506.7h0M447.7 547.9h0M467.2 503.4h0M388.4 526.5h0M382.2 569.1h0M464.4 479.4h0M429.1 512.7h0M362.5 586h0M328.7 614.4h0M434.4 487.9h0M461.7 528.1h0M424 562.6h0M388.6 555.6h0M443.6 500.3h0M406.6 519.6h0M426.6 596.2h0M506.9 468.8h0M516.8 397h0M455.9 433.1h0M414.6 559h0M478.8 514.3h0M367.2 533.2h0M385.6 575.2h0M420.1 524.3h0M339.2 593.9h0M441 520.5h0M364.6 584.4h0M404.5 553.3h0M440 525.6h0M488.2 445.4h0M480 430.9h0M337 609.3h0M412.3 511.8h0M433.4 356.4h0M429 509.6h0M435.9 467.1h0M406.5 502.3h0M408.9 534.4h0M388.2 555.7h0M378.9 529.3h0M455 559.1h0M349.1 588.6h0M365.6 587.3h0M403.1 511.3h0M474.2 499.6h0M453.3 536.8h0M367.1 624.9h0M510 376.2h0M465.4 527.5h0M417.8 494.7h0M449.8 521.7h0M393.6 523.9h0M470.8 441.2h0M463.9 472.5h0M407.1 514.4h0M452.7 484.1h0M377.8 570.7h0M360.6 546.2h0M386 553.7h0M396.8 521.1h0M432.9 549.6h0M427.2 534.2h0M449.4 557.1h0M493.1 408h0M442.7 488.7h0M371.1 621.4h0M381.7 562.7h0M413.1 510.9h0M409.9 559.2h0M365.5 557.1h0M432 518.1h0M451.5 440.4h0M438.4 496h0M380.4 587.7h0M441 570h0M412.7 546.3h0M435.6 529.4h0M417.5 500.3h0M404.8 520.6h0M387.6 569.8h0M433.6 508.6h0M413.3 548.5h0M487.9 424.5h0M397.1 525.1h0M465.7 524h0M426.4 500h0M393.6 518.7h0M433.9 549.9h0M363.3 609.2h0M435.8 459.9h0M420.2 530.8h0M568.2 383.9h0"/>
<path stroke="#0048ff" d="M367.5 575.8h0M411.6 520.5h0M441.1 551.1h0M444 383.4h0M412.8 429.4h0M382.6 530.2h0M431.8 540.4h0M423.7 560.1h0M422.5 489.8h0M483.3 527.3h0M331.6 578.9h0M418 405.7h0M329.4 604.8h0M419.4 544.8h0M446.1 429.1h0M379.7 557.5h0M397.9 575.8h0M414.2 521.4h0M482.7 450.4h0M436.4 448.7h0M435.8 459.6h0M412.4 518.9h0M411.2 557.2h0M408.4 496.9h0M375.7 564.9h0M377 595.9h0M453.6 543.7h0M402.3 504.7h0M459.3 466.2h0M423.6 536.5h0M440.2 490h0M302.8 653.5h0M443 497.4h0M412.2 485.1h0M447.4 548.3h0M441.4 480.6h0M420.6 506.3h0M475.2 499.9h0M455.6 495h0M354.8 643.1h0M406.8 562.1h0M405.9 596.2h0M431.9 498.5h0M428.3 510.4h0M375.2 571.8h0M471.4 449.8h0M449.2 422.7h0M502 490h0M455.1 496.1h0M441.1 551.1h0M434.2 532.3h0M473.5 399.9h0M414.9 539.3h0M486.4 491.5h0M508.9 450.6h0M433.9 562.7h0M468.6 349.5h0M480.5 370.1h0M467.8 476.3h0M428.6 547.5h0M455.1 503.4h0M407.1 498h0M362.6 613.2h0M512 411.5h0M462.8 497.4h0M420 493.8h0M398.8 455h0M424.6 548.4h0M419.2 604h0M425.1 507h0M400 546.3h0M404.6 556.5h0M490.1 501h0M480.2 446.9h0M444.5 503.5h0M431.6 557.3h0M408.4 572h0M467.6 509.5h0M396.7 584.1h0M384.1 567.6h0M386.3 571.9h0M469.4 507.2h0M441.2 542.2h0M421.3 484.3h0M421.8 435.4h0M432.5 536.7h0M482.1 472h0M408.1 577h0M449 484.7h0M363.1 576.1h0M509.8 437.5h0M454.2 531.9h0M464.6 470.6h0M407 580.6h0M409.4 436.1h0M480 481.7h0M447.2 499.3h0M459.3 580.4h0M442.5 430.2h0M531.5 356.5h0M416.7 522.1h0M420.2 512.2h0M397.5 571.5h0M366.7 653.1h0M437.6 494.5h0M502.5 400.8h0M376.4 620.8h0M458 514h0M415.7 507h0M363.5 606.8h0M367 660h0M415.3 496.7h0M518.7 430.9h0M433.7 480.7h0M384.1 567.6h0M674.4 383.5h0"/>
<path stroke="#003cff" d="M375.4 582.1h0M458 419h0M455.1 466.7h0M452.1 541.4h0M520.6 335.4h0M425.6 542.4h0M442.6 505.5h0M439.1 536.9h0M420.3 537h0M400.9 572.9h0M525.8 478.7h0M394.7 561.4h0M474.3 451.6h0M461.2 407.3h0M411 499.1h0M475.5 489.1h0M484.6 451.8h0M455.5 386.4h0M481.1 388.3h0M431 536.8h0M424.1 558.2h0M397.8 611.2h0M401.1 581h0M412.2 602.1h0M443.6 500.1h0M447.1 510.2h0M465.6 458.4h0M423.5 477h0M384 589.8h0M419.8 434.3h0M486.5 403.8h0M432.9 501.7h0M427 512h0M468.2 478.1h0M472.2 548.6h0M460.7 519.9h0M406.6 546.9h0M444.8 544h0M476.5 518.2h0M407.7 626.6h0M478 538.7h0M428.3 534.8h0M483.2 506.8h0M433.3 520.6h0M475.1 444.2h0M485.4 437.6h0M409.5 557.9h0M449.1 415.9h0M440.6 394h0M463.4 513.6h0M455.7 554.6h0M467.1 471.8h0M453.5 559.4h0M379.9 565.5h0M460.8 413.1h0M458.5 522.2h0M446.7 500.7h0M488.4 415.7h0M457.5 513.4h0M449.5 519.1h0M499.1 452.3h0M448.3 563.3h0M437.1 452.1h0M461.8 482.2h0M458.9 506.1h0M446.6 388.4h0M420.4 594.4h0M444.4 457.4h0M356.3 651.5h0M442 535.3h0M505.6 485.5h0M411.5 563.6h0M485.9 476.1h0M422.2 530.6h0M483.4 457.7h0M436.1 492.5h0M436.5 533.4h0M416.9 542h0M427.7 501h0M423.5 562.2h0M407.6 591.8h0M440.1 436.8h0M468.3 525.6h0M447.3 432h0M424.9 525.1h0M472.3 471.4h0M399.1 605.7h0M463.2 552.2h0M543.5 403.6h0M382.5 631.5h0M436.8 523.7h0M451.4 514.4h0M425.3 425.4h0M394.8 675.1h0M482.2 512.4h0M458.4 564.8h0M424.6 561.9h0M396.2 661.2h0M460.7 486.7h0M369.6 569.5h0M392.9 552.2h0M404.3 550.3h0M387.8 585.8h0M432.6 521h0M462.8 521.7h0M497.8 433.9h0M510.2 464.5h0M461.9 455.6h0M479.9 530.1h0M462.3 520.5h0M440 583.5h0M399.9 576.7h0M410.6 469.1h0M432.8 560.9h0M392.1 502h0M396.6 620.8h0M457.1 573h0M434 481.1h0M442.1 479.4h0M420.8 590.7h0M423.2 503h0M353.9 536.6h0M414.2 571.4h0M439 535.4h0M442.4 558.3h0M433.1 523.2h0M479.7 531.3h0M388.2 628.6h0M413.2 569h0M430.1 617.7h0M473.6 457.9h0M431.2 574.6h0M461.1 485.6h0M425.7 544.2h0M414.5 573.3h0M424.1 563.7h0M612.8 433.4h0"/>
<path stroke="#002fff" d="M431.3 565.2h0M407.1 593.6h0M486 452h0M431.3 495.7h0M403.9 602.1h0M380.9 581.4h0M452.3 564.3h0M461.6 491.8h0M484.7 533.7h0M520.4 452.1h0M469.6 488.3h0M462.3 516.3h0M449.9 525.4h0M450.6 536.3h0M423.7 566.5h0M438.1 523.3h0M451.4 505.2h0M450.6 563.4h0M466.8 491.2h0M440.5 602.7h0M486.8 484.3h0M482.1 399.1h0M459.3 578.8h0M475 414.4h0M451.6 558.1h0M434.2 535.6h0M394.2 632.1h0M483.4 371.6h0M326.2 715.5h0M445.5 465.1h0M419.4 535.8h0M448.6 555.9h0M433.1 520.6h0M411.2 597.2h0M448.6 514.4h0M454.8 525.6h0M433 498.9h0M453.2 545.4h0M484.1 453.9h0M465 510h0M418.4 611h0M449.3 388.7h0M458.4 523.5h0M405.5 608.9h0M425.6 578.4h0M438.9 520h0M411.1 590h0M411.6 590.5h0M411.5 526.4h0M437.2 514.9h0M434 559.1h0M461.6 426.8h0M444.9 502h0M476 534.4h0M443.9 584.3h0M502.2 511.8h0M377.4 669.9h0M440.3 566h0M421 459.5h0M412.8 666.1h0M405.6 526h0M450.1 546.9h0M420.4 533h0M378.3 602h0M445.9 526.7h0M427.8 586.1h0M369.2 598.1h0M455 522.6h0M464.4 539.8h0M485.7 461.1h0M446.9 530.8h0M465.3 478.9h0M525.6 417h0M446.5 509.1h0M458.7 511.7h0M416.2 549h0M430 529.6h0M457.2 516.1h0M509.3 553.1h0M504.4 503.5h0M451.3 512.3h0M470.6 463.1h0M468.6 463.2h0M440.1 596h0M393.2 605.9h0M494.2 442.4h0M459.8 556.3h0M476 508.2h0M488.8 462.2h0M394.5 606.6h0M492.2 498.4h0M424.8 518.1h0M484.1 533.1h0M411.1 442.8h0M435.8 622.7h0M469.8 527.3h0M489.2 453.6h0M431.8 588.4h0M444.5 543.7h0M470.2 547.6h0M425.8 583.5h0M466.1 482.3h0M473.9 524.4h0M409.1 513.5h0M428.7 512.9h0M408.3 590.7h0M409.8 543.4h0M457.3 490.7h0M439.1 423.5h0M479.2 521h0M458.7 564.3h0M590.5 451h0"/>
<path stroke="#0023ff" d="M453.5 524h0M429.7 616.5h0M399.6 537.7h0M399.2 524.3h0M427.2 619.2h0M461.2 493.1h0M460 499.4h0M450.3 540h0M454.2 470.6h0M402.2 616.7h0M474.2 498.8h0M468.7 530.8h0M376.5 594.5h0M468.1 520.8h0M470.7 496.8h0M445.5 578.2h0M430.9 428.3h0M436.6 570.6h0M455.5 527.5h0M507.9 473.5h0M432.9 562.8h0M430.6 530h0M467.8 556.8h0M457 507.4h0M399.1 573.3h0M406.2 580h0M447.8 551.5h0M427.8 615.9h0M442.7 518.5h0M431.1 610.2h0M448.7 499.5h0M425.6 579.8h0M475.1 555.2h0M469.7 545.6h0M447.7 529.6h0M467.1 442.9h0M446.2 516.8h0M418.1 503.3h0M446.1 551.9h0M498.8 485.2h0M403.9 575.5h0M478.7 538.3h0M406.3 445.5h0M476.1 507.3h0M401.2 559.1h0M475.7 572.2h0M421.9 616.9h0M464.8 496.2h0M446.5 546.5h0M428.2 573.2h0M460.7 547.2h0M406.3 625.9h0M467.4 448.3h0M455.4 488.9h0M451.8 443.3h0M407.9 599.9h0M464.5 567.3h0M536.4 449h0M446.4 615h0M469.5 446.6h0M427.6 603.3h0M531.4 462.4h0M474.3 501.6h0M468.6 529.7h0M449.4 584.4h0M499.4 492.6h0M470 578.5h0M414.2 552.1h0M416.4 577.6h0M479.4 527.7h0M428.7 550.6h0M498.2 485h0M497.9 482.7h0M482.9 491.7h0M456.7 572h0M465.3 464.7h0M553.3 482.7h0M459.2 533.5h0M447.9 580.2h0M467.8 520.1h0M466.1 578.1h0M472.3 533.3h0M452 546.2h0M480.8 537.4h0M443.5 605.9h0M453.4 492.4h0M455.1 595.8h0M456.8 567.8h0M438.9 531.3h0M445.1 537.5h0M418.7 529h0M401 609.1h0M448.1 554.6h0M450.5 508.4h0M473.4 567h0M400.1 608.3h0M439.5 596.4h0M419.5 630.1h0M529.1 501.2h0M402.9 553.1h0M497.5 520.7h0M465.1 527.6h0M439.5 591.7h0M484.7 523.3h0M459.7 439.4h0M474.1 554.7h0M448.7 619.1h0M391.1 643.3h0M449.3 479h0M488.8 461.4h0M457.8 522.2h0M447.1 433.2h0M497.9 489.6h0M454.5 553.1h0M449.1 547.9h0M450.4 503.1h0M368.8 676h0M393.4 666.7h0M442.6 573.4h0M427.4 527.3h0M469 552.3h0M493.7 463.7h0M414.3 609.1h0M465.6 548.2h0M428.6 677.9h0M450.2 518.1h0"/>
<path stroke="#0016ff" d="M437.6 582.7h0M435.5 543.7h0M423.5 592.6h0M429.3 582.8h0M448.8 610.6h0M408.8 612.7h0M445.4 565.6h0M446.9 499.3h0M442.9 500.2h0M480.8 461.6h0M421 636.4h0M418.5 565.4h0M433.1 634.8h0M418.3 669.3h0M446.9 593.9h0M478.5 539.4h0M431.7 584.5h0M462.3 540.3h0M477.6 501.5h0M448 540.6h0M435.4 451.5h0M373.9 671.9h0M483.2 471.4h0M464.4 444.9h0M458 490.1h0M395 641.3h0M462.8 536.4h0M410.5 624.7h0M435 589.2h0M457.4 506.7h0M435.1 461h0M467.2 586.2h0M407 634.6h0M420.4 549.8h0M470.1 518.7h0M505.7 539.2h0M429 575.7h0M447.6 546.5h0M431.7 576.4h0M479 480.7h0M526.1 407.8h0M425.8 538h0M405.5 630.3h0M447.4 446.3h0M454.2 502.9h0M474.4 575.4h0M488.8 450.7h0M450.4 441.5h0M486.6 527.3h0M441.8 550.7h0M403 574.8h0M456.7 591.4h0M445.4 439.1h0M472 567.6h0M474.1 514.6h0M442.1 567.2h0M532.5 344.4h0M436 586.1h0M466.6 496.2h0M419.7 642.4h0M469.6 515.3h0M458.9 478.5h0M490.9 474.1h0M524.4 537.2h0M459 547.9h0M474.1 565.7h0M483.5 485h0M451.1 532.4h0M448.6 518.1h0M443.3 586.1h0M461.9 462.2h0M438.8 504.4h0M470.5 603.9h0M529.3 553.2h0M482.5 422.2h0M445.9 596.7h0M463.3 520.5h0M427.2 662.3h0M455.6 597.6h0M446.3 540.9h0M424.6 598h0M466.1 600.4h0M448.5 490.3h0M427.8 560.9h0M480.8 463.8h0M455.2 571h0M475.9 452.2h0M460.9 543.2h0M460.7 545.7h0M404.2 629.2h0M429.1 596.7h0M456.5 561.7h0M440.6 611.6h0M375.6 652.3h0M416.8 623.5h0M448.5 541.5h0M452.4 531.6h0M462.6 590.1h0M424.3 643.5h0M464.8 489.2h0M468.2 531.1h0M473.9 419.8h0M370.5 608.9h0M420.7 611.5h0M475.4 441.2h0M469.1 560.2h0M412.3 601.2h0M387.4 649.5h0M467.1 443.4h0M448.7 566.5h0M511.5 485.1h0M472.8 435.4h0M453.1 573h0M455.5 474.2h0M451.4 542.1h0M427 528.3h0M456.7 569.3h0M454.8 496.1h0M447.3 470.5h0M448.1 642.8h0M445.4 653.6h0M473.7 613.1h0M438.8 583.9h0M477.1 552h0M476.7 568.5h0M449.2 583.5h0M463.1 604.1h0"/>
<path stroke="#020cff" d="M468.2 484.9h0M450 527.6h0M472.2 560.8h0M460.4 515h0M433.6 535.9h0M454.6 563.6h0M467.2 606.3h0M431 595h0M441.2 565h0M417.5 595h0M474.1 471.6h0M479.1 567.2h0M463.7 588.2h0M453.7 560.5h0M469.1 558h0M433.6 537.6h0M484.9 556.3h0M464.3 576.1h0M462.6 576.2h0M408.4 592.8h0M447.5 531.8h0M470 585.2h0M478 596.5h0M450.3 540.4h0M505.1 511.6h0M486.9 569.2h0M426.1 633.4h0M449.5 546.6h0M469 535.8h0M441.9 635.2h0M476 594.9h0M449.9 624.2h0M454.2 575.8h0M470 582.1h0M470.2 589.2h0M475.1 578.3h0M434.7 557h0M475.4 551.5h0M462.6 501.6h0M434.9 469.5h0M440.1 563.1h0M459.8 570.8h0M404.6 664.5h0M429.3 686.3h0M437 600.6h0M449.8 647.4h0M490.4 608.9h0M462.3 498.6h0M502.5 540.5h0M485.9 525.5h0M454 584.4h0M509.3 465.2h0M504.7 525.5h0M473.5 575.7h0M485.7 606h0M474.9 586.2h0M495 444.6h0M456.1 548.5h0M486.4 550.5h0M519 522.1h0M477.8 561.5h0M463 560.1h0M518 404.8h0M512.3 494.7h0M468.1 513.3h0M441.4 573.8h0M497 347.4h0M434.2 643.1h0M492.6 613h0M477.8 620.7h0M447.1 482.8h0M444.4 601h0M484.7 551.4h0M466.5 530h0M467.8 640.5h0M480.3 457.6h0M473.4 552.1h0M482.8 538.1h0M485.5 544.2h0M413.5 637h0M456.9 586.8h0M444.2 565.5h0M463.8 540.6h0M488.7 544h0M461.5 532.8h0M499.4 530.6h0M466 613.9h0M470.8 558.9h0M447.7 605.2h0M418.2 648.3h0M458.6 638h0M460.8 510.8h0M440.9 547.5h0M432.9 548.3h0M455.5 607.1h0M462.2 577.9h0M434.1 669.2h0M484.8 495h0M477.6 554.8h0M494.9 509.2h0M454.2 647.5h0M460.2 600h0M454.2 640.7h0M501.3 527.4h0M457.8 563.3h0M449.5 467.3h0M450.6 573.7h0M452.2 576.9h0M448.4 584.6h0M447.9 575h0M466.9 550.8h0M439.7 521.1h0M467 593.6h0M481.6 524.8h0M463.4 428.9h0M465.4 630.7h0M470.1 514.2h0M472.4 605.9h0M440.3 499.4h0M478.8 528.8h0M490.2 565.1h0M540.4 530.9h0M468.4 562.1h0M457.1 514.9h0M480.7 525.6h0M459.9 574.2h0M476.1 612.8h0M448 681.6h0M479 564.6h0M475.3 564.9h0"/>
<path stroke="#0603ff" d="M446.6 495.1h0M499.3 552.9h0M497.5 481.6h0M453.6 570.4h0M453.9 644.6h0M460.7 567.3h0M450.9 625.9h0M466.8 599.6h0M535.1 527.4h0M464.7 642.1h0M448.2 643.8h0M509.6 561.7h0M490.2 544.2h0M502.9 514h0M468 559.1h0M427.3 659.7h0M499.4 562.8h0M474 459.7h0M452.6 512.4h0M503.2 349.9h0M471.2 602.4h0M444.8 493.4h0M442.5 624.8h0M491.1 476.9h0M508.1 667h0M485.6 507.2h0M477.6 560.5h0M480.4 512.2h0M480.3 569.1h0M454.5 631h0M456.1 471.2h0M445.7 663.6h0M453.1 587.6h0M414.1 623.9h0M470.6 595.6h0M448.1 651.6h0M461.6 635.8h0M450.9 593.1h0M437.7 529.6h0M468 572.3h0M421 621.1h0M462.7 607.1h0M465.9 597h0M499.5 565.9h0M427.4 635.1h0M434.4 483.7h0M481.6 562.7h0M435.5 559.9h0M535.3 488.8h0M487.7 536.5h0M506 551.6h0M458.9 579.5h0M489.3 604h0M505.5 590.3h0M484.4 589.6h0M485 637h0M502.3 547.1h0M479.9 629.6h0M468.2 576h0M466 658.4h0M443 535.8h0M548.1 555.3h0M467.5 551.3h0M505.7 546.8h0M470.5 605.2h0M440.6 687.5h0M486.4 599.8h0M475 449.6h0M479.1 604.6h0M413.6 696.6h0M488.7 482.8h0M481.9 671.5h0M478.6 575.5h0M431.1 585.1h0M455.5 559.2h0M519.8 561.9h0M489.8 473.4h0M465.4 584.6h0M505.8 568.2h0M461 610.7h0M487 575.7h0M515.9 540.7h0M466.7 618h0M474.1 548.9h0M472.2 514h0M454.4 574.6h0M488 584.4h0M447.7 552.7h0M437.9 632.7h0M456 615.3h0M475.8 571.8h0M486.6 599.1h0M444.5 560.7h0M466.5 598h0M484.4 576.7h0M461.1 607.2h0M482.6 578.8h0M432.2 552.3h0M472 567.4h0M504 578.2h0M458.3 570.4h0M510.2 585h0M475.5 571.8h0M445.5 574.2h0M495.8 565.8h0M490.8 632.3h0M497.5 579.3h0M425.7 606.4h0M462.5 573.3h0M479.1 555.7h0M467 638.4h0M449.3 569.7h0M454 564h0M458.4 583.8h0M448.7 612.8h0M465.7 618.5h0M455.9 563.4h0M477.7 568.4h0M463.7 574.1h0M393.1 662.3h0M467.1 609.4h0M481.5 601.2h0M430.2 550.2h0M470.4 568.7h0M481.7 602.2h0M456.4 605.3h0M465.5 589.5h0M503.5 570.8h0"/>
<path stroke="#0f00ff" d="M476 567.9h0M466.1 572.1h0M456.2 562.1h0M486.3 572.3h0M432.3 552.4h0M447.3 637.1h0M453.6 609.8h0M470.5 559.8h0M483 588.4h0M472.9 602.9h0M485.9 619.7h0M447.6 680.6h0M499.3 607h0M448.2 621h0M474.7 564.6h0M475.5 623.6h0M479.2 579.5h0M507.2 575.4h0M452.8 561.6h0M444 570.7h0M426.3 553.6h0M497.2 614.4h0M487.3 574h0M464.9 618.7h0M451.9 531.4h0M472 601.1h0M465 640.8h0M464.6 636.5h0M491.1 581.7h0M471 609h0M510.5 663.3h0M487.4 569h0M479.2 575.1h0M486.2 579h0M480.5 611.1h0M405.1 520.1h0M482.6 562.5h0M481.7 663.9h0M474.6 624h0M475.6 554.3h0M473.3 620.6h0M475.9 571.4h0M448.5 549.5h0M454.7 558.5h0M504.8 595.2h0M467.2 584.1h0M468 547.7h0M443.8 623.1h0M451.3 553h0M491.2 581.3h0M497.1 614h0M503 558.4h0M482.7 655.6h0M473.3 677.8h0M495.5 548.9h0M481.6 554.7h0M477.3 610.2h0M449.8 607.2h0M442.7 611h0M448.6 585.7h0M482.3 570.7h0M424.1 542.7h0M477 568h0M462.8 561.5h0M469.4 608.8h0M455.2 648.7h0M461.9 572.4h0M454.8 696h0M449.7 617h0M498.3 555.1h0M496.3 579.1h0M494.1 619.5h0M485.4 564.9h0M478.1 569.1h0M435.8 627.8h0M475 542.3h0M485.1 616.1h0M484.8 547.5h0M494.9 564.6h0M481.7 558.8h0M495.5 576.8h0M444.6 573.5h0M493.6 553.9h0M493.2 558.5h0M481 619.1h0M472.8 580.5h0M460.2 568.3h0M492.3 619.7h0M481.6 612h0M479.3 599.4h0M478.7 594h0M473.4 552.1h0M575.2 591.4h0M489.8 546.7h0M497.5 552.8h0M512.7 565.1h0M463.3 548.9h0M529 535h0M470.6 577.8h0M560.1 570.3h0M459 558h0M489.1 638.5h0M473.6 549.2h0M500 571.2h0M483.1 576.3h0"/>
<path stroke="#1c00ff" d="M483.1 554.1h0M488.9 607h0M493.2 558.3h0M503.8 646.8h0M468.7 551.5h0M483.6 566.4h0M481.9 580.4h0M461.8 614.4h0M517.3 607.2h0M475.8 597.2h0M487.6 571.7h0M436.3 541.8h0M440.5 556.6h0M485.1 626.3h0M478.5 542.5h0M403.7 702.4h0M484.1 576h0M496.8 639.2h0M479.4 538.1h0M447 626.2h0M471.2 562.2h0M431.3 608.1h0M465.5 540.9h0M509.4 581.1h0M465 566.2h0M474.4 578.1h0M512 581.4h0M470.4 573.2h0M466.9 619.4h0M499.3 596.3h0M461.3 570.4h0M482 596.5h0M480.3 561.7h0M471.5 515.4h0M493.2 566.7h0M463.2 532.8h0M483.8 547.8h0M506.1 613.9h0M504.6 555.1h0M483 567.9h0M461.2 539.4h0M504.5 575.1h0M477 541.4h0M525.2 602.5h0M453.2 603.7h0M513.8 597.8h0M464.7 602.8h0M467.3 629.9h0M491.7 545.6h0M477.9 561.9h0M451.3 538.7h0M458.6 625.2h0M518.3 581.3h0M471.3 612h0M451.5 568.4h0M453.9 558h0M461.2 686.8h0M500.1 595.4h0M471.6 537.5h0M463.5 654.4h0M487.5 595.9h0M493.9 574.4h0M465.8 614.4h0M493.7 591.9h0M462.7 641.6h0M484.6 565.4h0M496.3 557.1h0M498 549.8h0M467.7 640h0M485.6 576.2h0M467.8 662.3h0M461.8 628.4h0M494.8 574.4h0M497.4 549.8h0M498.7 546.4h0M464.9 681.2h0M501.4 588.1h0M472 629.7h0M481.3 638.6h0M497 527.7h0M534.9 591.9h0M463.2 572.9h0M471.1 560.7h0M458.4 593.6h0M499.7 552.6h0M482.5 621.3h0M479.6 540.5h0M462.2 654.1h0M478 578.1h0M484.1 627.2h0M504.6 599.6h0M463.7 609.2h0M486.1 608h0M465.4 567.4h0M490.2 515.6h0M491.9 571h0M452.9 516.5h0M499.4 519h0M478.1 543.9h0M471.2 573.5h0M466.7 561.2h0M469.9 581.3h0M427.7 680.8h0M483.2 624.3h0M528 545h0M450.1 548.7h0M525 582h0M469 624.5h0M487.5 559h0M488.1 625.4h0M462.1 620.9h0M493.8 547.3h0M507.2 530.4h0M498.5 598.1h0M477.4 533.4h0M507.6 548.5h0M461.9 633.8h0M516.3 499.1h0M468.9 555.9h0M479.2 602.6h0M498.9 568.2h0M521 579.4h0M515.7 571.3h0"/>
<path stroke="#2900ff" d="M461.6 588.5h0M460.1 580.5h0M452.8 703.7h0M499.3 595.9h0M464.9 567.1h0M503.1 568.2h0M507.2 551.1h0M527.7 590.7h0M474.5 578.1h0M525.1 590.2h0M464.8 646.8h0M513.4 535h0M493.2 633.5h0M514.3 619.7h0M464.1 587h0M466.7 607.8h0M499.6 581.1h0M475.2 569h0M495.3 514h0M521.2 659.6h0M464.6 543.6h0M483 553.7h0M471.4 613.6h0M434.1 715.8h0M480.8 573.3h0M477.5 597.3h0M495.4 573.1h0M540.5 552h0M450.1 544.1h0M503 576.3h0M523.1 593h0M453.9 674.3h0M512.3 611.3h0M478 613.7h0M485.8 618.5h0M499.6 645.9h0M527.7 578.6h0M531.2 527.7h0M438.1 664.3h0M493.2 530.3h0M538.3 624.9h0M485.7 547.4h0M482.3 604.8h0M482.8 560.4h0M554.8 573.3h0M476.4 590h0M490.2 633.6h0M478 566.5h0M490.5 605.1h0M470.4 596h0M483.7 650.4h0M486.5 571.3h0M468.1 587.9h0M522.3 670h0M480.1 585.3h0M508.7 534.5h0M444.1 667.8h0M483.6 536.5h0M477.7 579h0M465.1 638.9h0M544.6 566.1h0M495.2 611.2h0M522.7 563.5h0M487.1 628.5h0M499.4 531.6h0M518.6 584.5h0M514.8 540.5h0M469 554.7h0M505.4 616.1h0M481.2 602.5h0M476.7 533.3h0M486.8 591.2h0M518.8 579.3h0M449.3 558h0M540.1 520.8h0M461.5 543.7h0M477.8 585.1h0M501.7 605h0M486.7 597h0M480.1 576.2h0M471.9 638.3h0M489 653.8h0M468.8 559.8h0M512.1 539.8h0M480.4 524.4h0M495.1 655.2h0M489.9 564.9h0M529.6 545.5h0M479.1 617.5h0M473.9 587.4h0M517.3 524.5h0M534.5 503.3h0M532.9 542.3h0M498.9 678.7h0M497.3 554.2h0M511.8 560.2h0M515.1 597.6h0M484.5 548.5h0M454.3 599h0M494.9 636.1h0M531.3 562.1h0M502 573.2h0M537.1 597.7h0M512.9 579.6h0M483.6 606h0M493 527.4h0M581.4 534.4h0M481.7 556.6h0"/>
<path stroke="#3500ff" d="M486.2 564.8h0M468 639.8h0M483 575.5h0M500.6 558h0M505.1 529h0M481.4 509.1h0M466.2 508h0M478.1 610.2h0M464.4 557.6h0M565 438.5h0M489.7 667h0M495.2 612.6h0M518.2 594.8h0M516.8 537.7h0M488.1 544.4h0M505.9 577.8h0M451.3 548.2h0M488.9 601.9h0M496.7 552.7h0M510 602.6h0M496.2 607h0M483.2 519.1h0M485.1 593h0M457.1 507.7h0M506.2 596.7h0M510.3 641.7h0M482.7 629h0M496.6 583.2h0M484.7 613.2h0M484.8 533h0M476.1 601.1h0M459.1 659.9h0M546.4 572h0M508.9 615.8h0M498.7 662.1h0M522.1 602.2h0M488.9 602.4h0M482 547.3h0M492 657.9h0M545 610.9h0M521.5 501.1h0M535 588.1h0M495.3 571.4h0M462.1 562.4h0M502.6 562.1h0M465.2 504.1h0M560.1 561.8h0M513.1 553.4h0M505.7 554.9h0M471.2 579.8h0M456.3 579.4h0M474.3 555.7h0M478.9 645.1h0M485.7 584.8h0M532.1 694.1h0M494.4 673.8h0M483.5 635.1h0M515.9 593h0M540.3 530.4h0M497.8 639.6h0M506.5 618.9h0M460.6 628.7h0M525.8 625.3h0M555.2 617.7h0M485.3 663.1h0M536.7 572.9h0M505.8 553.7h0M492.9 592.8h0M521.9 655.8h0M504.3 657.5h0M495.7 652.6h0M498.6 613.7h0M455.9 699.3h0M496.3 607.3h0M519.1 600.6h0M547.3 489.7h0M500.9 566h0M502.5 574.9h0M522.8 601.3h0M502 603h0M509.1 571.4h0M495.2 643.7h0M520.1 556.9h0M514.2 568.1h0M499.1 647h0M498.6 577.9h0M522.8 594.1h0M488.8 606.5h0M520.7 569h0M481 608.4h0M502.8 638.1h0M497.2 619.5h0M523.9 653.5h0M480 567h0M479.4 606.6h0M508.5 533.5h0M519.5 587.9h0M500.2 650.7h0M455.4 481.5h0M525.8 606h0M506.3 672.6h0M484.7 624.4h0M517.9 503.1h0M485.1 592.7h0M481.5 603h0M502.6 625.3h0M491.1 528.2h0M497.4 636.5h0M488.4 655.7h0M509.7 608.6h0M488.8 650.5h0M513.4 642.7h0M496.2 597.2h0M514.2 556.8h0M427.8 587.4h0M500.5 528.4h0M512.6 662.3h0M468.8 556.8h0M510.6 624h0M472.5 591.5h0M483.6 675.7h0M519.7 618.2h0M487.6 629.9h0M497.7 579.6h0M531.1 500.3h0M516.7 592.3h0M512.8 632.1h0M490 592.4h0M517.1 645.3h0M507.8 562.6h0"/>
<path stroke="#4200ff" d="M491.4 610.2h0M498.2 619.5h0M470.6 571.9h0M522.7 581.7h0M514.3 602.1h0M496.6 586.9h0M476.7 498.5h0M501.2 586.4h0M514.7 607.6h0M513.8 559.9h0M512.2 574.3h0M520.7 627.9h0M493.4 561.2h0M490.4 620h0M492 616.9h0M493.2 568.4h0M501.3 638.5h0M469.9 594.1h0M507.8 637.6h0M502.2 600h0M513.5 528.7h0M517.5 575h0M498.3 576h0M523.5 522.5h0M523.3 618.8h0M520.5 549.9h0M511.4 543.1h0M479.6 593.8h0M499.3 550.3h0M487.5 603.9h0M419.2 609.8h0M496.1 619.3h0M516.5 572.8h0M485.7 640.2h0M476.1 670.4h0M516.2 605.3h0M503.7 611.9h0M499.7 614.3h0M464.2 529.7h0M467.1 565.4h0M498.3 571.7h0M529.5 614.7h0M564.7 474.9h0M510.5 541h0M545 629.9h0M544.4 575h0M491.8 612h0M517.5 652.9h0M505.1 574.4h0M502.1 594.9h0M498.4 553.8h0M481.1 619.7h0M514.2 588.5h0M475.7 582.6h0M508.9 603.6h0M517.9 580.6h0M491.1 619.7h0M527.9 534.6h0M509.8 611.7h0M514.4 541h0M533.2 550.4h0M494.7 562.9h0M525.4 617.9h0M518.3 575.2h0M531.7 542.1h0M483.1 599.9h0M513.7 671.8h0M489.6 705h0M479.7 685.1h0M506 568.5h0M485.9 574.1h0M562.4 567.6h0M493.2 631.7h0M508 614.5h0M558.1 491.7h0M499.9 619h0M495.9 677.2h0M490.9 604.8h0M496 536h0M479.9 640.7h0M532 601.4h0M541.6 617h0M522.7 527.8h0M470 670.7h0M530.1 596.7h0M517.9 633.7h0M497.2 598.6h0M537.4 656.3h0M503.9 654.9h0M505.2 633.6h0M490.2 580.6h0M524.4 598.3h0M534.5 607.8h0M528.6 662h0M514.5 559.3h0M517.4 606.7h0M514.5 535.7h0M500 541.2h0M497.9 585.2h0M519.2 615.7h0M512.2 636.9h0M484.6 582.2h0M504.9 605.8h0M535.3 652.1h0M550.1 572.8h0M516.2 557.3h0M519.8 600.6h0M511.7 559.8h0M470.6 624.6h0M541.8 652.2h0M498 617h0M496.2 602.5h0M515 586.5h0M475.6 561.2h0M455.8 491.2h0M535.6 563.9h0M498 587h0M522.2 610.4h0M514.7 580.6h0M565.1 563h0M531.2 671.1h0M510.7 559.9h0M520.8 626.3h0"/>
<path stroke="#4e00ff" d="M530.5 628.8h0M562.7 619.9h0M529.1 556.1h0M517.1 587.6h0M549.3 487h0M509.4 604.6h0M544.5 663.3h0M485.8 659.8h0M499.6 519.5h0M582.8 432.3h0M493 639.6h0M510.7 592.1h0M539.9 554.5h0M579.3 543.2h0M486.1 577.2h0M522.9 548.9h0M516.8 563.3h0M526.3 506.1h0M519.5 560.9h0M541.1 580.4h0M511.9 676.6h0M531.2 642.4h0M513.9 614.4h0M503.9 602.2h0M501.7 643.1h0M561.8 524.8h0M507.1 550.9h0M515.9 604.6h0M511.1 590.2h0M527.3 552.4h0M506.2 584h0M516.8 576.3h0M512.2 591.8h0M513.5 571.2h0M512.9 581.7h0M515.9 552.9h0M549.9 509.3h0M519.8 598.5h0M525.3 611.9h0M489.4 556h0M512.2 664.8h0M516.7 707.2h0M522.8 603h0M529.4 587h0M515.2 505.4h0M593.7 563.2h0M466.6 576h0M524.6 561.5h0M524.9 591.6h0M522.2 591.9h0M510.3 586.3h0M511.8 589.4h0M521.7 599.6h0M532.1 545.6h0M485.4 572.1h0M543.8 609.6h0M507.7 623.3h0M514.8 591.3h0M515.9 552.6h0M530.8 611.6h0M523.6 661.5h0M537.3 623.2h0M499 603h0M525 596.6h0M532.5 629h0M534.9 613.6h0M491.2 633h0M532.2 562.2h0M530.7 611.6h0M527.3 650.2h0M560 626.4h0M563.2 559.9h0M522.8 544.1h0M561.6 541h0M541.5 566.6h0M534.3 612.8h0M536.4 600.6h0M532.5 625.8h0M540.2 533.9h0M510.6 644.2h0M599.4 478.5h0M517.2 562.4h0M544.4 597h0M531.6 518.4h0M489.7 587.5h0M521.7 608.2h0M549.3 577.1h0M535.5 543.5h0M544.5 554.2h0M501.6 571.9h0M563.1 531.2h0M527.8 641.4h0M502.5 616.5h0M574.7 453.8h0M536.1 599.7h0M544.7 613.5h0M519.6 635h0M512.3 593.6h0M554.3 522.7h0M498.9 631.4h0M528.3 567.9h0M502.8 544.6h0M613.6 478.5h0M559.7 605.7h0M537 607.4h0M529.8 596.6h0M520.2 560.5h0M540.3 597.8h0M530 633.6h0M537.6 597.6h0M509.2 557.2h0M510.3 605.3h0M510.1 596.5h0M518.4 614h0M538.2 600.9h0M579.2 536h0M536.7 618.9h0M530.6 551.4h0M515.1 619.7h0M541.4 572.9h0M502.2 576.6h0M517.6 565.2h0"/>
<path stroke="#5b00ff" d="M482 578.9h0M554.3 603h0M568.3 541.2h0M556.3 637.8h0M523.1 592.2h0M521.7 642.3h0M506.4 584.7h0M540.2 557.7h0M524.5 530.6h0M516.6 581.6h0M517.2 630h0M523.5 667.1h0M524 619.7h0M521.6 600.5h0M538.3 667.9h0M541.2 574h0M528 584.5h0M528 587.1h0M529.9 603.9h0M495.4 596.8h0M513.3 617.8h0M524.5 645.2h0M526.4 644.9h0M518.6 531.2h0M500.1 583.5h0M522.3 695.7h0M576 549.8h0M529.4 597.5h0M493.4 524.6h0M543.4 652h0M550.3 569.6h0M514.5 563.2h0M534.6 521.8h0M545.6 543.2h0M531.4 609.3h0M507.1 537.8h0M551.2 609.4h0M522.1 591h0M534.5 529.7h0M530.9 580.3h0M518.5 584h0M550.7 633h0M553.3 605.2h0M517.4 617.4h0M513.4 581.9h0M503.8 560.5h0M534.4 620.5h0M512.1 599.4h0M618.8 506.9h0M539.9 690.2h0M535.9 590.4h0M548.2 599.5h0M538.1 617.4h0M545.3 599.4h0M521 635.7h0M519.9 607.5h0M541.7 578h0M535.7 608.6h0M517.3 582.4h0M495.1 557.6h0M549.1 643.2h0M531.2 698.2h0M569.9 579.7h0M540.4 520.1h0M514.5 617.1h0M530.6 647.8h0M543 556.7h0M541.2 613.2h0M516.3 643.8h0M497.1 561.5h0M516.4 613h0M532 637.4h0M554 572.7h0M544.6 581.2h0M543.1 512.3h0M529 546.6h0M546.5 561.9h0M468.1 582.8h0M560.5 608.5h0M554.8 528.1h0M505.7 591.7h0M543.7 656.3h0M509.2 581.7h0M504.9 572.9h0M512.3 599.7h0M552.2 597h0M544.4 504.7h0M459.5 584.9h0M507.3 590.8h0M527.4 649h0M568.5 592.3h0M544.2 646.7h0M499.7 615.5h0M585 629.2h0M586.2 567.3h0M546 657.6h0M509.7 589h0M557.4 601h0M499 549.7h0M522.6 591.8h0M546.1 566.1h0M544 584h0M504.4 576.9h0M514 607.2h0M561.3 624.6h0M521 568.3h0M562.9 620.1h0M552.9 554.1h0M586.6 510.7h0M577.1 629.4h0M568.5 534.6h0M529.7 539.9h0M546.9 631.6h0M551.3 628h0M538 639.8h0M566.2 440.9h0M548.8 549h0M543.7 672.1h0M563.7 481.1h0M525.8 585.5h0"/>
<path stroke="#6700ff" d="M528.8 592.2h0M537.3 609.8h0M548 542.7h0M536.8 618.8h0M504.7 530.1h0M530.2 620.1h0M511.1 599.4h0M556.9 557.3h0M532.7 584.8h0M559.1 622.3h0M554.3 627.4h0M536 571.9h0M558.9 604.5h0M540 592.5h0M566.5 620.2h0M535 618h0M570.4 471.5h0M552.7 626.4h0M528.8 680.7h0M535.1 611.5h0M549.9 612h0M529.2 542h0M533 612.7h0M529.1 608.2h0M502.8 577h0M538.4 610.8h0M507.4 530.4h0M518.1 608.9h0M498 550.5h0M537.6 632.7h0M508.5 573.7h0M551.1 630.4h0M554.2 634.4h0M538.1 573.6h0M553.2 634.5h0M535.2 594.5h0M560.4 577.4h0M565.7 577.5h0M523.9 584.2h0M538.7 577.5h0M531.7 608.2h0M556.1 590.7h0M549.2 625.5h0M540.3 640.3h0M551.9 600.8h0M531.6 568.8h0M500.3 602.3h0M542.3 533.6h0M551.6 588.3h0M525.5 560.9h0M543 560h0M547.8 597.8h0M577 631.5h0M523.6 540.9h0M536.2 609.7h0M523.7 591h0M466.3 464.9h0M560 599.4h0M522.3 595.7h0M531.2 595.5h0M557.2 667.7h0M530.5 656.2h0M556.4 577h0M555.2 572.7h0M547.7 601.9h0M536.7 657.8h0M529.9 581.5h0M591.1 628.9h0M533.2 552.2h0M556.1 638.1h0M567.6 611.1h0M541.1 656.1h0M581 530h0M520.6 603.1h0M520.5 603.5h0M593 525.2h0M553.1 643.2h0M590.3 541.5h0M550.7 551.5h0M556.1 606.5h0M535.9 566.8h0M593.2 660h0M540.4 626.6h0M545.3 610.5h0M536.7 637.5h0M524.7 596.2h0M549.5 620.8h0M560.6 519.9h0M542.9 534.3h0M555.3 579.3h0M543.2 573.4h0M542.3 580h0M573.4 624.3h0M551.6 548.6h0M567.6 563.8h0M522.8 628.2h0M537.8 587.3h0M565 556h0M512.9 596.3h0M506.1 531.7h0M547.1 599.7h0M521.9 542.7h0M535.1 562.8h0M543.2 610.4h0M533.9 601.3h0M544.5 645.4h0M528.9 628.5h0M543.2 657.7h0M549.4 630h0M570.8 600.9h0M542.4 551.2h0M540.8 533.4h0M544.6 604.3h0M537.8 628.1h0M527.9 567.5h0M563.3 584.7h0M506.2 485.7h0M547.8 604.8h0M571.7 601.2h0M552.5 611.7h0M560.7 628.3h0M535.3 600.2h0M573 585.4h0M513.3 586.6h0M558.6 659.3h0M552.2 581.2h0"/>
<path stroke="#7400ff" d="M582.5 517.1h0M542.4 524.7h0M530.9 608.9h0M562.9 601.3h0M547.3 599.4h0M546.5 583.1h0M556.5 632.1h0M553.2 670.2h0M495.3 451.5h0M535.3 581.9h0M535.5 587.9h0M542.9 584.4h0M590.7 618.6h0M572.6 549.4h0M569.2 589.8h0M569.4 608.4h0M555.9 603.9h0M580.2 610.5h0M570.8 550.8h0M519.7 589.9h0M565 641.1h0M600.3 548.9h0M584.2 525.2h0M522.3 588.4h0M571.9 674.6h0M587.9 598.9h0M528.8 625h0M534.5 663h0M538.7 578.1h0M535.3 587.7h0M571 562h0M549 641h0M566.9 649.7h0M560 609.6h0M552.7 618.2h0M577.4 671.3h0M545.5 571.4h0M526.9 601.2h0M566.1 598.1h0M581.6 633.3h0M581.7 628.2h0M558 569.9h0M569.5 524.8h0M554.9 677.2h0M538.4 644.1h0M501.1 476.7h0M544.9 586.4h0M587.4 539.8h0M565 646.9h0M546.6 533.7h0M547 540.9h0M563.3 607.1h0M536.8 579.4h0M574.7 613.3h0M524.9 534.6h0M566.8 592.5h0M545.2 581.4h0M571.9 556.2h0M532.2 608.3h0M541.9 644.6h0M543.1 481.6h0M583.1 580.2h0M566.8 584.7h0M590.1 647.5h0M574.3 527.3h0M576.1 534h0M574 620.5h0M541.3 599.6h0M552.5 655h0M551.2 591.8h0M562.5 615.7h0M542 554.1h0M605.2 533.7h0M574.2 624.4h0M562.2 608.5h0M530.2 553.7h0M571.2 624.4h0M565.2 570.2h0M543.9 591.6h0M560.5 604.7h0M575.8 616.9h0M557.8 530.4h0M557.8 628.7h0M543.6 644.2h0M568.8 638.8h0M590.1 580.9h0M540.2 584.2h0M590.5 616.4h0M568.5 566.3h0M531.6 531h0M551.9 604.3h0M556.6 584.7h0M543 578h0M560.8 620.6h0M597.1 559.8h0M610.8 466.8h0M555.8 599.1h0M571.9 657.3h0M599.4 685.8h0M569.6 628h0M551.8 578h0M549.9 606.8h0M557.4 657.4h0M541.6 575.5h0M571.3 569.5h0M540 541.6h0M559.3 567.5h0M536.2 614.3h0M585.6 641.3h0M571.5 621.3h0M552.3 585.1h0M571.8 606.8h0M551 625.6h0"/>
<path stroke="#8000ff" d="M551.6 564.3h0M544.4 578.4h0M597.3 570.3h0M573.6 620.7h0M561.2 610.8h0M579.6 524.1h0M506 516.8h0M606.5 625.5h0M584.6 501.3h0M524.9 565.9h0M547 599.6h0M541.9 648.9h0M581.2 629.2h0M530.2 597.4h0M585.5 611.3h0M523.8 524h0M605.8 629.9h0M568.8 591h0M577.4 507.8h0M563.3 625.8h0M546.2 535.9h0M578.3 617.3h0M565.3 533h0M561.3 607.8h0M575.9 524.1h0M580.1 618.5h0M576.8 554.3h0M575.5 548.7h0M575.2 587.2h0M580.4 613.4h0M533.6 572.6h0M594.3 543.4h0M556.9 565.1h0M543.2 603.2h0M565.7 564.3h0M549.1 576.9h0M542.1 565h0M545.8 588h0M561.2 578.9h0M576.5 594.3h0M573.2 593.1h0M539.3 570.4h0M568.4 614.8h0M560.6 636.5h0M576.2 572.7h0M576.2 601.5h0M581.4 549.4h0M538 576.1h0M576 654.7h0M556.5 529.1h0M564.7 612h0M515.6 578.4h0M557.2 549.1h0M550.4 583.4h0M601.7 525.1h0M524.6 612.4h0M548.7 648.4h0M553.3 590.4h0M588.7 570.4h0M567.3 542.2h0M591.4 631.2h0M550.5 545.7h0M604.8 618.7h0M579.4 582.2h0M571.6 597h0M573.3 611.1h0M572.1 566h0M552.1 565.3h0M556.1 627.4h0M541.9 586.6h0M545.9 525.5h0M522.9 551.6h0M562.9 612.8h0M556.7 608.5h0M510.1 576.2h0M563.3 641.9h0M577.6 615.8h0M578.1 600.3h0M577.6 609.9h0M596.8 687.1h0M551.8 551.3h0M574.1 484.4h0M621.3 618h0M603.5 603.5h0M534.7 519.2h0M560.9 614.5h0M474.6 555.1h0M562.6 589.1h0M559.1 569.5h0M582.8 590.3h0M562 577.6h0M576.3 595.3h0M559.1 624.8h0M563.1 617.3h0M560 625.9h0M586.5 599.3h0M552.7 578.5h0M520.7 602.1h0M583.8 648.2h0M544.3 577h0M566 609.2h0M545.1 580.7h0M565.4 539.5h0M562.3 630.5h0M574.8 632.5h0M542.2 601.6h0M640.1 522h0M569.2 546.9h0M585.8 528.4h0M581.2 494h0M566 639.1h0M563.9 601.6h0M565.3 620.8h0M546.2 583h0M596.9 513.9h0M605.5 547.9h0M612.9 552h0M561.4 612.9h0M619.3 507h0M557.4 555.7h0M547.1 596.7h0M588.1 593.7h0M555.2 672.9h0M542.2 546.2h0M577.8 486.5h0M563.1 534.7h0M575.3 508.4h0M593.4 596h0"/>
<path stroke="#8d00ff" d="M532.4 587.7h0M537.8 602.2h0M542.3 595.2h0M555.6 584.7h0M590.9 598.4h0M576 584.9h0M559.8 550.3h0M581.3 519.7h0M614.6 472.9h0M615 657.7h0M573.9 556.4h0M584.4 624.2h0M558.1 564.6h0M566.3 560.2h0M544.5 639h0M585.1 569.9h0M564 563.6h0M555.2 558.3h0M581.5 584.7h0M604.4 629.8h0M545.3 508.1h0M547.4 604.1h0M616.8 568.2h0M546.6 576.9h0M557.5 646.2h0M573.3 603.4h0M558 532.8h0M558.6 613h0M583.8 633.8h0M548.9 559.9h0M586 572.4h0M603.7 538.4h0M579.1 584h0M587.2 639.1h0M573 478.8h0M568.3 656.3h0M561.9 638.4h0M577.6 542.5h0M614.6 560.8h0M578 592.4h0M592.4 594.2h0M596.3 624.8h0M612.9 452.3h0M580.5 639h0M552 540.4h0M581.8 505.2h0M582.4 607.8h0M580.5 484.1h0M552.6 613.5h0M613.8 628.3h0M568.4 585.8h0M543.2 594.7h0M592.1 440.1h0M545.1 565.7h0M535 552.9h0M579.4 600.3h0M658.3 439.7h0M554.8 567.1h0M542.4 637.3h0M557.9 590.7h0M593.1 622.7h0M571.3 595.9h0M563.2 567.1h0M593.5 560.4h0M618.8 548.9h0M607.7 590.5h0M578 542.2h0M567.5 575.6h0M596.2 594.7h0M602.5 617.3h0M595.3 594.8h0M557.2 596.4h0M604.3 592.9h0M600.7 563.5h0M548.4 633.1h0M599.2 608.4h0M614.6 584.6h0M583.9 592.9h0M561.7 571.8h0M552.8 568.7h0M637.5 632.4h0M566.1 704.3h0M607.6 414.7h0M598.4 630.3h0M557.6 530.2h0M587.4 609.9h0M555.9 581.1h0M586 551.5h0M557.9 585.7h0M600.5 594.3h0M578.1 624.6h0M594.4 604.1h0M602 604h0M577.9 488.4h0M590.3 589.2h0M578.4 615.6h0M556.5 558.9h0M564.7 572.2h0M562.3 573h0M588.4 569.9h0M584.9 603.3h0M575.5 607.4h0M595.2 603.7h0M556.5 582.4h0M568.3 594.8h0M602.3 507.4h0M565.4 558.4h0M591.9 614.2h0M617.9 413.3h0M568.4 564.9h0M596.4 503.2h0M582 580.2h0M516.8 560h0M530.1 556.9h0M547.9 526.9h0M596.4 637.9h0M583.5 576.4h0M606.9 646.5h0M584.6 599.1h0M614.2 599.6h0M575.5 591.4h0M575.7 644.5h0M534.5 594.9h0M576.5 589.7h0M588.3 612.1h0M591.8 630.5h0M591.3 648.2h0"/>
<path stroke="#9900ff" d="M604.7 541.4h0M627.3 612.3h0M631.8 554.4h0M569.5 558.6h0M585.3 630.3h0M595.5 604.4h0M570.8 502.6h0M584 642.1h0M578.8 538.5h0M620.8 539.6h0M554.7 548.3h0M617 641.1h0M541 592.2h0M592.5 549.7h0M565.7 618.7h0M585.3 579.1h0M534.9 542.2h0M571.6 580.6h0M594.7 596.9h0M600.4 617.4h0M607.3 602.5h0M622.2 546.8h0M615.8 593.2h0M616.3 591.3h0M615.4 616.7h0M596 584.9h0M593 578.8h0M554.1 524.8h0M562.7 537.6h0M618.8 608.8h0M604.2 605.4h0M613.1 606.6h0M553 618.1h0M661.5 629.6h0M614.3 675.4h0M549.2 542.7h0M579 602.1h0M638.8 499.9h0M601.2 651.2h0M592.5 579.8h0M586.3 594.9h0M567.6 466.1h0M559.2 559.1h0M596.7 642h0M597.2 610.1h0M619 650.2h0M539.6 575.9h0M557 506h0M590.6 538.6h0M610.8 626.2h0M606.1 613.8h0M606.6 627.5h0M582.6 612.6h0M600.2 605.2h0M564.9 578.7h0M571.4 561.7h0M559.5 646.1h0M599.7 599h0M586.2 574.9h0M598.3 609.5h0M596.4 627.3h0M608.6 602.6h0M607 637.2h0M570.8 434.4h0M563.4 630.2h0M593.1 580.4h0M593 619h0M569.8 580.8h0M577.3 518.2h0M583.4 612.4h0M588.8 574.1h0M607 618.6h0M590.9 598.2h0M616.5 608.5h0M571.8 604.4h0M578.4 595.4h0M609.4 591.5h0M561.9 589.5h0M597.3 599.1h0M547.9 594.3h0M583.8 570.9h0M591.6 572.7h0M572.4 564.8h0M597.3 632.7h0M619.9 606.6h0M584.6 617.9h0M590.7 527.7h0M574.4 577.7h0M574.9 582h0M603.4 634.6h0M603.1 571.9h0M630.1 679.5h0M587.2 565.4h0M551.2 557.7h0M577.8 604.5h0M587.5 569.5h0M642.8 588.8h0M620.6 606.4h0M630.9 616.9h0M588.1 605.4h0M612.1 590h0M571.4 545.7h0M610 609.6h0M612 599.8h0"/>
<path stroke="#a600ff" d="M570.5 539.2h0M633.6 604.2h0M575.3 592.6h0M625.9 597.6h0M594.3 540.8h0M604.7 562.7h0M612.7 626.7h0M626 608.4h0M587.9 591.6h0M594.2 621.9h0M570.9 609.7h0M574.3 580.3h0M582.5 550.4h0M613.6 626.5h0M597.2 605h0M597.5 541.4h0M600.1 565.9h0M601 589.6h0M596 579.5h0M613.7 561.6h0M583.1 574.6h0M637 637.2h0M582 605.7h0M585.7 607h0M604.4 581.2h0M638.7 643.3h0M589.8 554.4h0M587.6 552.2h0M624.7 627.6h0M647.5 633.5h0M578.1 582.8h0M593.6 619.1h0M601.8 592.2h0M599.1 509h0M596.6 614.7h0M579 581.8h0M626.5 629.7h0M633 600.5h0M566.1 592.8h0M570.3 542.8h0M619.1 569h0M625.2 575.6h0M610 645.1h0M567.6 642.7h0M612 552.8h0M622.1 474.4h0M630.9 616.2h0M604.2 448.3h0M633.2 600.9h0M618.4 613.2h0M599.3 607.9h0M589.8 613.5h0M493.7 470.6h0M614.6 612.7h0M596.8 642.7h0M590.6 574.5h0M553.9 553.3h0M602.2 554.5h0M606 584h0M580.3 546.3h0M602.3 611.5h0M606.6 601.5h0M597.9 596.6h0M625.4 629.6h0M626.3 563.1h0M648.4 615.2h0M618.3 591.9h0M626.9 624.6h0M603.5 601.4h0M625.8 603.8h0M645.4 636.9h0M606.6 594.6h0M597.4 616.3h0M587.4 548.1h0M598.4 617.9h0M586.5 590.1h0M570.6 522.6h0M637.4 640.8h0M573 518.3h0M570.6 558.3h0M614.6 555.7h0M606.5 531h0M605.6 574.9h0M625.2 540.2h0M615.1 534.6h0M608 639.6h0M575.2 542.2h0M606.7 598.8h0M619.8 601.8h0M657.2 626.9h0M623.7 571.8h0M592.2 567.3h0M615.1 618.6h0M614.5 552h0M600.1 584.1h0M594.9 581.8h0M619.1 601.3h0M595.5 497.6h0M583.1 513.1h0M564.1 581.4h0M588.4 565.7h0M578.6 590.4h0M622.6 600.3h0M631.4 618.7h0M591.6 599.5h0M688.9 639.2h0M578.8 495.2h0M602.2 516.3h0M657.7 612.5h0M589 495.7h0"/>
<path stroke="#b300ff" d="M624.2 623.4h0M621.5 599.9h0M604.2 551.1h0M555.5 571.8h0M569.9 537.4h0M575.7 529.9h0M594.2 533.2h0M626.5 559.6h0M636.3 613h0M615.9 629h0M613.9 563.9h0M610.2 643.6h0M605.2 587.4h0M619.7 564.8h0M654.4 608.5h0M609.4 594.7h0M603.2 610.8h0M591.1 565.8h0M591 597.1h0M585.8 596.7h0M635.2 578.8h0M619.1 568.8h0M609.2 511.3h0M604.1 548.5h0M616.8 591h0M612.2 572.5h0M631.5 537.5h0M628 543.2h0M632.4 594.9h0M592 552.1h0M543.1 505.1h0M613.7 627.3h0M624.1 587.1h0M585.2 573.7h0M593.5 501.1h0M651.7 608.2h0M623.6 610.3h0M583.5 555.4h0M607.3 585.9h0M606.3 585.4h0M614.5 549.6h0M589.8 584.6h0M599.1 618.4h0M636.3 609.6h0M598.5 557.4h0M608.7 598.1h0M603.6 580.4h0M621.9 562.9h0M587.4 573.5h0M599.3 595.4h0M585.2 594.4h0M629.9 620.7h0M601.4 510.6h0M582.8 564.8h0M584.8 607.1h0M590.4 623.1h0M631.7 569h0M633.8 625.5h0M600.7 540.3h0M624.2 531.8h0M656.6 588.4h0M623.8 603.1h0M595.2 584.9h0M612.8 597.7h0M607.5 599.5h0M602.6 588.5h0M595.9 560.2h0M637 601.3h0M630.3 608.8h0M620.6 566.5h0M636.1 589.8h0M634.4 621.4h0M593.1 592.3h0M601.4 609.4h0M647.7 470.5h0M623.8 640h0M619.8 621.3h0M605.4 552.5h0M589.4 479.4h0M619.6 626.2h0M613.5 525.3h0M587 595.2h0M598 605.1h0M607.3 619.5h0M607.4 592.6h0M605 526.5h0M594.1 524.7h0M594.9 564.7h0M596 564h0M617.9 604.2h0M627.4 618.6h0M627 597.9h0M612.9 541h0M626.8 500.5h0M621.3 579h0M586.2 545.2h0M639.2 634.1h0M570.2 576.3h0M565.4 572.1h0M614.6 541.8h0M636.6 601.2h0M564.6 618.4h0M627.4 580.9h0M581.2 516.4h0M643.3 596.6h0M577 587.6h0M614 533.9h0M637 546.3h0M572.9 604.1h0M608.1 549.9h0M649.9 579.7h0M596.1 588.5h0M589.4 586.5h0M598.8 608.9h0M623.2 553.4h0M616.3 574.3h0M585 579h0M605.4 539.1h0M613.8 617.8h0M620.1 589.4h0M645.6 619.7h0M613.4 577.1h0M657.3 592.5h0M584.4 567.3h0M615.3 561.7h0M653.2 587.6h0M602 609.6h0"/>
<path stroke="#bf00ff" d="M636.7 589.7h0M613.5 584.5h0M603.3 564.7h0M627.2 571.3h0M624.9 607.4h0M633.2 546.7h0M638.6 616.6h0M625.7 582.1h0M623 548h0M626.6 632.5h0M596.5 624.5h0M609.6 592.6h0M580.3 557.5h0M632 610.4h0M602 533.9h0M633.9 593.6h0M648.8 537.2h0M587.6 546.1h0M597.9 575.5h0M611.1 597.4h0M603.5 538.9h0M652.4 605.8h0M611.4 554.5h0M595.7 591h0M593.3 562h0M639.7 549.4h0M588.9 568.7h0M636.5 601.5h0M619.5 531.7h0M617.9 631.3h0M572.2 555.5h0M624.9 550.2h0M641.4 593h0M619.3 592.3h0M608.3 506.2h0M620.1 525.1h0M601.6 592.8h0M579 505.1h0M563.3 545h0M587.9 597h0M586.5 537.7h0M603.1 553.7h0M611 596h0M560.5 547.7h0M583.4 516.9h0M614.6 600.2h0M597.8 585.4h0M675.7 625.8h0M595 552.3h0M618.6 546.9h0M636.8 542.2h0M652.9 619.3h0M598.1 508.1h0M660.8 624.9h0M649 599.1h0M598.9 541.2h0M664.7 619.3h0M616.3 569.1h0M644.3 617.9h0M637.1 594.5h0M643.3 559.6h0M639.2 630.5h0M597.7 554.2h0M601.4 556.1h0M594.9 558.7h0M601.5 596.6h0M646.4 580.9h0M655.3 536.5h0M581.3 536.5h0M591 538.1h0M604.4 594.1h0M650 592.6h0M618.5 553h0M645.2 616.1h0M655.8 629.1h0M615 576.8h0M638.6 610.9h0M651.8 611.3h0M626.4 606.3h0M657.7 607.1h0M623.8 554.7h0M589.9 584.7h0M630.5 618.9h0M604.3 574.8h0M590.5 588.9h0M624 572.8h0M621.9 586.4h0M618.8 570.3h0M618.4 571.4h0M601.5 566.7h0M618.1 548.8h0M624.2 569h0M595.4 538.4h0M574.3 549.9h0M625.8 608.7h0M647.6 612.7h0M608.6 553.3h0M629.4 489.1h0M586.3 496.8h0M627.7 605.5h0M655.9 623.2h0M596.6 576.3h0M653.4 642.1h0M621.1 564.3h0M647.1 586.4h0M678.4 663.5h0M635.8 579h0M623.1 570.5h0M617.7 580h0M642.3 602.8h0M641.6 514.8h0M626.1 559.8h0M644.2 557.2h0M646.1 515.3h0M637.3 577.4h0M551.4 555.6h0M584.8 558.5h0M615.9 599.6h0M600.8 595h0M659.5 571.2h0M634.7 544.5h0M645.4 473.6h0M651 620.7h0M634.6 581.8h0M647.9 544h0M649 619.9h0M663.7 594.2h0M638.3 543.1h0M654.7 551.1h0M629.7 579.5h0M645.1 629h0M632.1 563.1h0M582 586.7h0M670.2 626.1h0M673.6 569.6h0"/>
<path stroke="#cc00ff" d="M639.5 567.2h0M594.1 555.9h0M636.4 498.5h0M627 569.4h0M647.9 651.5h0M602.1 530.5h0M613.8 535.8h0M588.9 553h0M621.9 607.7h0M655.6 641.7h0M609.4 530.8h0M633.6 582.7h0M598.9 554.5h0M624 595.3h0M604.8 534.8h0M669.2 596.8h0M635.7 545h0M632 622.7h0M569 581.6h0M634.2 596.3h0M596.2 575h0M687.8 459.4h0M645.9 597.4h0M600.8 582.6h0M609.5 550h0M605.4 571.6h0M643.1 612.3h0M640.8 611.7h0M635.6 575.2h0M623.7 568.7h0M593.3 589.7h0M620.7 594.6h0M646.9 603.8h0M611.9 590.9h0M615 532.8h0M675.6 591.1h0M622 540.7h0M585.2 592.9h0M612.4 585.1h0M649.2 599.6h0M658.5 573h0M658 581.2h0M611.3 545.2h0M599.6 584.9h0M613.3 535h0M662.4 557.8h0M618.6 587.1h0M657 574h0M632.9 568.4h0M602.1 581.1h0M643 587.7h0M602.7 527.3h0M652.1 571h0M592.2 580.6h0M628.1 602.6h0M582.1 620.6h0M644.3 589.4h0M623.4 567.5h0M571.2 582.5h0M666.8 615.6h0M548.6 542.5h0M636.6 502.6h0M635.5 534.4h0M661.6 556.7h0M593.1 562.4h0M620.6 556.1h0M591.8 599.6h0M587.7 561.4h0M619.6 511.3h0M631.4 576.2h0M653.2 653.6h0M630.5 581.1h0M616.1 601.1h0M632 583.4h0M632.7 501.5h0M640.8 555.9h0M611.7 540.3h0M608 576.8h0M654.3 573.1h0M631.8 584.1h0M618.3 592.5h0M681.6 585.9h0M603.6 546.9h0M595.1 591.9h0M615 528.5h0M569.1 585.4h0M598.4 573.5h0M624.6 571.8h0M632.7 540.2h0M656.3 518.1h0M624.2 477.5h0M676.4 626.8h0M665 598.6h0M650.4 596.4h0M668.2 619.3h0M601.2 542.3h0M651.4 571.6h0M655.1 604h0M642.4 597.8h0M642.4 541.3h0M638.7 595.4h0M608.8 529h0M623.5 566.1h0M683.7 617h0M691.1 635.1h0M629.9 567.3h0M606.1 579.8h0M623.7 539.4h0"/>
<path stroke="#d800ff" d="M632.4 562.2h0M649.7 559.3h0M679.6 593h0M664.5 575h0M635.8 536.7h0M638.3 565.6h0M628.3 579.2h0M625.1 555.5h0M661.2 609.2h0M587.8 566.3h0M619.7 586.4h0M622.6 558.1h0M643.5 592h0M657.8 573.7h0M652 547.7h0M693.9 586h0M669.7 553.2h0M652.6 615.8h0M647.8 590.7h0M627 540.5h0M657.5 583h0M599.2 555h0M642.9 541h0M658.2 586.6h0M642.1 585.4h0M682.6 585.7h0M625.4 560.1h0M657.3 524.4h0M611.9 570.9h0M654.7 564.2h0M703.8 597.2h0M640.3 558.9h0M642.7 641h0M623.3 569h0M584.4 543.1h0M632.2 543.3h0M620.9 566.7h0M643.8 597.1h0M606.2 599.8h0M696.9 566.7h0M654.9 603h0M689.6 574.5h0M634.4 577.2h0M672.2 594.9h0M674.5 577h0M666.3 595.9h0M648.8 477.3h0M622.5 536.8h0M658.6 604.3h0M660.2 579.4h0M629 608.3h0M643.9 561.4h0M630.2 539.2h0M623.2 590.7h0M653.9 571.5h0M632.1 621.7h0M660 558.7h0M617.5 523.3h0M630 571.3h0M636.3 576.4h0M663.1 522.5h0M626.5 513.2h0M609.2 541.7h0M657.5 601.2h0M650.9 607.2h0M659.6 592h0M651.5 585.6h0M622.1 542.6h0M616.2 518.6h0M632 594.1h0M642.7 601.8h0M645 581.6h0M627.9 602.7h0M665.8 632.4h0M655.2 535.7h0M646.2 596.5h0M620.4 580.4h0M657.6 484.1h0M637.8 587.9h0M642.7 564.6h0M666.5 615.3h0M675 586.3h0M626 576.3h0M630.5 600.6h0M576.3 573.8h0M667.5 563.6h0M654 555.7h0M619.5 546.8h0M634.5 568.2h0M610.8 575.1h0"/>
<path stroke="#e500ff" d="M652.3 562.1h0M665.5 583.5h0M645.8 549.4h0M653.7 575.1h0M651.8 564.8h0M680.6 587.9h0M637 568.6h0M657.4 617.4h0M644.3 541.6h0M656 582.2h0M673.3 617.2h0M653.5 586.7h0M633.4 579.9h0M659 574.3h0M622.8 569.6h0M662.4 593.7h0M678.2 540.2h0M605.3 525.9h0M606.8 592.5h0M635.9 581h0M724.5 560.2h0"/>
<path stroke="#e500ff" d="M641.4 574h0M620 595.8h0M673.9 606.4h0M625.6 589.9h0M648.3 589.7h0M612.7 585.2h0M689.6 565.6h0M694.4 576.5h0M680 571.3h0M625.9 561.9h0M637.5 543.8h0M659.5 509.6h0M680.7 604h0M597 547.8h0M637.3 544.4h0M615 572.1h0M668.6 550h0M667.8 564.2h0M634.7 560h0M673.6 543.8h0M648.9 570.8h0M636.3 543.5h0M648.2 606.1h0M675 586.6h0M649 563h0M635.9 595.8h0M667.2 579.3h0M674.5 543.5h0M629.1 582.1h0M645.7 591h0M679.7 603h0M672.8 570.3h0M655.3 531.8h0M671.7 577.4h0M654.7 564.8h0M600.8 574.4h0M658.9 624.4h0M685.2 584.2h0M659.5 588.7h0M636.3 539.8h0M663.3 573.7h0M599 574.3h0M668.8 611h0M656.3 605h0M626 572.6h0M662.4 590.5h0M675.5 565.7h0M647.9 574.5h0"/>
<path stroke="#f100ff" d="M661.5 542.3h0M610.3 572.7h0M655.7 535.5h0M647.9 549.4h0M610.9 560.3h0M609.7 568h0M643.3 590.9h0M656.1 566.8h0M640.7 577.7h0M659.3 516.8h0M659.4 538h0M642.2 585.6h0M664.3 509.9h0M650.6 575.8h0M651.6 597.6h0M636.7 533.4h0M663.7 549.5h0M619.5 539.2h0M691.4 569h0M637 549.1h0M665.3 516.6h0M632.9 550.9h0M637.3 565.3h0M661.1 573.5h0M627.9 582.5h0M620.9 591.2h0M666.9 554.2h0M662.9 533.9h0M613 537.7h0M646.6 532.2h0M683.8 612.7h0M656.2 603.2h0M658.1 522.2h0M661.8 565h0M650.4 547.4h0M688.4 534.2h0M605.8 587.7h0M652.1 577.1h0M694.4 567.3h0M653.2 536.6h0M654.6 595.4h0M604.4 613.2h0M642.1 579.6h0M643.1 597.9h0M641.2 572.5h0M652.1 574.3h0M667.1 592.5h0M614.3 587.7h0M678.9 581.2h0M647.6 559.7h0M662.4 532.6h0M673.7 546.4h0M615 589.8h0M646.3 518.1h0M663.5 586.7h0M703.8 544.9h0M642.7 543.1h0M657.3 596.3h0M693.1 586.1h0M645.3 562.5h0M642.6 498.2h0M656.5 574.7h0M612.3 551.7h0"/>
<path stroke="#f100ff" d="M645.8 611.5h0M660.6 587.7h0M660.4 572.2h0M665.1 556.2h0M712 548.3h0M670 561.2h0M708.1 571.4h0M692.3 590.9h0M650.1 569.4h0M680.2 555.9h0M631.5 520h0M677.9 589.6h0M641.7 559.7h0M620.4 617.6h0M662.5 535.2h0"/>
<path stroke="#f900fa" d="M652.4 562.8h0M625.3 582.1h0M694.3 628.4h0M676.2 555.1h0M651 565.7h0M630.7 540.9h0M667.6 559.2h0M684.9 555.7h0M638.3 589.7h0M590.9 594.4h0M708.2 562.6h0M709.4 578.3h0M683 565.4h0M635.9 586.9h0M669.7 536.7h0M648.9 569.8h0M673.4 545.3h0M620.2 591.1h0M695.8 581.3h0M673.5 506.2h0M656.2 612.6h0M666.2 564.1h0M630.5 572.7h0M629.5 510.5h0M636.1 561.5h0M682.2 553.1h0M650.8 543.4h0M633.7 584.2h0M643.7 550.7h0M682.9 609.5h0M631.4 576.3h0M653.9 565.8h0M685.3 549h0M666.2 582.3h0M695.5 540.8h0M629.7 534.8h0M680.6 566.6h0M680.8 583h0M691.1 610.3h0M641.9 589.4h0M677.6 523.1h0M604.2 559.5h0M663.2 577.9h0M673.3 595.1h0M669.6 533.7h0M676.8 582.5h0M639.1 564h0M714.1 562.3h0M676.4 580.9h0M691.7 566.8h0M708.4 559.5h0M698.1 541.1h0M661.1 597.1h0M663.3 525.8h0M664.5 542h0M660.1 533.5h0M666.4 575.6h0M638.9 565.2h0M645.8 618.9h0M665.8 542.8h0M657.8 556.3h0M675.8 567.6h0M627 568.3h0M641.3 537.3h0M683.4 571.1h0M648.3 572.2h0M724.7 547.4h0M692.1 538.7h0M676.6 595.1h0M644.7 575.4h0M669.8 570.4h0M686.7 542.6h0M680.5 559.5h0M633.8 566h0M663.5 586h0M694.6 530.5h0M683.9 544.2h0M665.1 586.9h0M678.1 514.4h0M686.6 536.1h0M673.8 574.3h0"/>
<path stroke="#fe00f2" d="M681.1 548.1h0M670.3 608.7h0M629.2 568.7h0M665.7 575.3h0M655.6 539.8h0M628.8 519.4h0M693.2 537.1h0M687.6 570.5h0M662.5 495.8h0M674.4 549.1h0M726.8 537.4h0M635.6 591.5h0M666.5 551.6h0M652.4 589.8h0M679.5 543.4h0M650.9 574.1h0M663.6 518.8h0M665.1 569.8h0M689.1 589.3h0M684.1 585.5h0M690.5 602.9h0M732.3 509.9h0M637.2 536.7h0M733.1 538.7h0"/>
<path stroke="#fe00f2" d="M640.3 522.5h0M633.3 588.6h0M681.3 584.9h0M660.9 567.2h0M650.4 559.7h0M644 544h0M698.2 552.4h0M665.7 563.3h0M716.5 525.7h0M681.8 583.5h0M690.3 540.7h0M688.5 564.4h0M683.7 567.3h0M678.5 574.9h0M659.2 575.5h0M672.9 562.2h0M663.2 548.5h0M655 539.4h0M634.8 562.4h0M680.5 557.3h0M685.7 560.2h0M613.4 598.6h0M649.7 571h0M716 560.4h0M665.4 590.4h0M698.9 545.9h0M656.2 556.3h0M644 567.7h0M692.2 555.6h0M653.6 575.8h0M634.7 562.8h0M701.8 548.5h0M690.8 553.1h0M641.8 576.6h0M638.2 588.6h0M721.8 552.6h0M644.6 565.8h0M651.7 560.6h0M669.1 572h0M721.2 546.8h0M668.6 582.5h0M677.8 566h0M662.2 564.6h0M620.6 575.7h0M684 591.6h0M698.9 553.9h0"/>
<path stroke="#ff00e7" d="M684.8 582.9h0M672.5 584.2h0M584.8 571.5h0M638.2 555.1h0M709.8 561.1h0M636.2 540.9h0M673.1 468.8h0M664.2 540.7h0M677 572h0M673.3 575.2h0M682.2 510.9h0M725.1 581.3h0M657.7 594h0M676.6 577.4h0M638.6 579.9h0M617.9 578.2h0M684.3 568.3h0M687.1 585.7h0M700.8 529.7h0M623.8 567.6h0M708.5 558.4h0M670.4 519.9h0M633.8 580.5h0M616.3 560.9h0M694.9 581h0M671 552.8h0M635.6 570.7h0M676.8 529.7h0M659.5 524h0M708.6 502.6h0M648.6 555.2h0M731.5 562.4h0M692.8 602.1h0M692 565.6h0M710.9 548.5h0M692.2 555.5h0M669.1 549.3h0M688 550h0M723.1 496.1h0M639.5 585.7h0M650.8 578.6h0M653 552.5h0M658.8 574.8h0M688.7 564.9h0M623.7 604.5h0M706.9 514.4h0M652.5 578.5h0M674.3 565.5h0M677.3 572.9h0M685.3 557.2h0M695.5 553.1h0M692.9 557.4h0M634.1 532.4h0M634.8 546h0M619.7 575.9h0M633.5 580.5h0M690 542.4h0M681.5 562.7h0M685.9 578.3h0M676.2 570.9h0M636.9 594.9h0M635.5 600.8h0M704.2 533.1h0M651.2 542.1h0M698.7 559.4h0M647.6 509.6h0M643.9 579.2h0M699.8 563.7h0M673.3 565.1h0M661.6 514.8h0M679.6 546.6h0M679.1 561.5h0M682.1 541.2h0"/>
<path stroke="#ff00e7" d="M654.2 569.3h0M704.1 530.8h0M600.8 586.2h0M662.9 608.1h0M685.7 549.3h0M700.4 554.3h0M694 537.1h0M657.8 568.3h0M607.1 535.4h0M697.1 501.7h0M692.9 569h0"/>
<path stroke="#ff00da" d="M674.7 542h0M670 589.8h0M671 571.9h0M689.4 547.9h0M645.3 581h0M674.3 566.8h0M695.4 512.1h0M710.2 565.2h0M650.7 573.9h0M642.2 584.5h0M654.7 536.5h0M683.2 572.7h0M631.7 595.7h0M707.8 589.9h0M702.5 572.1h0M695.9 521.9h0M724.9 537.6h0M667.7 568.9h0M650.8 591.3h0M689 545.9h0M681.5 550.7h0M684.1 555.8h0M689.8 555.6h0M687.2 565.2h0M682.6 543.5h0M647.4 572.6h0M681.8 559.7h0M640.4 545.1h0M670.1 560.1h0M687.7 549.5h0M693 558.2h0M661.6 544.8h0M651.1 533.1h0M665.5 551.8h0M692.9 561.1h0M690.7 545.7h0M663.7 536.2h0M750 550.1h0M634 534h0M620.1 548.2h0M658.6 555.2h0M664.9 568.4h0M685.3 530.9h0M675 549.7h0M728.7 525.6h0M698.4 542.3h0M697.3 567.2h0M630.2 549.8h0M676.2 563h0M693.9 518h0M672.5 539.4h0M657 572.5h0M656.2 548.9h0M656.8 529.4h0M671.3 574.2h0M671.4 531.5h0M705.1 535.2h0M696.8 567.5h0M675.4 552.2h0M692 502.2h0M690.8 526.4h0M690.6 542.4h0M659.6 566h0M677.6 544.7h0M698.2 554.4h0M691.9 548.9h0M597.4 569.6h0M717.7 554.1h0M714 475.8h0"/>
<path stroke="#ff00ce" d="M714 488.9h0M664.8 532.6h0M659.6 573.2h0M651.6 558.2h0M724.4 515.5h0"/>
<path stroke="#ff00ce" d="M634.7 579.5h0M688.6 544.5h0M685.3 585.2h0M685 536.9h0M722.9 546.7h0M653.2 549.9h0M649.9 602.5h0M717.8 550.4h0M699.8 562.9h0M643.4 506.9h0M662.3 533.1h0M658.7 576h0M671.2 564.5h0M684.7 522.5h0M710.8 561.6h0M726.1 565.7h0M651.3 553.6h0M653.5 551.7h0M668 555.5h0M672.8 527.5h0M698 546.8h0M659.2 593.8h0M713.5 522h0M694.2 570.3h0M695.1 534.5h0M626.3 563.5h0M686.6 575.9h0M704.7 566h0M649.4 559.3h0M724.1 550.3h0M631.2 557.1h0M694.6 528.5h0M685.2 530.7h0M691 553.3h0M717.4 587.4h0M713.8 561.1h0M659.1 583.6h0M635 562.8h0M613.2 581h0M723.1 529.4h0M660.5 583.9h0M705.6 551.7h0M656.8 550.9h0M709.2 518.3h0M678.5 566.1h0M703.8 541.7h0M666.4 560.3h0M700.2 546.1h0M678.5 531.9h0M687.7 571.7h0M674.3 564.5h0M704.7 555.9h0M710.9 553h0M658.7 556.8h0M674 532.6h0M711.7 534.6h0M627.5 557.7h0M649.1 559.6h0M689.3 548.8h0M707 521.8h0M772.7 533.3h0M686.7 545.1h0M706.1 528h0M695.9 587.1h0M723.1 549.1h0M697.3 575.4h0M653.2 540h0M707.7 534h0M651.6 476.5h0M683.2 554.8h0M726.6 490.4h0M673.5 568.2h0M700.9 536.6h0M652.8 559.5h0M717.4 525.7h0M699.5 523.7h0M672.8 582.3h0M719.4 509.4h0M667.5 555h0"/>
<path stroke="#ff00c1" d="M666.8 537.4h0M649.2 582.1h0M684.7 542.7h0M661 565.9h0M650.3 577.6h0M702.9 536.5h0M634.1 541.3h0M713.3 552.1h0M720.8 512.7h0M716.3 552.2h0M684.7 504.4h0M687.2 546.8h0M669.6 600.3h0M726.6 544.5h0M694.5 559.7h0M711.5 535.3h0M657 575.4h0M711.6 527.6h0M669.8 534.4h0M690.5 558.6h0M641.4 563.8h0M737.6 520.2h0M694.1 526.3h0M702.2 538.3h0M642.4 584.1h0M681.2 531h0M676.8 526h0M654.8 563.6h0M731.5 521.7h0"/>
<path stroke="#ff00c1" d="M678.7 551.1h0M668.7 559.9h0M683.2 563.2h0M705.7 545.5h0M681.8 561.1h0M668 555h0M688.4 556.8h0M703.5 557.9h0M659.5 513.7h0M678.4 560.9h0M658.9 546.2h0M675.7 616.7h0M675.4 529h0M684.6 513.4h0M718.9 520.5h0M694.4 558.8h0M700.1 506.1h0M680.2 516.7h0M715.3 521.2h0M723.4 535.3h0M691.4 542h0M704 566.3h0M656.2 543.7h0M683.9 572.6h0M675.5 505.4h0M645 594.4h0M676.7 566.7h0M701.8 533.4h0M682.5 550.4h0M692.3 528.3h0M645.9 572.3h0M662.2 531.3h0M638 585.8h0M707.3 501.7h0M753.6 508.5h0M680.1 577.1h0M688.3 551.7h0M698.8 541.8h0M712.1 491.2h0M666.9 569.3h0M681.8 556.8h0M703 546.5h0M661.6 577.1h0M743.4 531.4h0M717.1 507.6h0M671.2 592.8h0M650.4 603.8h0M700.4 556.1h0M668.6 545.1h0M717.8 493.5h0M636.7 561.1h0M646.4 572.8h0M656.8 511.5h0M699.8 528.8h0M720 548.3h0M650.3 571.5h0M683.6 551.6h0M698.8 546h0M667.1 554.9h0"/>
<path stroke="#ff00b5" d="M664.8 481.1h0M685.4 575.4h0M714.3 549.2h0M709.7 560.7h0M746.7 513.1h0M703.2 497.3h0M739.5 539.1h0M701.1 523.4h0M679.2 575.1h0M681.1 568.9h0M723.8 535.5h0M710.8 509.6h0M697.2 540.5h0M692.6 502.9h0M710.5 530.9h0M713.4 549.3h0M718.3 561.1h0M712.8 519.5h0M714.5 571.5h0M724.6 553.6h0M649.2 572.9h0M657.8 577.5h0M691.4 542.1h0M710.4 545.1h0M694.8 531.8h0M749.7 549.2h0M679.4 579.9h0M744.9 464.4h0M649.5 549.9h0M639.6 540.6h0M642.4 547.4h0M686.8 552h0M707.1 538.8h0M693.5 542.3h0M699.5 585.4h0M699.4 562.4h0M656.6 546.5h0M717 587.6h0M719.7 535.5h0M665.8 499.6h0M700.8 505.7h0M707.7 529.2h0M686.4 547.4h0M649.7 582.1h0M678.6 559.1h0M659.3 527.4h0M719.4 556.8h0M721 505.2h0M697.8 554.9h0M682 556.5h0M701.5 552.8h0M711.9 564.7h0M656.8 569.1h0M674.1 562.1h0M731.8 524.3h0M698.9 523.1h0M718.5 560.7h0M705.5 525.7h0M686.1 538.6h0M724.7 546.8h0M706.1 551.9h0M617.1 571.2h0"/>
<path stroke="#ff00b5" d="M670.2 543.9h0M645.5 514.4h0M696 521.1h0M729.5 542.3h0M718.3 536.3h0M706.2 523.2h0M673.3 524.4h0M700.1 548.5h0M714.9 554.8h0M683.7 536h0M728.7 534.4h0M730.2 520.3h0M701.8 555.4h0M689.5 545.1h0M651 554.9h0M665.6 551.4h0M645.6 564.7h0M623.1 573.8h0M678.7 538h0M693.8 554.4h0M702.2 557.1h0M710 534.2h0M727.1 553.5h0M676.7 525.8h0M742.6 574.6h0M664.9 560.2h0M657.8 530h0M685.2 575.8h0M769.5 500.9h0M697.4 508.7h0M642.4 560.5h0M637.7 602.7h0M693.9 573.9h0M714.8 535h0"/>
<path stroke="#ff00a8" d="M695.5 538.3h0M714.1 531.2h0M704.4 525.4h0M717.3 517.3h0M704.3 520h0M680.9 526.6h0M752.6 533.9h0M714 537.2h0M690.7 549.9h0M739.5 498.2h0M732.6 541.9h0M679.6 526.1h0M649.7 570h0M680.7 535.2h0M714.6 551.3h0M669.7 565.8h0M713.3 549h0M707.1 521.4h0M688.3 522.1h0M699 542.4h0M726.4 504.8h0M722.5 572.2h0M699 560.1h0M707.4 549.1h0M726.8 487.9h0M711.3 495h0M679.6 555.4h0M709.1 553.7h0M674.2 558h0M726.8 502h0M709.3 514.6h0M729.9 529.8h0M711.2 505.1h0M715.5 581h0M712.4 517.8h0M748.5 523.5h0M720 517.4h0M684 554.5h0M729.3 533.1h0M675.3 572.6h0M768.1 445.4h0M663.4 545.6h0M690.1 529.8h0M683.6 515.9h0M708 541.5h0M703.2 510.8h0M738.5 501.2h0M697.7 550.2h0M650.2 571.9h0M709.5 573.3h0M782.3 482.8h0M713.2 531.3h0M676.8 540h0M724.1 514h0M717.6 558.8h0M708.4 552.2h0M679.9 529.4h0M728.9 509.6h0M687.5 577.9h0M662.2 572.5h0M690.7 525.6h0M702.6 591h0M713.7 531.8h0M724.7 512.7h0M661.2 533.2h0M696.4 520h0M675.3 553.1h0M685.5 540.3h0M705.6 528.6h0M729.3 528.2h0M664.7 530.8h0M746.2 520.6h0M652 583h0M683 558.5h0M725.8 508.7h0M706.1 518.4h0M719 523.9h0M698.3 532.2h0M722.4 491.5h0M696.2 510.2h0"/>
<path stroke="#ff00a8" d="M685.4 566.2h0M713.5 509.9h0M702.4 548.2h0M662.3 557.3h0M707.6 571.3h0M712.1 516.2h0M665.5 537.3h0M645.7 551.5h0M756.7 494.2h0M697.4 537.8h0M671.9 532.9h0M671.5 554h0M674.5 553.3h0M711.3 563.1h0M770.8 523.5h0M698.5 555.6h0M705.3 514.4h0M674.4 540.7h0M736.7 521.9h0M679.1 511.9h0M746.4 455.3h0M671.8 547.7h0M695.3 523.1h0M718.9 530.9h0M661.2 572h0M710.2 502.4h0M663.3 513.8h0M741.5 504h0M685.7 521.2h0M758.1 551.8h0M699.3 515h0M732.9 524.5h0M662.7 578.1h0M670.4 541.3h0M718 532.8h0M728.7 525.8h0M724.9 492.7h0M703.6 523.2h0M658.7 508.1h0M611.3 508h0M738.9 522.2h0M699.8 511.5h0M726.6 533.6h0"/>
<path stroke="#ff009c" d="M707.4 538h0M693.7 506.3h0M710.4 540.3h0M680.6 587.7h0M737.4 510.7h0M680.8 543.3h0M613.2 573.7h0M721.8 485.3h0M723.6 512.5h0M678 520.7h0M718.5 511h0M762.3 487.5h0M673.5 488.2h0M724 535.3h0M750 505h0M689.4 543.7h0M662.3 521.5h0M704 538.8h0M704.4 586.1h0M652.1 583h0M684.7 538.1h0M676.8 513.7h0M671.6 595.5h0M680.6 548.7h0M729.1 551.3h0M676.1 503h0M729.2 554.4h0M701.8 589.2h0M724.8 514.4h0M703.8 511.3h0M734.2 486h0M697.5 546.9h0M724.9 532.6h0M724.6 503.4h0M690.1 506h0M735.4 505.8h0M717.8 512.3h0M765.4 523.2h0M711 483.3h0M736.3 525.7h0M726.7 496.4h0M707.1 474.3h0M710 528.2h0M692.3 520.3h0M725.9 528.4h0M670.2 570.3h0M718.8 519.3h0M673.3 533.7h0M687.7 535.8h0M727.6 525.5h0M742.1 513.1h0M708.2 538.8h0M683.5 550.4h0M694.1 534.2h0M709.6 544.3h0M732.5 519.2h0M719.5 507.4h0M748 443.5h0M698.8 535h0M721.9 534.4h0M722 533.5h0M675.9 549.1h0M730.6 549.1h0M751.5 507.9h0M718.1 531.5h0M746.7 547.1h0M639.6 552h0M651.5 550.9h0M717.8 561.3h0M660.9 568.2h0M727.4 514.8h0"/>
<path stroke="#ff009c" d="M716.5 495h0M738.4 538.4h0M687.7 544.5h0M671 533.8h0M716.7 538.5h0M712.4 517h0M717 520.4h0M660.8 552.9h0M733.8 504.5h0M735.6 524.1h0M703.9 510.9h0M731.9 490.1h0M646.7 589.2h0M718.5 537.6h0M734.4 527.5h0M697.3 465.3h0M695.5 535.3h0M677.7 540.3h0M703.5 516.2h0M701.5 536.2h0M730.1 504.9h0M725.2 531.4h0M690 543.6h0M659.7 543.7h0M683.2 558.4h0M740.9 528.5h0M685.7 501h0M693.3 549.3h0M672.4 547.5h0M699.2 538.1h0M675.6 542.5h0M716.1 510h0M689.6 465.4h0"/>
<path stroke="#ff008f" d="M728.2 548.2h0M728.7 503.6h0M680.7 575.6h0M750.9 485h0M667.9 476.8h0M696.7 519h0M744.1 501.4h0M711.6 501.5h0M708.4 540.1h0M664.8 544.4h0M758.6 477.2h0M706.5 530.6h0M714.1 539.1h0M663.7 586.8h0M711.4 535.2h0M712.4 496.9h0M678.7 533.4h0M704.7 532.1h0M694.6 512.6h0M713.4 544.7h0M654 523.9h0M724.3 512.9h0M704.9 461.7h0M764.5 511.4h0M711 504.5h0M678.1 496h0M696.2 522.1h0M704.9 538h0M696.5 506.9h0M739.5 528.7h0M713.7 553.3h0M648.5 559.7h0M677.3 477.6h0M688.8 520.5h0M697 525.8h0M731.2 476.7h0M743.5 491.1h0M721.6 524.5h0M674 520.8h0M724.5 533.8h0M727.5 492.3h0M705.6 557.4h0M714.5 519.7h0M730.4 539.9h0M711.8 467.7h0M715.2 487.1h0M677.5 548.7h0M685.6 552.5h0M736.4 521.7h0M732.8 537h0M724.4 528.6h0M712.2 504.9h0M725.2 543.1h0M763 484.7h0M761.3 484.4h0M696.5 521.8h0M737.3 515.8h0M726 495.9h0M688.4 494.6h0M716 523.4h0M677.7 540.1h0M732.9 530.2h0M669.8 554.1h0M713.8 499.9h0M691.2 516.5h0M727.2 508.8h0M732.2 518.6h0M695.3 567.1h0M720.8 472.4h0M666.2 546.5h0"/>
<path stroke="#ff008f" d="M717.5 493.3h0M726.2 510.7h0M690.6 525h0M715.3 507h0M671.6 540.1h0M730.7 460.3h0M726.5 533h0M700.4 512.5h0M761.4 483.8h0M715.2 530.1h0M726.7 497.7h0M659.7 552h0M722.8 510.5h0M706.8 493.5h0M748.9 501.4h0M698.2 478.2h0M699.1 476.8h0M737.7 443.4h0M700.2 486.6h0M694.7 540.8h0M751.7 483.3h0M755.3 495.9h0M687.1 521.4h0M716.1 512.6h0M749 517.4h0M693.9 505.9h0M735 494h0M692.3 537h0M763.4 470.8h0M761.9 516.3h0M718.2 532.5h0M730.3 516.5h0M728.9 518.6h0M699.9 477.8h0M710.1 545.4h0M721.1 497.5h0M724.7 474.8h0M719.4 491.2h0M736.5 524.5h0"/>
<path stroke="#ff0083" d="M718.8 495.6h0M756.2 495.7h0M713.9 513h0M720.8 536.8h0M704.9 521.2h0M706.5 529.6h0M679.6 497.9h0M689.8 530.6h0M732.7 539.4h0M703.5 529.2h0M684 510.5h0M725 508.1h0M748.7 504.8h0M701.1 524.3h0M748.6 497.1h0M755.8 505.6h0M705.5 528.3h0M739.7 512.5h0M688 527.7h0M739.6 521.3h0M720.8 475.7h0M733.2 522.6h0M683.2 553.2h0M718.8 535.8h0M738.7 493.2h0M710.8 537.4h0M704.5 562h0M680.9 500.5h0M738.8 526.4h0M790.5 461.5h0M702 502.9h0M689.5 496h0M712.4 470.9h0M664.6 527.7h0M680.8 538.9h0M723 493.6h0M695.5 553.5h0M749.5 465.6h0M765.8 441.8h0M673.4 499.2h0M710.7 511.4h0M703.3 555.5h0M713.4 567.6h0M732.2 518.4h0M679.4 521.9h0M708.7 531.6h0M724.4 474h0M730.4 507.1h0M702.5 511.2h0M704.3 512h0M748.7 495.3h0M697.3 501.7h0M704.1 526.6h0M742.8 507.5h0M696.8 479.5h0M714.6 511.7h0M740 516.7h0M712.7 511.4h0M750.9 484.7h0M683.7 501.7h0M744.3 490.9h0M724 499.5h0M737.2 504h0M701.4 504.1h0M748.3 489.7h0M704.9 535.4h0M769.8 486.1h0M721.4 489.2h0M702.2 510.6h0M688.6 533.5h0M681.1 508.6h0M680.7 572.2h0M692.6 496.8h0M706.5 526h0M706.5 477.8h0M742.3 489.2h0M749 511.7h0M716.8 516.5h0M699.4 518.6h0"/>
<path stroke="#ff0083" d="M708.8 495.9h0M672.3 527.5h0M690.3 495.2h0M700.5 546.8h0M678.7 538.8h0M743 491.8h0M738.8 511.2h0M727.5 497.4h0M775.8 470h0M723.2 498.6h0M657.1 551.7h0M750.7 476.6h0M673.1 535.6h0M732.2 531h0M754 485.9h0M717.1 516.7h0M727.7 489.2h0M710.2 499h0M673.2 547.4h0M762.2 480.7h0M744.8 489.7h0M741.6 507.6h0M719 532.7h0M756.6 474.1h0M721.7 528.2h0M703.6 546.7h0M705 522.1h0M704.7 515.4h0M704.7 514.1h0M730.4 519.4h0M731.4 487h0M756.1 517.3h0M765.5 468.3h0M759.1 487.5h0M747.2 493.9h0M704.2 516.6h0M724.7 468.6h0M746.3 504.3h0M733.2 496.4h0M742.1 509.2h0M776.5 438h0M739.8 495.8h0M729.1 488.1h0M744.1 483.5h0M721.7 488.7h0M762.1 463.5h0M733.3 501.7h0M730.8 488h0M722.5 496.7h0M725.1 499.7h0M733.4 501h0M697.2 569.7h0M767.9 470.1h0M713.1 534.8h0M747.4 450.6h0M684.3 539.2h0M745.5 472.6h0M769 464.3h0M750.6 481.9h0M746.7 503.8h0M729.2 479.1h0M638.7 531h0M696 487.2h0M704.5 502h0M711 511.4h0M680.6 544.3h0M737.6 495.2h0M724.8 494.3h0M731.1 487.1h0M724 477.7h0M714 512h0M687.3 487.4h0M718.6 503.1h0M721.8 525.1h0M759.6 464.5h0M747.2 498.6h0M762 515.8h0M715.3 500h0M735.3 522.6h0M730.5 498.4h0M724.9 510.1h0M752.1 522h0M716.1 520.2h0M719.9 504.7h0M706.2 491.2h0M677.2 538.1h0M764.7 463.1h0M681.5 523.8h0M764 467.7h0M739 492.2h0M715 514.5h0M741.5 543h0M680.4 550.3h0M766.8 497h0M743.2 444.5h0M722.8 493.8h0M693.9 508.5h0M737 523.7h0M735.7 525.6h0M714.7 501.5h0M736.1 512.7h0M741.8 492.3h0M730.3 468.4h0M714.4 479.7h0M736.3 471.8h0M677.8 544.7h0M716.3 505.3h0M730.5 522.8h0M711.4 478.3h0M731.7 440.8h0M722.6 493.4h0M738.3 481.7h0M740 474.5h0M710 524.9h0"/>
<path stroke="#ff0076" d="M766.7 443.3h0M745.1 498.2h0M735.6 477.8h0M688.5 521.6h0M737.2 529.1h0M727.8 462h0M728.6 500h0M732.6 543.3h0M737.7 490.1h0M721.3 501.6h0M725.1 491.8h0M684.7 540.6h0M719.7 504.7h0M734.4 481.2h0M736.5 475.2h0M714.3 492.3h0M784.7 496.9h0M703.7 479.9h0M725 493.7h0M693 532.6h0M733.6 501.4h0M757.2 464.5h0M730.5 494.1h0M674.5 513.7h0M697.5 500.6h0M700.8 509.3h0M698.8 518.9h0M744.4 451.1h0M733.1 510.4h0M743.6 462.8h0M719.5 509.5h0M705.3 491.9h0M712.6 487.7h0M792.4 431h0M697 491.4h0M774.8 457.3h0M752.6 399.7h0M707.8 374h0M686.8 502.3h0M722.2 502.4h0M723.3 482.2h0M743.6 499.6h0M713.5 462.8h0M776.3 452.7h0M716.9 479h0M720.1 461h0M710.6 477.3h0M736.3 499.1h0M700.8 501.3h0M741.7 491.6h0M686.1 524.8h0M684.4 518.9h0M696.4 533.2h0M697.7 478.5h0M741.3 480.7h0M788.6 498.4h0M752.6 505.1h0M742.4 507.5h0M693.5 508.2h0M690.7 505.8h0M702.5 528.4h0M707.9 487.3h0M717.3 494.2h0M712.8 498h0M757 416.2h0M690.8 550.1h0M697.9 541.5h0M732.1 475.5h0M711 501.1h0M809.5 419.4h0M764.3 497.1h0M740.6 516.3h0M717.7 481.5h0M717.1 507.3h0M772.8 499.1h0M707.7 495.7h0M703.4 473.6h0M758.6 465.8h0M739.8 424.7h0M756.7 484.6h0M708 458.9h0M713.3 505.2h0M776.8 436.3h0M682.1 539.8h0M750.3 498.5h0M729.7 489.5h0M762 476.9h0M734.2 437.3h0M715.2 477.8h0M727.9 499.2h0M753.2 451.2h0M752.8 447h0M767.5 467.3h0M711.1 506.8h0M739.5 466.2h0M716.6 525.8h0M703.5 493.8h0M781.2 478h0M736.8 498.3h0M752.6 449.5h0M742.1 494.5h0M688 524.6h0M764.1 474.2h0M733.4 440.5h0M758.4 458h0M734.7 527.3h0M756.6 492.6h0M729.3 490.2h0M726.7 466.9h0M733.6 509.9h0M689.6 529.3h0M746.6 511.6h0M693.3 526.4h0M753.4 459.2h0M647.7 533.6h0M752.6 506.8h0M710.1 494.1h0M743.8 481.6h0"/>
<path stroke="#ff0076" d="M695.6 537.5h0M753.9 464.6h0M749 515.6h0M701.2 485.5h0M739.1 491.9h0M726.6 509.4h0M735.2 459.6h0M755.3 487.1h0M747.6 469.3h0M717.7 435h0M715.9 511.7h0M758.9 487.5h0M683.1 468.1h0M725.7 488.3h0M770.5 500.6h0M712.8 491h0M741.6 484.2h0M744.7 507h0M758.8 478.5h0M724 493.3h0M698.9 447.8h0M714.7 510h0M733.7 489h0M729.4 490.9h0M693.5 534.6h0M750.7 463.2h0M754.1 483.6h0M747.2 442.9h0M692.1 520.4h0M766.4 429.2h0M746.8 483.2h0M765.5 503.4h0M716.1 475.5h0M763.1 527.8h0M697.5 491.4h0M757.2 425.8h0M762.5 479.4h0M723.1 470.4h0M755 448.1h0M735.1 482.5h0M736 519.6h0M766.9 454.6h0M702.2 486.3h0M749.4 468.5h0M725.3 507.1h0M722 462.7h0M722.7 487.3h0M738.4 484.7h0M755.6 481.6h0M745.2 525h0M715.6 488.9h0M712.5 519.4h0M726.7 493.4h0M777.9 437.5h0M749.6 453.8h0M741.5 466.1h0M741.1 493.5h0M734.1 479.4h0M714.9 502.4h0M713 564h0M738.9 507.5h0M762.4 445.3h0M712.3 509.1h0M757.1 435.4h0M708.6 471.9h0M717.9 433.9h0M686 457.3h0M732.3 464h0M727.4 489.7h0M731.1 492.2h0M709.6 507.9h0M771.9 448.4h0M721.8 528.8h0M724.5 481.5h0M724 509.5h0M764.3 480.5h0M721.5 452.8h0M711.3 518.7h0M758.5 487.1h0M725.7 421.9h0M797.7 456.5h0M710.3 530.8h0M724.3 495.3h0"/>
<path stroke="#ff0069" d="M732.6 472.6h0M723.1 451.1h0M736.5 436.6h0M782.8 463.7h0M731.7 500.9h0M762.9 465.9h0M701.5 502h0M735.2 499h0M720.7 488.8h0M736.4 455.6h0M748.9 427.3h0M761.1 458.5h0M725.4 501h0M719.3 450.4h0M723.7 499.5h0M721.2 459.5h0M753.7 493.7h0M746.5 491.2h0M728.5 468.4h0M734.4 440.2h0M764.8 470.4h0M763.5 441.6h0M735.8 497.1h0M745.8 474.9h0M750.7 447.9h0M726.5 487.1h0M707.6 502.8h0M727.4 525h0"/>
<path stroke="#ff0069" d="M755.3 466.2h0M756.5 448.8h0M736.6 520.3h0M754.6 470.5h0M725.1 439h0M756.5 502.6h0M721.3 471.5h0M764.7 476.3h0M693.4 515.3h0M729.5 463.5h0M736 474h0M756.6 460.6h0M741.9 495.6h0M692.5 523.5h0M744.8 490.8h0M720.9 507.3h0M738.1 474h0M702.3 518.7h0M724.8 457.7h0M735.4 482.5h0M780.6 469h0M747.5 475.6h0M713.9 458.7h0M767.8 505.7h0M744.4 469.5h0M726.4 470.8h0M685.6 509.6h0M766.9 424.5h0M742.3 485.6h0M727.7 488.1h0M716.3 451.6h0M724.8 452.1h0M770.2 514h0M732.7 486.7h0M767.7 443.7h0M742.3 487.8h0M718.6 538.7h0M734.4 493.8h0M761.2 454.3h0M744.3 491.7h0M707.7 500.9h0M717.7 503.8h0M771.4 418.4h0M769.3 381.7h0M703.4 498.5h0M736.7 470.6h0M747.2 445.5h0M774.4 523.7h0M743.6 488.6h0M723.2 497.9h0M772.5 457.3h0M789.2 470.2h0M747.4 488.5h0M756.1 426.1h0M705 521.4h0M748.8 488.5h0M748 472.7h0M710.5 520.2h0M747.5 477.1h0M741.1 448.3h0M739.3 464.5h0M756.7 419.1h0M722.7 480.4h0M761.5 463.4h0M715.5 446.8h0M759.6 501.8h0M721.4 501h0M719.2 474.8h0M751.8 436.6h0M687.7 498h0M700.9 446.6h0M719.7 448h0M741.8 459.7h0M726.2 511.5h0M745.1 444.1h0M741.3 527h0M713.4 481.3h0M753.6 446.9h0M701.6 477h0M735.5 466.9h0M782 448.8h0M734.9 491.2h0M745.4 476h0M710.8 497.8h0M772.4 447.1h0M731.4 452.4h0M730.7 444.4h0M737.1 458h0M717.2 518.7h0M764.8 474h0M740.3 457.7h0M742.1 448.9h0M731.7 473.5h0M756.7 479.1h0M739.6 473.2h0M736.1 512.1h0M687.5 498.7h0M720.2 481.3h0M749.2 476.5h0M765.3 484.3h0M762.8 472.7h0M733.2 471.8h0M741 470h0M734.9 491.4h0M761.4 451.8h0M718.8 483.4h0M747.1 418.9h0M756.4 465.2h0M660.2 462.5h0M725.1 495.7h0M768.9 457.6h0M740.5 463.4h0M755.8 459.6h0"/>
<path stroke="#ff0069" d="M734.7 503.8h0M765 424.9h0M768.9 445.6h0M720.2 494.9h0M738.9 448.2h0M761.7 429h0M694.9 501.3h0M785.2 444.9h0M755.2 474.4h0M714.8 435.3h0M764 442.9h0M759.3 448.8h0M752.4 491.3h0M761.2 451.3h0M770.6 433.8h0M756 471.8h0M742.8 469.4h0M740.4 480.9h0M731.7 481.9h0M753.3 460.6h0M701.9 462.9h0M774.3 435.5h0M701.6 491.1h0M761.8 452.4h0M723 465.1h0M807.2 425.3h0M737.8 458.4h0M731.4 447.1h0M754.1 468.3h0M704.7 458.8h0M750.1 471.9h0M757.5 481.5h0M752.6 444.9h0M739.7 490.6h0M778.2 438h0"/>
<path stroke="#ff005d" d="M724.8 493.6h0M732.8 468.8h0M781 464.7h0M747.8 452.3h0M731.9 498.1h0M727.7 463h0M774.6 427h0M714.9 488.8h0M728.6 462.8h0M723.3 433.1h0M754.8 417.8h0M777.2 433.3h0M735.7 450.7h0M778.3 411.5h0M740.3 494h0M779.7 407.7h0M766.3 455.9h0M733.3 442.6h0M741.1 405.4h0M797.9 441.2h0M746.6 400.2h0M773.7 444.6h0M742.2 477.7h0M764.5 459.4h0M718.5 493.7h0M714.6 514.5h0M754.8 418.1h0M717.3 472.9h0M743.8 489.6h0M729.2 448.8h0M761.4 476.2h0M731.6 500.1h0M777.3 439.6h0M744.1 479.2h0M751.5 467.7h0M741.1 459.5h0M758.9 441.4h0M726.9 470.4h0M751.6 461.1h0M763.6 459h0M765.2 477.4h0M740 488.2h0M721.5 506.9h0M773.8 384.3h0M732.9 456.3h0M712.7 468.4h0M767.3 468.2h0M749.4 425.1h0M795.3 409.2h0M749.1 463.8h0M763.3 439.3h0M771.9 478.5h0M772.9 413.8h0M790.6 441.4h0M743.4 481.9h0M742.7 503.9h0M720.7 477.7h0M757.7 421h0M672.7 536.6h0M734.5 475h0M783.5 432.8h0M734.6 458.7h0M766.9 347.4h0M723.6 538.6h0M776.2 432.9h0M798.1 393.3h0M736.3 446.7h0M759.6 434.2h0M748.1 557.3h0M791.9 386.7h0M726.3 438.1h0M720.7 463.4h0M725.5 448.9h0M757.1 420.7h0M759.8 415h0M749.9 474.1h0M779.4 474.6h0M740.1 481.7h0M715.8 463.2h0"/>
<path stroke="#ff005d" d="M750 465.9h0M781.8 422.1h0M741 486.1h0M765.1 465.1h0M717.3 449.3h0M768.8 410.3h0M742.3 424.1h0M763 468.5h0M757.8 416.4h0M745.2 411.7h0M762.4 478.6h0M762 441h0M737.4 431.3h0M734.9 472.6h0M739.4 461h0M765.5 447.1h0M725.9 500.9h0M775.5 485.4h0M768.9 437.7h0M766 496.1h0M782.7 435.1h0M758.9 498.7h0M750.8 466.2h0M767.1 477h0M763.4 450.1h0M718.4 490.3h0M753.5 472.8h0M753.2 462h0M765.1 425.3h0M767.5 451.9h0M745.9 425h0M754.5 459.6h0M750.8 465.8h0M746.9 434.6h0M740.8 457h0M742.5 431.2h0M715.7 435.5h0M801.6 452.5h0M764 504.1h0M788.6 438.6h0M745.2 477h0M732.3 492.8h0M717.7 428.7h0M758.9 427.3h0M734.3 457h0M732.7 433h0M687.4 519.4h0M756.6 452.4h0M779.1 412.7h0M770.9 450.7h0M700.8 413.3h0M712.5 473.3h0M763.1 452.3h0M756.7 405.2h0M710.9 432.8h0M744.2 414.9h0M745.4 499.9h0M692.7 512.3h0M739.6 459.8h0M782.1 420.6h0M783 424h0M771.9 423.7h0M804.9 434.1h0M752.9 458.3h0M785.2 418.2h0M731.1 467.3h0M754.3 465.1h0M751 393.3h0M734.7 441.8h0M720.7 494.3h0M679.5 492.3h0M716.8 452h0M745.7 434.4h0M767.1 447.2h0M745.7 411.3h0M753.1 425.6h0M709 403.1h0M785.5 450.2h0M734.8 434.1h0M789.2 427.1h0M701.7 478.7h0M727.9 437.6h0M713.4 412.4h0M755.6 435.4h0M690.4 422.5h0M773.4 430.3h0M694.8 527.2h0M750.5 385.5h0M737 455.4h0M734.8 527h0M730.4 454.6h0M745.2 476.8h0M761.7 456.7h0M792.5 412h0M743.1 430.1h0M722.9 508.5h0M760.4 413.5h0M736.1 447.7h0M763.6 429.7h0M741.9 453.8h0M738.6 447.8h0M776.4 446.1h0M735.1 456.2h0M704.8 469.2h0M764.8 426.2h0M744.8 454.2h0M759.9 436.2h0M756.5 445.4h0"/>
<path stroke="#ff0050" d="M769.3 423.7h0M756.6 455h0M738.8 448.5h0M764.6 423.4h0M729.9 480.2h0M719.5 473.8h0M779.8 425.7h0M753 405.8h0M766.1 400.3h0M784.4 380h0M694.4 470.7h0M759 466.4h0M739.1 405.8h0M761.6 434.9h0M748.7 450.7h0M783.8 401.6h0M762.6 436.6h0M774.9 441.7h0M783.7 450.6h0M779.3 400.9h0M753.5 431.1h0M703.3 480.9h0M714.6 481.8h0M759.5 448.5h0M736 463.9h0M800.4 392h0M663.3 537.4h0M747.2 426.7h0M768.5 470.8h0M759.7 426.9h0M732 506.2h0M758.8 479.5h0M763.5 414h0M743.7 433.8h0M723.7 481.3h0M858.7 395.7h0M722.2 472.2h0M756.4 439.4h0M765.8 418.9h0M742.1 430.3h0M741.3 453.7h0M723.2 402.9h0M781.6 421.9h0M765.3 500.2h0M695.7 470.1h0M763.6 429.7h0M762.7 409.8h0M749.8 455.2h0M778.9 433.4h0M746 415.2h0M737.6 431.3h0M782.7 424.4h0M774 391.8h0M765.3 456.4h0M764.4 450.1h0M767 443.9h0M763.5 412.5h0M755.9 448.4h0M735.1 443.6h0M738.3 441h0M733 450h0M780.3 438h0M764.6 417.7h0M732.7 454h0M725.7 486.5h0M752.2 408.1h0M751.9 446h0M761.3 420h0M742.6 434.2h0M755.5 386.4h0M765.6 455.7h0M730.2 424.1h0M743.6 388.4h0M763.7 493.3h0M770.5 403.5h0M784 467.8h0M723.7 395.9h0M705.5 514.5h0M747.2 435.6h0M720.7 459h0M753.2 459.5h0M719.9 399.6h0M752.3 427.5h0M720.2 454.8h0M691.9 500.6h0M754.1 402.7h0M736.1 464.5h0M753.4 430.4h0M747.4 434.7h0M737.3 454.7h0M786.9 414.4h0M755.3 472.7h0M762.9 408.7h0M714.6 416.8h0M756.6 392.4h0M770.7 423.2h0M773.2 433.4h0M722.4 471.1h0M722.4 443.4h0M690.7 467.6h0M756.7 436.3h0M794.4 392.1h0M744.5 436.4h0M782.3 418.9h0M743.1 423.2h0M754 353h0M715.9 413.4h0M740.9 445.1h0"/>
<path stroke="#ff0050" d="M750.9 483.7h0M754.2 452.1h0M756.2 405.4h0M728.7 392.4h0M748.5 427.9h0M747.5 442.1h0M730 435.6h0M736.9 437.8h0M746.5 429.2h0M770 421.1h0M838 427.2h0M741.3 425.3h0M737.1 387.3h0M736.4 361.7h0M709 436.5h0M748.1 467.9h0M773.2 428.2h0M737.9 452.8h0M802.8 420h0M730.9 431.3h0M736.1 418.7h0M753.9 475h0M735.6 448h0M734.1 413.4h0M747.4 421.7h0M772.4 435h0M732.4 386.1h0M744.7 488.4h0M781.9 414.6h0M841.7 383.1h0M790.6 379.6h0M773.1 439.9h0M742.6 461.1h0M781.8 421.3h0M742.2 423.5h0M707.3 389.8h0M732.9 473.6h0M739.5 456.1h0M764 413.4h0M758.2 418.5h0M724 487.7h0M742.1 469.4h0M737.9 399.2h0M760.7 388h0M747.7 477.1h0M711.5 452.1h0M759.8 417h0M750.7 397.8h0M727.6 444.1h0M745.9 406.3h0M768.4 437.1h0M743.2 429.7h0M763.6 477.2h0M769.3 376.7h0M745.1 420.7h0M786.6 436.5h0M767.1 413.8h0M790.3 414.8h0M764.9 450.4h0M737.5 437h0M750.6 403.8h0M804.5 394.6h0M759.7 423.8h0M739.4 462.7h0M770.6 416.3h0M740.9 395.4h0M780.7 414.7h0M769 432.8h0M756.1 471.8h0M745.8 468.1h0M778.1 395.1h0M746 403h0M782 415.1h0M772.3 421.4h0M758.4 409.5h0M712.4 515.7h0M745.6 409.1h0M781 367.7h0M789.9 439.3h0M707.3 467.8h0M768.1 389.7h0M756.5 413.1h0M740.6 416.8h0M757 432.1h0M756 435.5h0M776.6 375.9h0M758 386.1h0M758.7 374.9h0M738.4 433.3h0M783.5 423.2h0M754.6 407.8h0M764.9 447.1h0M760.8 431.7h0M761.6 392.9h0M754.9 427.1h0M747.9 417.7h0M736.3 443.6h0M756.8 419h0M760.1 446.5h0M732.2 489h0M793.2 400.6h0M775.3 376.7h0M742.4 418.2h0M755 458.5h0M760.7 394.5h0M789.5 453.9h0M766.3 441.9h0M735 464.9h0M715.8 432.7h0M738.1 477.6h0M765 419.5h0M739.5 427.4h0M731.8 432.1h0M787.5 449h0"/>
<path stroke="#ff0050" d="M746.1 424.6h0M716.2 467.4h0M792.7 391h0M765.2 448.5h0M753.5 413.5h0M736.5 416.2h0M785.2 438.6h0M762.1 428.3h0M781 442.5h0M742.7 423.9h0M724.7 427.7h0M749.7 443h0M757.5 423.4h0M733.8 402.4h0M742.3 432h0M752.6 483.4h0M745.5 402h0M759.8 407.3h0M742.1 404.4h0M739.8 424.8h0M777.3 434.7h0M786.7 413.2h0M759.2 405.5h0M719.4 406.2h0M726.1 438.9h0M734.4 444.9h0M720 473.7h0M739 459.3h0M747.4 441.4h0M747.5 435.7h0M776.8 420.6h0M755 452.9h0M734.8 402.9h0M765.9 370.5h0M754.8 446.5h0M751.9 425.8h0M754.5 432.9h0M753.3 402.4h0M780.4 456h0M714.4 412.4h0M772.6 382.8h0M742.9 396.3h0M758.2 391.5h0M758.9 399.7h0M765.4 399h0M776.8 422.6h0M767.6 436.3h0M787.9 406.4h0M790.5 445.6h0M760.8 395.5h0M719 436h0M749 447.8h0M759 399.9h0"/>
<path stroke="#ff0044" d="M760.3 409.1h0M740.2 420.9h0M717.3 448.1h0M785.9 424h0M769.1 406h0M769 415.4h0M729.5 399.7h0M738.4 490.6h0M759.9 420.7h0M769.3 400.2h0M781.1 454.5h0M780 404.2h0M759.9 423.2h0M790 344.7h0M742.1 417.4h0M769.9 365.5h0M779.8 400.6h0M740.4 408.6h0M744.7 387.2h0M757.6 393h0M737.4 422.3h0M770.4 395.5h0M797.6 417.4h0M758.8 413.1h0M736.6 446.4h0M709.2 410.9h0M750.4 454.4h0M798 403.7h0M783.1 399.8h0M764.1 378.3h0M770.5 408.7h0M756.1 379.4h0M744.6 453.1h0M743.5 407.6h0M799.8 363.5h0M818.1 360.9h0M746.5 366.2h0M719.6 425.7h0M773.9 428.3h0M760.1 398.6h0M731.8 418.2h0M754.9 414.8h0M753.4 422.2h0M744 404.2h0M793.3 414.8h0M746.1 424.3h0M782.8 397h0M725.3 437.6h0M724.8 398.2h0M786.3 370.1h0M750.5 392.7h0M743.6 431h0M747.5 422.4h0M742.1 441.8h0M788.6 386.6h0M765.7 397.4h0M747.5 417.8h0M777.9 435.5h0M728.6 389.3h0"/>
<path stroke="#ff0044" d="M739.3 408.4h0M775.9 377.5h0M751.8 409.7h0M761.4 434.6h0M719.9 456.1h0M768.2 431.3h0M737.6 436.3h0M734.5 422.5h0M800.4 417.4h0M789.2 370.1h0M748.1 403.2h0M765.7 430.5h0M751.8 435.1h0M777.2 385.3h0M766.1 399.1h0M808.9 423.9h0M769.7 400.8h0M797.6 363.8h0M808.3 354.9h0M764.7 434.8h0M742 419.1h0M766.1 395.9h0M780.1 336.7h0M805.7 400h0M724 419.2h0M761.7 414.8h0M758.7 447.5h0M780.4 397h0M717.8 407h0M770.9 400h0M736.2 394.7h0M748 425.5h0M771.5 398.8h0M754.9 434.6h0M737.4 429.2h0M749.5 409.4h0M738.1 394.9h0M740.8 431.1h0M778.1 417.4h0M732.4 388.3h0M740.8 455.8h0M746.8 426.8h0M775.6 399.8h0M754 351.6h0M750.7 382.9h0M752 449h0M756.9 401.8h0M773.2 390.3h0M751.5 413.2h0M786.8 337.8h0M781.5 394h0M732.2 392h0M740.6 400.9h0M738.3 465.8h0M713.5 458h0M747.6 380h0M780.9 420.4h0M723.1 468.6h0M793.3 344.6h0M785.9 383.3h0M734.9 405.1h0M757.8 415.3h0M771.9 407.2h0M775.9 390.2h0M732.7 421.6h0M758.7 380.2h0M722.6 426.7h0M732.5 404.6h0M756.3 414.7h0M772.3 402.4h0M754.2 421.7h0M781.5 385.5h0M765.9 392.9h0M712.1 409h0M713.4 437.1h0M735.8 423.1h0M738.4 401.8h0M704.6 441.6h0M778.3 340.8h0M753.5 430h0M778.7 407.4h0M773.9 363.9h0M765.4 438.9h0M773.2 371.7h0M753.5 419.9h0M780.4 357.2h0M760.7 389.5h0M750.2 418.8h0M738.3 435.2h0M789.7 370.7h0M747.7 377.6h0M808.2 337.7h0M786.1 416.3h0M783.6 432.1h0M730.7 373.7h0M775.1 326.4h0M731.7 371.7h0M773.4 397.9h0M770.1 384.3h0M757.2 377.4h0M750.2 401.2h0M751.6 431.5h0M740.8 420.2h0M764.4 396.4h0"/>
<path stroke="#ff0044" d="M769.3 370.6h0M708.6 462.8h0M746.7 421.8h0M740.8 407.8h0M731.3 360.1h0M758.1 399.1h0M751.8 439.1h0M736.2 411.4h0M744.4 456.3h0M767.4 404.2h0M769.6 418.9h0M727.2 396.7h0M726 423.2h0M757.5 388.7h0M845.4 378.4h0M774.8 407.9h0M761.4 419.2h0M737.9 362.6h0"/>
<path stroke="#ff0037" d="M744.8 363h0M741.4 347.4h0M757.7 375.7h0M764 363.8h0M814.1 355.8h0M752.2 417.4h0M759.5 385.8h0M728.9 393.4h0M753.7 383.6h0M759 430.9h0M767.3 397.5h0M731.2 410.6h0M720.9 389.7h0M777.6 405.9h0M744.5 385.4h0M788.7 398h0M761.6 403.8h0M730.4 393.5h0M777.5 348.7h0M725.1 378.1h0M796.6 369.3h0M774.1 387.4h0M712.9 417.7h0M777.2 373.3h0M763.6 416.7h0M751.5 410.6h0M762.2 433.3h0M781.9 342.1h0M732 354.7h0M698.4 443h0M732.6 385.9h0M779.5 353.4h0M787.2 434h0M729.7 408.5h0M742.7 415.7h0M753.9 415.5h0M746.8 441.4h0M703.5 391.6h0M772.4 388.1h0M741 385.6h0M740.3 440.7h0M751.4 380.1h0M761.7 431.3h0M719.8 371.2h0M742.4 457.7h0M750.1 395.9h0M784.5 343.9h0M764.5 397h0M760 405.1h0M741.4 439.7h0M720.7 384.1h0M764.5 392.9h0M780.6 410.8h0M732.7 417.2h0M786.7 415.4h0M799.5 399.2h0M802.5 365.2h0M774.2 393.2h0M773.9 363.2h0M750.5 395.5h0M750.9 425.3h0M777 409.6h0M751.9 440.3h0M715.4 406.3h0M726.6 387.1h0M775.5 395.6h0M768.5 410.1h0M761.1 402.9h0M766.5 400.2h0M764.2 436.6h0M726.6 445.1h0M763.5 399.5h0M750.3 373.1h0M741.9 421.1h0M706 417.6h0M734.5 441h0M769.5 385.6h0M769 381.2h0M791.7 328.3h0M756.8 391.2h0M748.4 400.4h0M762.2 415.1h0M764.4 382.1h0M756.2 394.7h0M726.8 400.3h0M765.9 381h0M753.7 403.6h0M784.7 372.7h0M765.7 367.6h0M735.7 393h0M760.9 434.3h0M735.5 459.1h0M790.1 363.4h0M747.7 403.5h0M758.6 393.2h0M802.9 383.4h0M833.5 415.1h0M774.5 404.6h0M753.6 347.6h0M784.7 364h0M726.6 440.4h0M784.5 342h0M743.8 437.4h0M755.4 424.6h0M729.9 396.6h0M752.9 403.6h0M806.8 364.3h0M755.2 403.5h0M752.9 441.3h0M749.6 379.6h0M714.4 384.6h0"/>
</g>
<g stroke="#000" stroke-width="3.1" fill="none" stroke-linejoin="round" stroke-linecap="butt">
<path d="M752.1 382.1L745.8 346.5L733.5 312.6L715.5 281.3L692.4 253.7L664.8 230.5L633.6 212.4L599.8 200.1L564.3 193.8L528.3 193.8L492.9 200.1L459.0 212.4L427.9 230.5L400.3 253.7L377.1 281.3L359.1 312.6L346.8 346.5L340.6 382.1L340.6 418.1L346.8 453.7L359.1 487.6L377.1 518.9L400.3 546.5L427.9 569.7L459.0 587.8L492.9 600.1L528.3 606.4L564.3 606.4L599.8 600.1L633.6 587.8L664.8 569.7L692.4 546.5L715.5 518.9L733.5 487.6L745.8 453.7L752.1 418.1Z"/>
<path d="M752.1 382.1L751.0 386.6M745.8 346.5L733.9 351.2M733.5 312.6L713.9 320.5M715.5 281.3L689.5 296.8M692.4 253.7L671.2 277.3M664.8 230.5L642.9 258.3M633.6 212.4L622.9 234.1M599.8 200.1L601.5 220.0M564.3 193.8L569.9 207.5M528.3 193.8L534.6 206.1M492.9 200.1L490.7 213.9M459.0 212.4L457.8 223.7M427.9 230.5L425.6 240.7M400.3 253.7L398.0 260.7M377.1 281.3L378.0 288.3M359.1 312.6L365.9 309.8M346.8 346.5L349.9 345.0M340.6 382.1L337.8 378.3M340.6 418.1L343.2 416.3M346.8 453.7L359.0 445.4M359.1 487.6L380.0 476.4M377.1 518.9L407.9 499.3M400.3 546.5L430.0 515.5M427.9 569.7L452.0 536.1M459.0 587.8L471.2 568.3M492.9 600.1L492.2 588.5M528.3 606.4L523.8 594.2M564.3 606.4L562.0 594.2M599.8 600.1L600.1 584.2M633.6 587.8L639.0 573.4M664.8 569.7L671.1 563.0M692.4 546.5L692.4 545.6M715.5 518.9L711.9 519.4M733.5 487.6L732.9 485.7M745.8 453.7L749.0 451.7M752.1 418.1L757.1 419.5"/>
</g>
<g stroke="#000" stroke-width="1.3">
<circle cx="752.1" cy="382.1" r="7.9" fill="#ff0000"/><circle cx="751.0" cy="386.6" r="7.9" fill="#ff0000"/>
<circle cx="745.8" cy="346.5" r="7.9" fill="#ff2a00"/><circle cx="733.9" cy="351.2" r="7.9" fill="#ff2a00"/>
<circle cx="733.5" cy="312.6" r="7.9" fill="#ff5400"/><circle cx="713.9" cy="320.5" r="7.9" fill="#ff5400"/>
<circle cx="715.5" cy="281.3" r="7.9" fill="#ff7e00"/><circle cx="689.5" cy="296.8" r="7.9" fill="#ff7e00"/>
<circle cx="692.4" cy="253.7" r="7.9" fill="#ffa700"/><circle cx="671.2" cy="277.3" r="7.9" fill="#ffa700"/>
<circle cx="664.8" cy="230.5" r="7.9" fill="#ffd100"/><circle cx="642.9" cy="258.3" r="7.9" fill="#ffd100"/>
<circle cx="633.6" cy="212.4" r="7.9" fill="#fbf700"/><circle cx="622.9" cy="234.1" r="7.9" fill="#fbf700"/>
<circle cx="599.8" cy="200.1" r="7.9" fill="#d9ff00"/><circle cx="601.5" cy="220.0" r="7.9" fill="#d9ff00"/>
<circle cx="564.3" cy="193.8" r="7.9" fill="#afff00"/><circle cx="569.9" cy="207.5" r="7.9" fill="#afff00"/>
<circle cx="528.3" cy="193.8" r="7.9" fill="#85ff00"/><circle cx="534.6" cy="206.1" r="7.9" fill="#85ff00"/>
<circle cx="492.9" cy="200.1" r="7.9" fill="#5cff00"/><circle cx="490.7" cy="213.9" r="7.9" fill="#5cff00"/>
<circle cx="459.0" cy="212.4" r="7.9" fill="#32ff00"/><circle cx="457.8" cy="223.7" r="7.9" fill="#32ff00"/>
<circle cx="427.9" cy="230.5" r="7.9" fill="#08ff00"/><circle cx="425.6" cy="240.7" r="7.9" fill="#08ff00"/>
<circle cx="400.3" cy="253.7" r="7.9" fill="#00ff22"/><circle cx="398.0" cy="260.7" r="7.9" fill="#00ff22"/>
<circle cx="377.1" cy="281.3" r="7.9" fill="#00ff4c"/><circle cx="378.0" cy="288.3" r="7.9" fill="#00ff4c"/>
<circle cx="359.1" cy="312.6" r="7.9" fill="#00ff76"/><circle cx="365.9" cy="309.8" r="7.9" fill="#00ff76"/>
<circle cx="346.8" cy="346.5" r="7.9" fill="#00ff9f"/><circle cx="349.9" cy="345.0" r="7.9" fill="#00ff9f"/>
<circle cx="340.6" cy="382.1" r="7.9" fill="#00ffc9"/><circle cx="337.8" cy="378.3" r="7.9" fill="#00ffc9"/>
<circle cx="340.6" cy="418.1" r="7.9" fill="#00fff3"/><circle cx="343.2" cy="416.3" r="7.9" fill="#00fff3"/>
<circle cx="346.8" cy="453.7" r="7.9" fill="#00e1ff"/><circle cx="359.0" cy="445.4" r="7.9" fill="#00e1ff"/>
<circle cx="359.1" cy="487.6" r="7.9" fill="#00b7ff"/><circle cx="380.0" cy="476.4" r="7.9" fill="#00b7ff"/>
<circle cx="377.1" cy="518.9" r="7.9" fill="#008dff"/><circle cx="407.9" cy="499.3" r="7.9" fill="#008dff"/>
<circle cx="400.3" cy="546.5" r="7.9" fill="#0064ff"/><circle cx="430.0" cy="515.5" r="7.9" fill="#0064ff"/>
<circle cx="427.9" cy="569.7" r="7.9" fill="#003aff"/><circle cx="452.0" cy="536.1" r="7.9" fill="#003aff"/>
<circle cx="459.0" cy="587.8" r="7.9" fill="#0010ff"/><circle cx="471.2" cy="568.3" r="7.9" fill="#0010ff"/>
<circle cx="492.9" cy="600.1" r="7.9" fill="#1a00ff"/><circle cx="492.2" cy="588.5" r="7.9" fill="#1a00ff"/>
<circle cx="528.3" cy="606.4" r="7.9" fill="#4400ff"/><circle cx="523.8" cy="594.2" r="7.9" fill="#4400ff"/>
<circle cx="564.3" cy="606.4" r="7.9" fill="#6e00ff"/><circle cx="562.0" cy="594.2" r="7.9" fill="#6e00ff"/>
<circle cx="599.8" cy="600.1" r="7.9" fill="#9700ff"/><circle cx="600.1" cy="584.2" r="7.9" fill="#9700ff"/>
<circle cx="633.6" cy="587.8" r="7.9" fill="#c100ff"/><circle cx="639.0" cy="573.4" r="7.9" fill="#c100ff"/>
<circle cx="664.8" cy="569.7" r="7.9" fill="#eb00ff"/><circle cx="671.1" cy="563.0" r="7.9" fill="#eb00ff"/>
<circle cx="692.4" cy="546.5" r="7.9" fill="#ff00e9"/><circle cx="692.4" cy="545.6" r="7.9" fill="#ff00e9"/>
<circle cx="715.5" cy="518.9" r="7.9" fill="#ff00bf"/><circle cx="711.9" cy="519.4" r="7.9" fill="#ff00bf"/>
<circle cx="733.5" cy="487.6" r="7.9" fill="#ff0095"/><circle cx="732.9" cy="485.7" r="7.9" fill="#ff0095"/>
<circle cx="745.8" cy="453.7" r="7.9" fill="#ff006c"/><circle cx="749.0" cy="451.7" r="7.9" fill="#ff006c"/>
<circle cx="752.1" cy="418.1" r="7.9" fill="#ff0042"/><circle cx="757.1" cy="419.5" r="7.9" fill="#ff0042"/>
</g>
<g stroke="#000" stroke-width="1.3">
<path d="M133.25 80.00v14.2M133.25 720.00v-14.2"/>
<path d="M236.52 80.00v14.2M236.52 720.00v-14.2"/>
<path d="M339.79 80.00v14.2M339.79 720.00v-14.2"/>
<path d="M443.06 80.00v14.2M443.06 720.00v-14.2"/>
<path d="M546.33 80.00v14.2M546.33 720.00v-14.2"/>
<path d="M649.59 80.00v14.2M649.59 720.00v-14.2"/>
<path d="M752.86 80.00v14.2M752.86 720.00v-14.2"/>
<path d="M856.13 80.00v14.2M856.13 720.00v-14.2"/>
<path d="M959.40 80.00v14.2M959.40 720.00v-14.2"/>
<path d="M133.25 710.71h14.2M959.40 710.71h-14.2"/>
<path d="M133.25 607.17h14.2M959.40 607.17h-14.2"/>
<path d="M133.25 503.63h14.2M959.40 503.63h-14.2"/>
<path d="M133.25 400.10h14.2M959.40 400.10h-14.2"/>
<path d="M133.25 296.57h14.2M959.40 296.57h-14.2"/>
<path d="M133.25 193.03h14.2M959.40 193.03h-14.2"/>
<path d="M133.25 89.50h14.2M959.40 89.50h-14.2"/>
</g>
<rect x="133.50" y="80.25" width="826.15" height="640.00" fill="none" stroke="#000" stroke-width="3.2"/>
<text transform="translate(133.55 747.00) scale(1.1250 1)" text-anchor="middle" font-size="28.20">-2.0</text>
<text transform="translate(236.82 747.00) scale(1.1250 1)" text-anchor="middle" font-size="28.20">-1.5</text>
<text transform="translate(340.09 747.00) scale(1.1250 1)" text-anchor="middle" font-size="28.20">-1.0</text>
<text transform="translate(443.36 747.00) scale(1.1250 1)" text-anchor="middle" font-size="28.20">-0.5</text>
<text transform="translate(547.53 747.00) scale(1.1250 1)" text-anchor="middle" font-size="28.20">0.0</text>
<text transform="translate(650.79 747.00) scale(1.1250 1)" text-anchor="middle" font-size="28.20">0.5</text>
<text transform="translate(754.06 747.00) scale(1.1250 1)" text-anchor="middle" font-size="28.20">1.0</text>
<text transform="translate(857.33 747.00) scale(1.1250 1)" text-anchor="middle" font-size="28.20">1.5</text>
<text transform="translate(960.60 747.00) scale(1.1250 1)" text-anchor="middle" font-size="28.20">2.0</text>
<text transform="translate(128.30 719.31) scale(1.1250 1)" text-anchor="end" font-size="28.20">-1.5</text>
<text transform="translate(128.30 615.77) scale(1.1250 1)" text-anchor="end" font-size="28.20">-1.0</text>
<text transform="translate(128.30 512.24) scale(1.1250 1)" text-anchor="end" font-size="28.20">-0.5</text>
<text transform="translate(128.30 408.70) scale(1.1250 1)" text-anchor="end" font-size="28.20">0.0</text>
<text transform="translate(128.30 305.17) scale(1.1250 1)" text-anchor="end" font-size="28.20">0.5</text>
<text transform="translate(128.30 201.63) scale(1.1250 1)" text-anchor="end" font-size="28.20">1.0</text>
<text transform="translate(128.30 98.09) scale(1.1250 1)" text-anchor="end" font-size="28.20">1.5</text>
<text transform="translate(547.10 57.50) scale(1.1130 1)" text-anchor="middle" font-size="41.50">object no. 10 (all data)</text>
<text transform="translate(548.10 778.70) scale(1.0500 1)" text-anchor="middle" font-size="33.30">cos</text>
<text transform="translate(59.25 399.00) rotate(-90) scale(1.0900 1)" text-anchor="middle" font-size="33.30">sin</text>
</svg>
</body></html>
